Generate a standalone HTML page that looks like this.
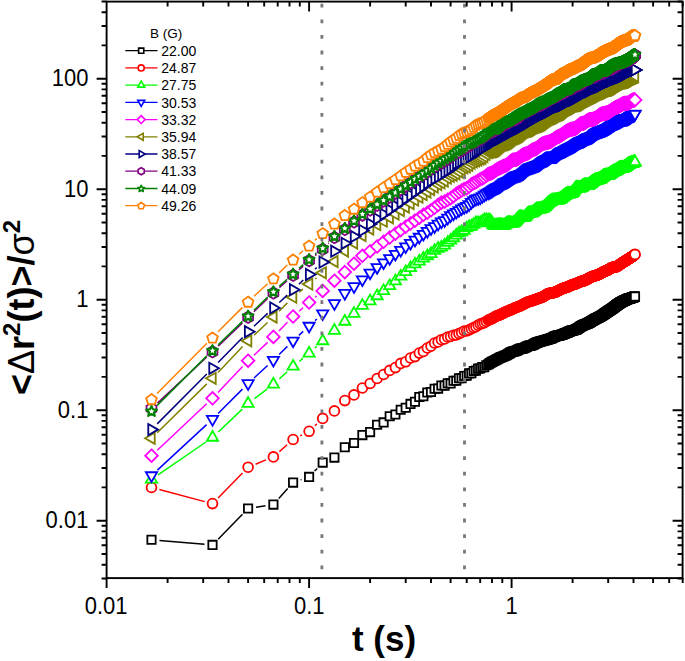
<!DOCTYPE html>
<html><head><meta charset="utf-8"><style>html,body{margin:0;padding:0;background:#fff;width:685px;height:661px;overflow:hidden}svg{display:block;font-family:"Liberation Sans",sans-serif}</style></head>
<body><svg width="685" height="661" viewBox="0 0 685 661">
<defs><path id="sq" d="M-4.15 -4.15h8.3v8.3h-8.3z"/><path id="ci" d="M-4.9 0a4.9 4.9 0 1 0 9.8 0a4.9 4.9 0 1 0 -9.8 0z"/><path id="tu" d="M0 -6.47L5.6 3.23L-5.6 3.23z"/><path id="td" d="M0 6.47L-5.6 -3.23L5.6 -3.23z"/><path id="di" d="M0 -6.3l6.3 6.3l-6.3 6.3l-6.3 -6.3z"/><path id="tl" d="M-6.47 0L3.23 -5.6L3.23 5.6z"/><path id="tr" d="M6.47 0L-3.23 5.6L-3.23 -5.6z"/><path id="hx" d="M4.94 2.85L0 5.7L-4.94 2.85L-4.94 -2.85L-0 -5.7L4.94 -2.85z"/><path id="st" d="M0 -5.2L1.53 -1.7L5.33 -1.33L2.47 1.2L3.29 4.93L0 3L-3.29 4.93L-2.47 1.2L-5.33 -1.33L-1.53 -1.7z"/><path id="pe" d="M0 -5.1L5.33 -1.23L3.29 5.03L-3.29 5.03L-5.33 -1.23z"/></defs>
<rect width="685" height="661" fill="#fff"/>
<g font-family="'Liberation Sans', sans-serif" fill="#000">
<path d="M159.5 540.5L204.5 544.2M218.1 539.2L242.5 514.2M256.0 507.3L265.5 505.8M278.8 498.6L287.7 488.6M300.6 479.9L301.6 479.6M314.6 471.1L317.2 468.4" stroke="#000000" stroke-width="1.5" fill="none"/>
<g stroke="#000000" stroke-width="1.8" fill="#fff"><use href="#sq" x="151.5" y="539.8"/><use href="#sq" x="212.5" y="544.9"/><use href="#sq" x="248.1" y="508.5"/><use href="#sq" x="273.4" y="504.6"/><use href="#sq" x="293.1" y="482.6"/><use href="#sq" x="309.1" y="476.9"/><use href="#sq" x="322.7" y="462.6"/><use href="#sq" x="334.4" y="457.6"/><use href="#sq" x="344.8" y="447.2"/><use href="#sq" x="354.0" y="443.0"/><use href="#sq" x="362.4" y="435.1"/><use href="#sq" x="370.1" y="432.1"/><use href="#sq" x="377.1" y="424.8"/><use href="#sq" x="383.6" y="422.4"/><use href="#sq" x="389.7" y="416.3"/><use href="#sq" x="395.4" y="414.5"/><use href="#sq" x="400.7" y="409.7"/><use href="#sq" x="405.7" y="407.8"/><use href="#sq" x="410.5" y="403.9"/><use href="#sq" x="415.0" y="401.8"/><use href="#sq" x="419.3" y="397.0"/><use href="#sq" x="423.4" y="396.3"/><use href="#sq" x="427.3" y="392.5"/><use href="#sq" x="431.0" y="392.0"/><use href="#sq" x="434.6" y="388.7"/><use href="#sq" x="438.1" y="388.6"/><use href="#sq" x="441.4" y="385.5"/><use href="#sq" x="444.6" y="385.6"/><use href="#sq" x="447.7" y="383.2"/><use href="#sq" x="450.6" y="383.4"/><use href="#sq" x="453.5" y="380.8"/><use href="#sq" x="456.3" y="380.7"/><use href="#sq" x="459.0" y="378.2"/><use href="#sq" x="461.6" y="378.3"/><use href="#sq" x="464.2" y="376.0"/><use href="#sq" x="466.7" y="375.7"/><use href="#sq" x="469.1" y="373.4"/><use href="#sq" x="471.4" y="373.2"/><use href="#sq" x="473.7" y="371.0"/><use href="#sq" x="475.9" y="370.6"/><use href="#sq" x="478.1" y="368.6"/><use href="#sq" x="480.2" y="368.5"/><use href="#sq" x="482.3" y="367.1"/><use href="#sq" x="484.3" y="367.1"/><use href="#sq" x="486.3" y="365.2"/><use href="#sq" x="488.2" y="364.5"/><use href="#sq" x="489.2" y="363.6"/><use href="#sq" x="490.1" y="363.0"/><use href="#sq" x="491.1" y="362.4"/><use href="#sq" x="492.0" y="361.9"/><use href="#sq" x="492.9" y="361.5"/><use href="#sq" x="493.8" y="361.0"/><use href="#sq" x="494.7" y="360.5"/><use href="#sq" x="495.6" y="360.1"/><use href="#sq" x="496.4" y="359.6"/><use href="#sq" x="497.3" y="359.1"/><use href="#sq" x="498.2" y="358.7"/><use href="#sq" x="499.0" y="358.2"/><use href="#sq" x="499.9" y="357.8"/><use href="#sq" x="500.7" y="357.4"/><use href="#sq" x="501.5" y="357.1"/><use href="#sq" x="502.3" y="356.8"/><use href="#sq" x="503.1" y="356.5"/><use href="#sq" x="503.9" y="356.2"/><use href="#sq" x="504.7" y="355.9"/><use href="#sq" x="505.5" y="355.5"/><use href="#sq" x="506.3" y="355.2"/><use href="#sq" x="507.1" y="354.8"/><use href="#sq" x="507.9" y="354.3"/><use href="#sq" x="508.6" y="353.9"/><use href="#sq" x="509.4" y="353.4"/><use href="#sq" x="510.1" y="352.9"/><use href="#sq" x="510.9" y="352.4"/><use href="#sq" x="511.6" y="352.0"/><use href="#sq" x="512.3" y="351.7"/><use href="#sq" x="513.1" y="351.5"/><use href="#sq" x="513.8" y="351.4"/><use href="#sq" x="514.5" y="351.2"/><use href="#sq" x="515.2" y="351.1"/><use href="#sq" x="515.9" y="350.9"/><use href="#sq" x="516.6" y="350.6"/><use href="#sq" x="517.3" y="350.2"/><use href="#sq" x="518.0" y="349.9"/><use href="#sq" x="518.6" y="349.5"/><use href="#sq" x="519.3" y="349.2"/><use href="#sq" x="520.0" y="348.9"/><use href="#sq" x="520.6" y="348.7"/><use href="#sq" x="521.3" y="348.6"/><use href="#sq" x="522.0" y="348.5"/><use href="#sq" x="522.6" y="348.4"/><use href="#sq" x="523.3" y="348.2"/><use href="#sq" x="523.9" y="348.1"/><use href="#sq" x="524.5" y="347.8"/><use href="#sq" x="525.2" y="347.5"/><use href="#sq" x="525.8" y="347.2"/><use href="#sq" x="526.4" y="346.9"/><use href="#sq" x="527.0" y="346.5"/><use href="#sq" x="527.6" y="346.3"/><use href="#sq" x="528.2" y="346.0"/><use href="#sq" x="528.8" y="345.9"/><use href="#sq" x="529.4" y="345.7"/><use href="#sq" x="530.0" y="345.6"/><use href="#sq" x="530.6" y="345.5"/><use href="#sq" x="531.2" y="345.4"/><use href="#sq" x="531.8" y="345.2"/><use href="#sq" x="532.4" y="345.0"/><use href="#sq" x="533.0" y="344.7"/><use href="#sq" x="533.5" y="344.4"/><use href="#sq" x="534.1" y="344.1"/><use href="#sq" x="534.7" y="343.8"/><use href="#sq" x="535.2" y="343.4"/><use href="#sq" x="535.8" y="343.1"/><use href="#sq" x="536.3" y="342.9"/><use href="#sq" x="536.9" y="342.6"/><use href="#sq" x="537.4" y="342.4"/><use href="#sq" x="538.0" y="342.2"/><use href="#sq" x="538.5" y="342.1"/><use href="#sq" x="539.1" y="341.9"/><use href="#sq" x="539.6" y="341.8"/><use href="#sq" x="540.1" y="341.6"/><use href="#sq" x="540.7" y="341.4"/><use href="#sq" x="541.2" y="341.3"/><use href="#sq" x="541.7" y="341.1"/><use href="#sq" x="542.2" y="341.0"/><use href="#sq" x="542.7" y="340.8"/><use href="#sq" x="543.3" y="340.7"/><use href="#sq" x="543.8" y="340.5"/><use href="#sq" x="544.3" y="340.4"/><use href="#sq" x="544.8" y="340.2"/><use href="#sq" x="545.3" y="340.1"/><use href="#sq" x="545.8" y="340.0"/><use href="#sq" x="546.3" y="339.9"/><use href="#sq" x="546.8" y="339.7"/><use href="#sq" x="547.3" y="339.6"/><use href="#sq" x="547.7" y="339.5"/><use href="#sq" x="548.2" y="339.3"/><use href="#sq" x="548.7" y="339.2"/><use href="#sq" x="549.2" y="339.0"/><use href="#sq" x="549.7" y="338.9"/><use href="#sq" x="550.1" y="338.7"/><use href="#sq" x="550.6" y="338.6"/><use href="#sq" x="551.1" y="338.4"/><use href="#sq" x="551.5" y="338.2"/><use href="#sq" x="552.0" y="338.0"/><use href="#sq" x="552.5" y="337.7"/><use href="#sq" x="552.9" y="337.5"/><use href="#sq" x="553.4" y="337.3"/><use href="#sq" x="553.8" y="337.0"/><use href="#sq" x="554.3" y="336.8"/><use href="#sq" x="554.7" y="336.6"/><use href="#sq" x="555.2" y="336.4"/><use href="#sq" x="555.6" y="336.2"/><use href="#sq" x="556.1" y="336.1"/><use href="#sq" x="556.5" y="335.9"/><use href="#sq" x="557.0" y="335.8"/><use href="#sq" x="557.4" y="335.7"/><use href="#sq" x="557.8" y="335.7"/><use href="#sq" x="558.3" y="335.6"/><use href="#sq" x="558.7" y="335.5"/><use href="#sq" x="559.1" y="335.5"/><use href="#sq" x="559.5" y="335.4"/><use href="#sq" x="560.0" y="335.3"/><use href="#sq" x="560.4" y="335.2"/><use href="#sq" x="560.8" y="335.0"/><use href="#sq" x="561.2" y="334.9"/><use href="#sq" x="561.6" y="334.8"/><use href="#sq" x="562.1" y="334.6"/><use href="#sq" x="562.5" y="334.5"/><use href="#sq" x="562.9" y="334.3"/><use href="#sq" x="563.3" y="334.1"/><use href="#sq" x="563.7" y="334.0"/><use href="#sq" x="564.1" y="333.8"/><use href="#sq" x="564.5" y="333.6"/><use href="#sq" x="564.9" y="333.5"/><use href="#sq" x="565.3" y="333.3"/><use href="#sq" x="565.7" y="333.2"/><use href="#sq" x="566.1" y="333.0"/><use href="#sq" x="566.5" y="332.9"/><use href="#sq" x="566.9" y="332.7"/><use href="#sq" x="567.3" y="332.5"/><use href="#sq" x="567.7" y="332.4"/><use href="#sq" x="568.0" y="332.2"/><use href="#sq" x="568.4" y="332.0"/><use href="#sq" x="568.8" y="331.8"/><use href="#sq" x="569.2" y="331.6"/><use href="#sq" x="569.6" y="331.5"/><use href="#sq" x="570.0" y="331.3"/><use href="#sq" x="570.3" y="331.1"/><use href="#sq" x="570.7" y="331.0"/><use href="#sq" x="571.1" y="330.8"/><use href="#sq" x="571.5" y="330.7"/><use href="#sq" x="571.8" y="330.6"/><use href="#sq" x="572.2" y="330.5"/><use href="#sq" x="572.6" y="330.4"/><use href="#sq" x="572.9" y="330.3"/><use href="#sq" x="573.3" y="330.2"/><use href="#sq" x="573.7" y="330.2"/><use href="#sq" x="574.0" y="330.1"/><use href="#sq" x="574.4" y="330.0"/><use href="#sq" x="574.7" y="330.0"/><use href="#sq" x="575.1" y="329.9"/><use href="#sq" x="575.4" y="329.8"/><use href="#sq" x="575.8" y="329.6"/><use href="#sq" x="576.1" y="329.5"/><use href="#sq" x="576.5" y="329.3"/><use href="#sq" x="576.8" y="329.1"/><use href="#sq" x="577.2" y="328.9"/><use href="#sq" x="577.5" y="328.7"/><use href="#sq" x="577.9" y="328.4"/><use href="#sq" x="578.2" y="328.2"/><use href="#sq" x="578.6" y="328.0"/><use href="#sq" x="578.9" y="327.7"/><use href="#sq" x="579.3" y="327.5"/><use href="#sq" x="579.6" y="327.2"/><use href="#sq" x="579.9" y="327.0"/><use href="#sq" x="580.3" y="326.8"/><use href="#sq" x="580.6" y="326.5"/><use href="#sq" x="580.9" y="326.3"/><use href="#sq" x="581.3" y="326.1"/><use href="#sq" x="581.6" y="326.0"/><use href="#sq" x="581.9" y="325.8"/><use href="#sq" x="582.3" y="325.6"/><use href="#sq" x="582.6" y="325.4"/><use href="#sq" x="582.9" y="325.3"/><use href="#sq" x="583.2" y="325.1"/><use href="#sq" x="583.6" y="325.0"/><use href="#sq" x="583.9" y="324.8"/><use href="#sq" x="584.2" y="324.7"/><use href="#sq" x="584.5" y="324.6"/><use href="#sq" x="584.8" y="324.5"/><use href="#sq" x="585.2" y="324.3"/><use href="#sq" x="585.5" y="324.2"/><use href="#sq" x="585.8" y="324.1"/><use href="#sq" x="586.1" y="324.0"/><use href="#sq" x="586.4" y="323.9"/><use href="#sq" x="586.7" y="323.8"/><use href="#sq" x="587.1" y="323.6"/><use href="#sq" x="587.4" y="323.5"/><use href="#sq" x="587.7" y="323.4"/><use href="#sq" x="588.0" y="323.2"/><use href="#sq" x="588.3" y="323.1"/><use href="#sq" x="588.6" y="322.9"/><use href="#sq" x="588.9" y="322.8"/><use href="#sq" x="589.2" y="322.6"/><use href="#sq" x="589.5" y="322.4"/><use href="#sq" x="589.8" y="322.2"/><use href="#sq" x="590.1" y="322.1"/><use href="#sq" x="590.4" y="321.9"/><use href="#sq" x="590.7" y="321.7"/><use href="#sq" x="591.0" y="321.5"/><use href="#sq" x="591.3" y="321.3"/><use href="#sq" x="591.6" y="321.1"/><use href="#sq" x="591.9" y="321.0"/><use href="#sq" x="592.2" y="320.8"/><use href="#sq" x="592.5" y="320.6"/><use href="#sq" x="592.8" y="320.4"/><use href="#sq" x="593.1" y="320.2"/><use href="#sq" x="593.3" y="320.1"/><use href="#sq" x="593.6" y="319.9"/><use href="#sq" x="593.9" y="319.7"/><use href="#sq" x="594.2" y="319.6"/><use href="#sq" x="594.5" y="319.4"/><use href="#sq" x="594.8" y="319.3"/><use href="#sq" x="595.1" y="319.1"/><use href="#sq" x="595.3" y="318.9"/><use href="#sq" x="595.6" y="318.8"/><use href="#sq" x="595.9" y="318.7"/><use href="#sq" x="596.2" y="318.5"/><use href="#sq" x="596.5" y="318.4"/><use href="#sq" x="596.8" y="318.2"/><use href="#sq" x="597.0" y="318.1"/><use href="#sq" x="597.3" y="318.0"/><use href="#sq" x="597.6" y="317.8"/><use href="#sq" x="597.9" y="317.7"/><use href="#sq" x="598.1" y="317.6"/><use href="#sq" x="598.4" y="317.4"/><use href="#sq" x="598.7" y="317.3"/><use href="#sq" x="599.0" y="317.2"/><use href="#sq" x="599.2" y="317.0"/><use href="#sq" x="599.5" y="316.9"/><use href="#sq" x="599.8" y="316.8"/><use href="#sq" x="600.0" y="316.6"/><use href="#sq" x="600.3" y="316.5"/><use href="#sq" x="600.6" y="316.3"/><use href="#sq" x="600.8" y="316.2"/><use href="#sq" x="601.1" y="316.0"/><use href="#sq" x="601.4" y="315.9"/><use href="#sq" x="601.6" y="315.7"/><use href="#sq" x="601.9" y="315.5"/><use href="#sq" x="602.1" y="315.4"/><use href="#sq" x="602.4" y="315.2"/><use href="#sq" x="602.7" y="315.0"/><use href="#sq" x="602.9" y="314.8"/><use href="#sq" x="603.2" y="314.7"/><use href="#sq" x="603.4" y="314.5"/><use href="#sq" x="603.7" y="314.3"/><use href="#sq" x="604.0" y="314.1"/><use href="#sq" x="604.2" y="313.9"/><use href="#sq" x="604.5" y="313.8"/><use href="#sq" x="604.7" y="313.6"/><use href="#sq" x="605.0" y="313.4"/><use href="#sq" x="605.2" y="313.2"/><use href="#sq" x="605.5" y="313.1"/><use href="#sq" x="605.7" y="312.9"/><use href="#sq" x="606.0" y="312.7"/><use href="#sq" x="606.2" y="312.5"/><use href="#sq" x="606.5" y="312.4"/><use href="#sq" x="606.7" y="312.2"/><use href="#sq" x="607.0" y="312.0"/><use href="#sq" x="607.2" y="311.9"/><use href="#sq" x="607.5" y="311.7"/><use href="#sq" x="607.7" y="311.5"/><use href="#sq" x="608.0" y="311.4"/><use href="#sq" x="608.2" y="311.2"/><use href="#sq" x="608.5" y="311.0"/><use href="#sq" x="608.7" y="310.9"/><use href="#sq" x="608.9" y="310.7"/><use href="#sq" x="609.2" y="310.6"/><use href="#sq" x="609.4" y="310.4"/><use href="#sq" x="609.7" y="310.3"/><use href="#sq" x="609.9" y="310.1"/><use href="#sq" x="610.1" y="310.0"/><use href="#sq" x="610.4" y="309.8"/><use href="#sq" x="610.6" y="309.6"/><use href="#sq" x="610.9" y="309.5"/><use href="#sq" x="611.1" y="309.3"/><use href="#sq" x="611.3" y="309.2"/><use href="#sq" x="611.6" y="309.0"/><use href="#sq" x="611.8" y="308.9"/><use href="#sq" x="612.0" y="308.7"/><use href="#sq" x="612.3" y="308.5"/><use href="#sq" x="612.5" y="308.4"/><use href="#sq" x="612.7" y="308.2"/><use href="#sq" x="613.0" y="308.0"/><use href="#sq" x="613.2" y="307.9"/><use href="#sq" x="613.4" y="307.7"/><use href="#sq" x="613.7" y="307.5"/><use href="#sq" x="613.9" y="307.3"/><use href="#sq" x="614.1" y="307.2"/><use href="#sq" x="614.3" y="307.0"/><use href="#sq" x="614.6" y="306.8"/><use href="#sq" x="614.8" y="306.6"/><use href="#sq" x="615.0" y="306.5"/><use href="#sq" x="615.3" y="306.3"/><use href="#sq" x="615.5" y="306.1"/><use href="#sq" x="615.7" y="306.0"/><use href="#sq" x="615.9" y="305.8"/><use href="#sq" x="616.2" y="305.6"/><use href="#sq" x="616.4" y="305.4"/><use href="#sq" x="616.6" y="305.3"/><use href="#sq" x="616.8" y="305.1"/><use href="#sq" x="617.0" y="304.9"/><use href="#sq" x="617.3" y="304.8"/><use href="#sq" x="617.5" y="304.6"/><use href="#sq" x="617.7" y="304.4"/><use href="#sq" x="617.9" y="304.3"/><use href="#sq" x="618.1" y="304.1"/><use href="#sq" x="618.4" y="304.0"/><use href="#sq" x="618.6" y="303.8"/><use href="#sq" x="618.8" y="303.7"/><use href="#sq" x="619.0" y="303.5"/><use href="#sq" x="619.2" y="303.4"/><use href="#sq" x="619.4" y="303.2"/><use href="#sq" x="619.7" y="303.1"/><use href="#sq" x="619.9" y="303.0"/><use href="#sq" x="620.1" y="302.8"/><use href="#sq" x="620.3" y="302.7"/><use href="#sq" x="620.5" y="302.6"/><use href="#sq" x="620.7" y="302.4"/><use href="#sq" x="620.9" y="302.3"/><use href="#sq" x="621.1" y="302.2"/><use href="#sq" x="621.4" y="302.1"/><use href="#sq" x="621.6" y="302.0"/><use href="#sq" x="621.8" y="301.9"/><use href="#sq" x="622.0" y="301.8"/><use href="#sq" x="622.2" y="301.7"/><use href="#sq" x="622.4" y="301.6"/><use href="#sq" x="622.6" y="301.5"/><use href="#sq" x="622.8" y="301.3"/><use href="#sq" x="623.0" y="301.2"/><use href="#sq" x="623.2" y="301.1"/><use href="#sq" x="623.4" y="301.0"/><use href="#sq" x="623.6" y="300.9"/><use href="#sq" x="623.8" y="300.8"/><use href="#sq" x="624.0" y="300.7"/><use href="#sq" x="624.3" y="300.6"/><use href="#sq" x="624.5" y="300.5"/><use href="#sq" x="624.7" y="300.4"/><use href="#sq" x="624.9" y="300.4"/><use href="#sq" x="625.1" y="300.3"/><use href="#sq" x="625.3" y="300.2"/><use href="#sq" x="625.5" y="300.1"/><use href="#sq" x="625.7" y="300.0"/><use href="#sq" x="625.9" y="299.9"/><use href="#sq" x="626.1" y="299.8"/><use href="#sq" x="626.3" y="299.7"/><use href="#sq" x="626.5" y="299.6"/><use href="#sq" x="626.7" y="299.5"/><use href="#sq" x="626.9" y="299.4"/><use href="#sq" x="627.1" y="299.3"/><use href="#sq" x="627.3" y="299.3"/><use href="#sq" x="627.4" y="299.2"/><use href="#sq" x="627.6" y="299.1"/><use href="#sq" x="627.8" y="299.0"/><use href="#sq" x="628.0" y="298.9"/><use href="#sq" x="628.2" y="298.9"/><use href="#sq" x="628.4" y="298.8"/><use href="#sq" x="628.6" y="298.7"/><use href="#sq" x="628.8" y="298.7"/><use href="#sq" x="629.0" y="298.6"/><use href="#sq" x="629.2" y="298.6"/><use href="#sq" x="629.4" y="298.5"/><use href="#sq" x="629.6" y="298.5"/><use href="#sq" x="629.8" y="298.4"/><use href="#sq" x="630.0" y="298.3"/><use href="#sq" x="630.2" y="298.3"/><use href="#sq" x="630.3" y="298.2"/><use href="#sq" x="630.5" y="298.2"/><use href="#sq" x="630.7" y="298.1"/><use href="#sq" x="630.9" y="298.1"/><use href="#sq" x="631.1" y="298.0"/><use href="#sq" x="631.3" y="297.9"/><use href="#sq" x="631.5" y="297.9"/><use href="#sq" x="631.7" y="297.8"/><use href="#sq" x="631.9" y="297.8"/><use href="#sq" x="632.0" y="297.7"/><use href="#sq" x="632.2" y="297.6"/><use href="#sq" x="632.4" y="297.6"/><use href="#sq" x="632.6" y="297.5"/><use href="#sq" x="632.8" y="297.4"/><use href="#sq" x="633.0" y="297.4"/><use href="#sq" x="633.1" y="297.3"/><use href="#sq" x="633.3" y="297.2"/><use href="#sq" x="633.5" y="297.1"/><use href="#sq" x="633.7" y="297.1"/><use href="#sq" x="633.9" y="297.0"/><use href="#sq" x="634.1" y="296.9"/><use href="#sq" x="634.2" y="296.8"/><use href="#sq" x="634.4" y="296.7"/><use href="#sq" x="634.6" y="296.7"/><use href="#sq" x="634.8" y="296.6"/><use href="#sq" x="635.0" y="296.5"/></g>
<path d="M159.3 489.5L204.7 501.6M218.1 497.9L242.5 472.9M255.6 464.2L266.0 459.9M279.4 451.6L287.1 444.8M300.2 435.9L302.0 434.9M314.9 425.8L316.9 423.9" stroke="#ff0000" stroke-width="1.5" fill="none"/>
<g stroke="#ff0000" stroke-width="1.8" fill="#fff"><use href="#ci" x="151.5" y="487.5"/><use href="#ci" x="212.5" y="503.6"/><use href="#ci" x="248.1" y="467.2"/><use href="#ci" x="273.4" y="456.9"/><use href="#ci" x="293.1" y="439.5"/><use href="#ci" x="309.1" y="431.3"/><use href="#ci" x="322.7" y="418.4"/><use href="#ci" x="334.4" y="410.9"/><use href="#ci" x="344.8" y="400.6"/><use href="#ci" x="354.0" y="394.9"/><use href="#ci" x="362.4" y="388.0"/><use href="#ci" x="370.1" y="383.5"/><use href="#ci" x="377.1" y="378.5"/><use href="#ci" x="383.6" y="374.5"/><use href="#ci" x="389.7" y="370.4"/><use href="#ci" x="395.4" y="367.6"/><use href="#ci" x="400.7" y="363.4"/><use href="#ci" x="405.7" y="361.8"/><use href="#ci" x="410.5" y="358.0"/><use href="#ci" x="415.0" y="356.6"/><use href="#ci" x="419.3" y="353.1"/><use href="#ci" x="423.4" y="351.4"/><use href="#ci" x="427.3" y="348.0"/><use href="#ci" x="431.0" y="346.2"/><use href="#ci" x="434.6" y="343.0"/><use href="#ci" x="438.1" y="341.9"/><use href="#ci" x="441.4" y="339.7"/><use href="#ci" x="444.6" y="339.0"/><use href="#ci" x="447.7" y="337.0"/><use href="#ci" x="450.6" y="336.5"/><use href="#ci" x="453.5" y="335.2"/><use href="#ci" x="456.3" y="334.9"/><use href="#ci" x="459.0" y="333.6"/><use href="#ci" x="461.6" y="332.5"/><use href="#ci" x="464.2" y="331.0"/><use href="#ci" x="466.7" y="331.0"/><use href="#ci" x="469.1" y="330.0"/><use href="#ci" x="471.4" y="328.7"/><use href="#ci" x="473.7" y="327.6"/><use href="#ci" x="475.9" y="326.7"/><use href="#ci" x="478.1" y="325.2"/><use href="#ci" x="480.2" y="324.0"/><use href="#ci" x="482.3" y="323.4"/><use href="#ci" x="484.3" y="322.7"/><use href="#ci" x="486.3" y="321.5"/><use href="#ci" x="488.2" y="320.2"/><use href="#ci" x="489.2" y="319.7"/><use href="#ci" x="490.1" y="319.4"/><use href="#ci" x="491.1" y="319.0"/><use href="#ci" x="492.0" y="318.6"/><use href="#ci" x="492.9" y="318.1"/><use href="#ci" x="493.8" y="317.5"/><use href="#ci" x="494.7" y="317.0"/><use href="#ci" x="495.6" y="316.4"/><use href="#ci" x="496.4" y="316.0"/><use href="#ci" x="497.3" y="315.7"/><use href="#ci" x="498.2" y="315.4"/><use href="#ci" x="499.0" y="315.1"/><use href="#ci" x="499.9" y="314.8"/><use href="#ci" x="500.7" y="314.4"/><use href="#ci" x="501.5" y="314.0"/><use href="#ci" x="502.3" y="313.6"/><use href="#ci" x="503.1" y="313.2"/><use href="#ci" x="503.9" y="312.8"/><use href="#ci" x="504.7" y="312.4"/><use href="#ci" x="505.5" y="312.0"/><use href="#ci" x="506.3" y="311.6"/><use href="#ci" x="507.1" y="311.3"/><use href="#ci" x="507.9" y="311.0"/><use href="#ci" x="508.6" y="310.7"/><use href="#ci" x="509.4" y="310.4"/><use href="#ci" x="510.1" y="310.1"/><use href="#ci" x="510.9" y="309.8"/><use href="#ci" x="511.6" y="309.5"/><use href="#ci" x="512.3" y="309.2"/><use href="#ci" x="513.1" y="308.8"/><use href="#ci" x="513.8" y="308.5"/><use href="#ci" x="514.5" y="308.1"/><use href="#ci" x="515.2" y="307.8"/><use href="#ci" x="515.9" y="307.5"/><use href="#ci" x="516.6" y="307.2"/><use href="#ci" x="517.3" y="307.0"/><use href="#ci" x="518.0" y="306.8"/><use href="#ci" x="518.6" y="306.5"/><use href="#ci" x="519.3" y="306.3"/><use href="#ci" x="520.0" y="306.0"/><use href="#ci" x="520.6" y="305.7"/><use href="#ci" x="521.3" y="305.4"/><use href="#ci" x="522.0" y="305.0"/><use href="#ci" x="522.6" y="304.6"/><use href="#ci" x="523.3" y="304.3"/><use href="#ci" x="523.9" y="303.9"/><use href="#ci" x="524.5" y="303.6"/><use href="#ci" x="525.2" y="303.3"/><use href="#ci" x="525.8" y="303.0"/><use href="#ci" x="526.4" y="302.7"/><use href="#ci" x="527.0" y="302.4"/><use href="#ci" x="527.6" y="302.2"/><use href="#ci" x="528.2" y="301.9"/><use href="#ci" x="528.8" y="301.7"/><use href="#ci" x="529.4" y="301.5"/><use href="#ci" x="530.0" y="301.3"/><use href="#ci" x="530.6" y="301.2"/><use href="#ci" x="531.2" y="301.0"/><use href="#ci" x="531.8" y="300.8"/><use href="#ci" x="532.4" y="300.6"/><use href="#ci" x="533.0" y="300.4"/><use href="#ci" x="533.5" y="300.2"/><use href="#ci" x="534.1" y="300.0"/><use href="#ci" x="534.7" y="299.8"/><use href="#ci" x="535.2" y="299.6"/><use href="#ci" x="535.8" y="299.4"/><use href="#ci" x="536.3" y="299.2"/><use href="#ci" x="536.9" y="299.0"/><use href="#ci" x="537.4" y="298.8"/><use href="#ci" x="538.0" y="298.6"/><use href="#ci" x="538.5" y="298.4"/><use href="#ci" x="539.1" y="298.2"/><use href="#ci" x="539.6" y="298.1"/><use href="#ci" x="540.1" y="297.9"/><use href="#ci" x="540.7" y="297.7"/><use href="#ci" x="541.2" y="297.5"/><use href="#ci" x="541.7" y="297.3"/><use href="#ci" x="542.2" y="297.1"/><use href="#ci" x="542.7" y="296.8"/><use href="#ci" x="543.3" y="296.6"/><use href="#ci" x="543.8" y="296.3"/><use href="#ci" x="544.3" y="296.0"/><use href="#ci" x="544.8" y="295.7"/><use href="#ci" x="545.3" y="295.4"/><use href="#ci" x="545.8" y="295.0"/><use href="#ci" x="546.3" y="294.7"/><use href="#ci" x="546.8" y="294.4"/><use href="#ci" x="547.3" y="294.1"/><use href="#ci" x="547.7" y="293.9"/><use href="#ci" x="548.2" y="293.7"/><use href="#ci" x="548.7" y="293.5"/><use href="#ci" x="549.2" y="293.4"/><use href="#ci" x="549.7" y="293.3"/><use href="#ci" x="550.1" y="293.2"/><use href="#ci" x="550.6" y="293.1"/><use href="#ci" x="551.1" y="293.1"/><use href="#ci" x="551.5" y="293.0"/><use href="#ci" x="552.0" y="293.0"/><use href="#ci" x="552.5" y="292.9"/><use href="#ci" x="552.9" y="292.8"/><use href="#ci" x="553.4" y="292.7"/><use href="#ci" x="553.8" y="292.5"/><use href="#ci" x="554.3" y="292.4"/><use href="#ci" x="554.7" y="292.3"/><use href="#ci" x="555.2" y="292.1"/><use href="#ci" x="555.6" y="291.9"/><use href="#ci" x="556.1" y="291.8"/><use href="#ci" x="556.5" y="291.6"/><use href="#ci" x="557.0" y="291.4"/><use href="#ci" x="557.4" y="291.1"/><use href="#ci" x="557.8" y="290.9"/><use href="#ci" x="558.3" y="290.7"/><use href="#ci" x="558.7" y="290.5"/><use href="#ci" x="559.1" y="290.3"/><use href="#ci" x="559.5" y="290.0"/><use href="#ci" x="560.0" y="289.8"/><use href="#ci" x="560.4" y="289.6"/><use href="#ci" x="560.8" y="289.4"/><use href="#ci" x="561.2" y="289.2"/><use href="#ci" x="561.6" y="289.0"/><use href="#ci" x="562.1" y="288.8"/><use href="#ci" x="562.5" y="288.6"/><use href="#ci" x="562.9" y="288.5"/><use href="#ci" x="563.3" y="288.3"/><use href="#ci" x="563.7" y="288.2"/><use href="#ci" x="564.1" y="288.0"/><use href="#ci" x="564.5" y="287.9"/><use href="#ci" x="564.9" y="287.8"/><use href="#ci" x="565.3" y="287.7"/><use href="#ci" x="565.7" y="287.5"/><use href="#ci" x="566.1" y="287.4"/><use href="#ci" x="566.5" y="287.3"/><use href="#ci" x="566.9" y="287.2"/><use href="#ci" x="567.3" y="287.1"/><use href="#ci" x="567.7" y="286.9"/><use href="#ci" x="568.0" y="286.8"/><use href="#ci" x="568.4" y="286.6"/><use href="#ci" x="568.8" y="286.4"/><use href="#ci" x="569.2" y="286.2"/><use href="#ci" x="569.6" y="286.0"/><use href="#ci" x="570.0" y="285.9"/><use href="#ci" x="570.3" y="285.7"/><use href="#ci" x="570.7" y="285.5"/><use href="#ci" x="571.1" y="285.3"/><use href="#ci" x="571.5" y="285.1"/><use href="#ci" x="571.8" y="285.0"/><use href="#ci" x="572.2" y="284.8"/><use href="#ci" x="572.6" y="284.7"/><use href="#ci" x="572.9" y="284.6"/><use href="#ci" x="573.3" y="284.5"/><use href="#ci" x="573.7" y="284.4"/><use href="#ci" x="574.0" y="284.3"/><use href="#ci" x="574.4" y="284.2"/><use href="#ci" x="574.7" y="284.1"/><use href="#ci" x="575.1" y="284.0"/><use href="#ci" x="575.4" y="283.9"/><use href="#ci" x="575.8" y="283.8"/><use href="#ci" x="576.1" y="283.6"/><use href="#ci" x="576.5" y="283.5"/><use href="#ci" x="576.8" y="283.3"/><use href="#ci" x="577.2" y="283.2"/><use href="#ci" x="577.5" y="283.0"/><use href="#ci" x="577.9" y="282.8"/><use href="#ci" x="578.2" y="282.7"/><use href="#ci" x="578.6" y="282.5"/><use href="#ci" x="578.9" y="282.3"/><use href="#ci" x="579.3" y="282.2"/><use href="#ci" x="579.6" y="282.0"/><use href="#ci" x="579.9" y="281.9"/><use href="#ci" x="580.3" y="281.8"/><use href="#ci" x="580.6" y="281.6"/><use href="#ci" x="580.9" y="281.5"/><use href="#ci" x="581.3" y="281.4"/><use href="#ci" x="581.6" y="281.4"/><use href="#ci" x="581.9" y="281.3"/><use href="#ci" x="582.3" y="281.2"/><use href="#ci" x="582.6" y="281.1"/><use href="#ci" x="582.9" y="281.0"/><use href="#ci" x="583.2" y="280.9"/><use href="#ci" x="583.6" y="280.8"/><use href="#ci" x="583.9" y="280.7"/><use href="#ci" x="584.2" y="280.6"/><use href="#ci" x="584.5" y="280.5"/><use href="#ci" x="584.8" y="280.4"/><use href="#ci" x="585.2" y="280.2"/><use href="#ci" x="585.5" y="280.1"/><use href="#ci" x="585.8" y="279.9"/><use href="#ci" x="586.1" y="279.8"/><use href="#ci" x="586.4" y="279.6"/><use href="#ci" x="586.7" y="279.4"/><use href="#ci" x="587.1" y="279.3"/><use href="#ci" x="587.4" y="279.1"/><use href="#ci" x="587.7" y="278.9"/><use href="#ci" x="588.0" y="278.8"/><use href="#ci" x="588.3" y="278.6"/><use href="#ci" x="588.6" y="278.4"/><use href="#ci" x="588.9" y="278.2"/><use href="#ci" x="589.2" y="278.1"/><use href="#ci" x="589.5" y="277.9"/><use href="#ci" x="589.8" y="277.7"/><use href="#ci" x="590.1" y="277.6"/><use href="#ci" x="590.4" y="277.4"/><use href="#ci" x="590.7" y="277.3"/><use href="#ci" x="591.0" y="277.1"/><use href="#ci" x="591.3" y="277.0"/><use href="#ci" x="591.6" y="276.8"/><use href="#ci" x="591.9" y="276.7"/><use href="#ci" x="592.2" y="276.6"/><use href="#ci" x="592.5" y="276.5"/><use href="#ci" x="592.8" y="276.4"/><use href="#ci" x="593.1" y="276.3"/><use href="#ci" x="593.3" y="276.2"/><use href="#ci" x="593.6" y="276.1"/><use href="#ci" x="593.9" y="276.0"/><use href="#ci" x="594.2" y="275.9"/><use href="#ci" x="594.5" y="275.8"/><use href="#ci" x="594.8" y="275.8"/><use href="#ci" x="595.1" y="275.7"/><use href="#ci" x="595.3" y="275.6"/><use href="#ci" x="595.6" y="275.5"/><use href="#ci" x="595.9" y="275.4"/><use href="#ci" x="596.2" y="275.3"/><use href="#ci" x="596.5" y="275.3"/><use href="#ci" x="596.8" y="275.2"/><use href="#ci" x="597.0" y="275.1"/><use href="#ci" x="597.3" y="275.0"/><use href="#ci" x="597.6" y="274.9"/><use href="#ci" x="597.9" y="274.8"/><use href="#ci" x="598.1" y="274.6"/><use href="#ci" x="598.4" y="274.5"/><use href="#ci" x="598.7" y="274.4"/><use href="#ci" x="599.0" y="274.3"/><use href="#ci" x="599.2" y="274.2"/><use href="#ci" x="599.5" y="274.0"/><use href="#ci" x="599.8" y="273.9"/><use href="#ci" x="600.0" y="273.8"/><use href="#ci" x="600.3" y="273.6"/><use href="#ci" x="600.6" y="273.5"/><use href="#ci" x="600.8" y="273.3"/><use href="#ci" x="601.1" y="273.2"/><use href="#ci" x="601.4" y="273.0"/><use href="#ci" x="601.6" y="272.8"/><use href="#ci" x="601.9" y="272.7"/><use href="#ci" x="602.1" y="272.5"/><use href="#ci" x="602.4" y="272.4"/><use href="#ci" x="602.7" y="272.2"/><use href="#ci" x="602.9" y="272.1"/><use href="#ci" x="603.2" y="272.0"/><use href="#ci" x="603.4" y="271.8"/><use href="#ci" x="603.7" y="271.7"/><use href="#ci" x="604.0" y="271.6"/><use href="#ci" x="604.2" y="271.5"/><use href="#ci" x="604.5" y="271.4"/><use href="#ci" x="604.7" y="271.3"/><use href="#ci" x="605.0" y="271.2"/><use href="#ci" x="605.2" y="271.1"/><use href="#ci" x="605.5" y="271.0"/><use href="#ci" x="605.7" y="270.9"/><use href="#ci" x="606.0" y="270.8"/><use href="#ci" x="606.2" y="270.7"/><use href="#ci" x="606.5" y="270.6"/><use href="#ci" x="606.7" y="270.5"/><use href="#ci" x="607.0" y="270.4"/><use href="#ci" x="607.2" y="270.3"/><use href="#ci" x="607.5" y="270.2"/><use href="#ci" x="607.7" y="270.1"/><use href="#ci" x="608.0" y="269.9"/><use href="#ci" x="608.2" y="269.8"/><use href="#ci" x="608.5" y="269.7"/><use href="#ci" x="608.7" y="269.5"/><use href="#ci" x="608.9" y="269.4"/><use href="#ci" x="609.2" y="269.2"/><use href="#ci" x="609.4" y="269.0"/><use href="#ci" x="609.7" y="268.9"/><use href="#ci" x="609.9" y="268.7"/><use href="#ci" x="610.1" y="268.6"/><use href="#ci" x="610.4" y="268.4"/><use href="#ci" x="610.6" y="268.3"/><use href="#ci" x="610.9" y="268.1"/><use href="#ci" x="611.1" y="268.0"/><use href="#ci" x="611.3" y="267.9"/><use href="#ci" x="611.6" y="267.8"/><use href="#ci" x="611.8" y="267.7"/><use href="#ci" x="612.0" y="267.6"/><use href="#ci" x="612.3" y="267.5"/><use href="#ci" x="612.5" y="267.4"/><use href="#ci" x="612.7" y="267.4"/><use href="#ci" x="613.0" y="267.3"/><use href="#ci" x="613.2" y="267.3"/><use href="#ci" x="613.4" y="267.3"/><use href="#ci" x="613.7" y="267.2"/><use href="#ci" x="613.9" y="267.2"/><use href="#ci" x="614.1" y="267.2"/><use href="#ci" x="614.3" y="267.2"/><use href="#ci" x="614.6" y="267.1"/><use href="#ci" x="614.8" y="267.1"/><use href="#ci" x="615.0" y="267.1"/><use href="#ci" x="615.3" y="267.0"/><use href="#ci" x="615.5" y="267.0"/><use href="#ci" x="615.7" y="266.9"/><use href="#ci" x="615.9" y="266.9"/><use href="#ci" x="616.2" y="266.8"/><use href="#ci" x="616.4" y="266.7"/><use href="#ci" x="616.6" y="266.6"/><use href="#ci" x="616.8" y="266.5"/><use href="#ci" x="617.0" y="266.4"/><use href="#ci" x="617.3" y="266.3"/><use href="#ci" x="617.5" y="266.2"/><use href="#ci" x="617.7" y="266.0"/><use href="#ci" x="617.9" y="265.9"/><use href="#ci" x="618.1" y="265.7"/><use href="#ci" x="618.4" y="265.6"/><use href="#ci" x="618.6" y="265.4"/><use href="#ci" x="618.8" y="265.3"/><use href="#ci" x="619.0" y="265.1"/><use href="#ci" x="619.2" y="265.0"/><use href="#ci" x="619.4" y="264.8"/><use href="#ci" x="619.7" y="264.7"/><use href="#ci" x="619.9" y="264.5"/><use href="#ci" x="620.1" y="264.3"/><use href="#ci" x="620.3" y="264.2"/><use href="#ci" x="620.5" y="264.0"/><use href="#ci" x="620.7" y="263.9"/><use href="#ci" x="620.9" y="263.7"/><use href="#ci" x="621.1" y="263.6"/><use href="#ci" x="621.4" y="263.4"/><use href="#ci" x="621.6" y="263.3"/><use href="#ci" x="621.8" y="263.2"/><use href="#ci" x="622.0" y="263.0"/><use href="#ci" x="622.2" y="262.9"/><use href="#ci" x="622.4" y="262.7"/><use href="#ci" x="622.6" y="262.6"/><use href="#ci" x="622.8" y="262.5"/><use href="#ci" x="623.0" y="262.3"/><use href="#ci" x="623.2" y="262.2"/><use href="#ci" x="623.4" y="262.1"/><use href="#ci" x="623.6" y="261.9"/><use href="#ci" x="623.8" y="261.8"/><use href="#ci" x="624.0" y="261.7"/><use href="#ci" x="624.3" y="261.5"/><use href="#ci" x="624.5" y="261.4"/><use href="#ci" x="624.7" y="261.3"/><use href="#ci" x="624.9" y="261.2"/><use href="#ci" x="625.1" y="261.1"/><use href="#ci" x="625.3" y="260.9"/><use href="#ci" x="625.5" y="260.8"/><use href="#ci" x="625.7" y="260.7"/><use href="#ci" x="625.9" y="260.6"/><use href="#ci" x="626.1" y="260.4"/><use href="#ci" x="626.3" y="260.3"/><use href="#ci" x="626.5" y="260.2"/><use href="#ci" x="626.7" y="260.1"/><use href="#ci" x="626.9" y="259.9"/><use href="#ci" x="627.1" y="259.8"/><use href="#ci" x="627.3" y="259.7"/><use href="#ci" x="627.4" y="259.6"/><use href="#ci" x="627.6" y="259.5"/><use href="#ci" x="627.8" y="259.3"/><use href="#ci" x="628.0" y="259.2"/><use href="#ci" x="628.2" y="259.1"/><use href="#ci" x="628.4" y="259.0"/><use href="#ci" x="628.6" y="258.8"/><use href="#ci" x="628.8" y="258.7"/><use href="#ci" x="629.0" y="258.6"/><use href="#ci" x="629.2" y="258.5"/><use href="#ci" x="629.4" y="258.3"/><use href="#ci" x="629.6" y="258.2"/><use href="#ci" x="629.8" y="258.1"/><use href="#ci" x="630.0" y="258.0"/><use href="#ci" x="630.2" y="257.9"/><use href="#ci" x="630.3" y="257.7"/><use href="#ci" x="630.5" y="257.6"/><use href="#ci" x="630.7" y="257.5"/><use href="#ci" x="630.9" y="257.4"/><use href="#ci" x="631.1" y="257.2"/><use href="#ci" x="631.3" y="257.1"/><use href="#ci" x="631.5" y="257.0"/><use href="#ci" x="631.7" y="256.9"/><use href="#ci" x="631.9" y="256.7"/><use href="#ci" x="632.0" y="256.6"/><use href="#ci" x="632.2" y="256.5"/><use href="#ci" x="632.4" y="256.3"/><use href="#ci" x="632.6" y="256.2"/><use href="#ci" x="632.8" y="256.1"/><use href="#ci" x="633.0" y="256.0"/><use href="#ci" x="633.1" y="255.8"/><use href="#ci" x="633.3" y="255.7"/><use href="#ci" x="633.5" y="255.6"/><use href="#ci" x="633.7" y="255.4"/><use href="#ci" x="633.9" y="255.3"/><use href="#ci" x="634.1" y="255.1"/><use href="#ci" x="634.2" y="255.0"/><use href="#ci" x="634.4" y="254.9"/><use href="#ci" x="634.6" y="254.7"/><use href="#ci" x="634.8" y="254.6"/><use href="#ci" x="635.0" y="254.4"/></g>
<path d="M158.1 474.8L205.9 442.0M218.3 432.0L242.3 409.1M254.5 398.7L267.1 389.2M279.4 378.9L287.2 371.8M299.3 361.3L302.9 358.4M315.0 347.9L316.7 346.4" stroke="#00ff00" stroke-width="1.5" fill="none"/>
<g stroke="#00ff00" stroke-width="1.8" fill="#fff"><use href="#tu" x="151.5" y="479.3"/><use href="#tu" x="212.5" y="437.5"/><use href="#tu" x="248.1" y="403.6"/><use href="#tu" x="273.4" y="384.3"/><use href="#tu" x="293.1" y="366.4"/><use href="#tu" x="309.1" y="353.3"/><use href="#tu" x="322.7" y="341.0"/><use href="#tu" x="334.4" y="330.6"/><use href="#tu" x="344.8" y="321.5"/><use href="#tu" x="354.0" y="313.6"/><use href="#tu" x="362.4" y="305.6"/><use href="#tu" x="370.1" y="301.1"/><use href="#tu" x="377.1" y="296.0"/><use href="#tu" x="383.6" y="290.8"/><use href="#tu" x="389.7" y="285.9"/><use href="#tu" x="395.4" y="281.1"/><use href="#tu" x="400.7" y="276.4"/><use href="#tu" x="405.7" y="271.9"/><use href="#tu" x="410.5" y="267.9"/><use href="#tu" x="415.0" y="264.2"/><use href="#tu" x="419.3" y="261.3"/><use href="#tu" x="423.4" y="258.4"/><use href="#tu" x="427.3" y="256.0"/><use href="#tu" x="431.0" y="253.8"/><use href="#tu" x="434.6" y="250.7"/><use href="#tu" x="438.1" y="248.5"/><use href="#tu" x="441.4" y="247.3"/><use href="#tu" x="444.6" y="245.3"/><use href="#tu" x="447.7" y="242.7"/><use href="#tu" x="450.6" y="240.4"/><use href="#tu" x="453.5" y="238.0"/><use href="#tu" x="456.3" y="235.3"/><use href="#tu" x="459.0" y="233.2"/><use href="#tu" x="461.6" y="232.0"/><use href="#tu" x="464.2" y="230.6"/><use href="#tu" x="466.7" y="228.2"/><use href="#tu" x="469.1" y="226.8"/><use href="#tu" x="471.4" y="226.3"/><use href="#tu" x="473.7" y="224.7"/><use href="#tu" x="475.9" y="223.0"/><use href="#tu" x="478.1" y="223.0"/><use href="#tu" x="480.2" y="222.9"/><use href="#tu" x="482.3" y="221.5"/><use href="#tu" x="484.3" y="220.1"/><use href="#tu" x="486.3" y="219.9"/><use href="#tu" x="488.2" y="220.2"/><use href="#tu" x="489.2" y="220.4"/><use href="#tu" x="490.1" y="220.7"/><use href="#tu" x="491.1" y="221.6"/><use href="#tu" x="492.0" y="223.0"/><use href="#tu" x="492.9" y="224.5"/><use href="#tu" x="493.8" y="225.4"/><use href="#tu" x="494.7" y="225.5"/><use href="#tu" x="495.6" y="225.6"/><use href="#tu" x="496.4" y="225.5"/><use href="#tu" x="497.3" y="225.3"/><use href="#tu" x="498.2" y="225.1"/><use href="#tu" x="499.0" y="225.0"/><use href="#tu" x="499.9" y="224.9"/><use href="#tu" x="500.7" y="225.1"/><use href="#tu" x="501.5" y="225.3"/><use href="#tu" x="502.3" y="225.5"/><use href="#tu" x="503.1" y="225.6"/><use href="#tu" x="503.9" y="225.5"/><use href="#tu" x="504.7" y="225.2"/><use href="#tu" x="505.5" y="224.6"/><use href="#tu" x="506.3" y="224.0"/><use href="#tu" x="507.1" y="223.4"/><use href="#tu" x="507.9" y="223.0"/><use href="#tu" x="508.6" y="222.9"/><use href="#tu" x="509.4" y="222.9"/><use href="#tu" x="510.1" y="223.1"/><use href="#tu" x="510.9" y="223.3"/><use href="#tu" x="511.6" y="223.4"/><use href="#tu" x="512.3" y="223.4"/><use href="#tu" x="513.1" y="223.2"/><use href="#tu" x="513.8" y="222.8"/><use href="#tu" x="514.5" y="222.4"/><use href="#tu" x="515.2" y="221.7"/><use href="#tu" x="515.9" y="221.0"/><use href="#tu" x="516.6" y="220.2"/><use href="#tu" x="517.3" y="219.3"/><use href="#tu" x="518.0" y="218.5"/><use href="#tu" x="518.6" y="217.8"/><use href="#tu" x="519.3" y="217.3"/><use href="#tu" x="520.0" y="217.0"/><use href="#tu" x="520.6" y="217.0"/><use href="#tu" x="521.3" y="217.2"/><use href="#tu" x="522.0" y="217.4"/><use href="#tu" x="522.6" y="217.7"/><use href="#tu" x="523.3" y="217.8"/><use href="#tu" x="523.9" y="217.8"/><use href="#tu" x="524.5" y="217.4"/><use href="#tu" x="525.2" y="216.9"/><use href="#tu" x="525.8" y="216.2"/><use href="#tu" x="526.4" y="215.4"/><use href="#tu" x="527.0" y="214.7"/><use href="#tu" x="527.6" y="214.0"/><use href="#tu" x="528.2" y="213.6"/><use href="#tu" x="528.8" y="213.4"/><use href="#tu" x="529.4" y="213.2"/><use href="#tu" x="530.0" y="213.2"/><use href="#tu" x="530.6" y="213.2"/><use href="#tu" x="531.2" y="213.2"/><use href="#tu" x="531.8" y="213.0"/><use href="#tu" x="532.4" y="212.8"/><use href="#tu" x="533.0" y="212.4"/><use href="#tu" x="533.5" y="211.9"/><use href="#tu" x="534.1" y="211.4"/><use href="#tu" x="534.7" y="210.9"/><use href="#tu" x="535.2" y="210.4"/><use href="#tu" x="535.8" y="210.0"/><use href="#tu" x="536.3" y="209.7"/><use href="#tu" x="536.9" y="209.5"/><use href="#tu" x="537.4" y="209.3"/><use href="#tu" x="538.0" y="209.2"/><use href="#tu" x="538.5" y="209.2"/><use href="#tu" x="539.1" y="209.2"/><use href="#tu" x="539.6" y="209.2"/><use href="#tu" x="540.1" y="209.1"/><use href="#tu" x="540.7" y="209.0"/><use href="#tu" x="541.2" y="208.9"/><use href="#tu" x="541.7" y="208.7"/><use href="#tu" x="542.2" y="208.5"/><use href="#tu" x="542.7" y="208.3"/><use href="#tu" x="543.3" y="208.0"/><use href="#tu" x="543.8" y="207.6"/><use href="#tu" x="544.3" y="207.2"/><use href="#tu" x="544.8" y="206.8"/><use href="#tu" x="545.3" y="206.3"/><use href="#tu" x="545.8" y="205.8"/><use href="#tu" x="546.3" y="205.2"/><use href="#tu" x="546.8" y="204.7"/><use href="#tu" x="547.3" y="204.2"/><use href="#tu" x="547.7" y="203.7"/><use href="#tu" x="548.2" y="203.3"/><use href="#tu" x="548.7" y="202.9"/><use href="#tu" x="549.2" y="202.5"/><use href="#tu" x="549.7" y="202.1"/><use href="#tu" x="550.1" y="201.8"/><use href="#tu" x="550.6" y="201.5"/><use href="#tu" x="551.1" y="201.3"/><use href="#tu" x="551.5" y="201.1"/><use href="#tu" x="552.0" y="200.9"/><use href="#tu" x="552.5" y="200.8"/><use href="#tu" x="552.9" y="200.6"/><use href="#tu" x="553.4" y="200.6"/><use href="#tu" x="553.8" y="200.5"/><use href="#tu" x="554.3" y="200.4"/><use href="#tu" x="554.7" y="200.4"/><use href="#tu" x="555.2" y="200.4"/><use href="#tu" x="555.6" y="200.3"/><use href="#tu" x="556.1" y="200.3"/><use href="#tu" x="556.5" y="200.2"/><use href="#tu" x="557.0" y="200.2"/><use href="#tu" x="557.4" y="200.1"/><use href="#tu" x="557.8" y="200.0"/><use href="#tu" x="558.3" y="200.0"/><use href="#tu" x="558.7" y="199.8"/><use href="#tu" x="559.1" y="199.7"/><use href="#tu" x="559.5" y="199.5"/><use href="#tu" x="560.0" y="199.3"/><use href="#tu" x="560.4" y="199.0"/><use href="#tu" x="560.8" y="198.8"/><use href="#tu" x="561.2" y="198.5"/><use href="#tu" x="561.6" y="198.2"/><use href="#tu" x="562.1" y="197.8"/><use href="#tu" x="562.5" y="197.5"/><use href="#tu" x="562.9" y="197.1"/><use href="#tu" x="563.3" y="196.8"/><use href="#tu" x="563.7" y="196.4"/><use href="#tu" x="564.1" y="196.1"/><use href="#tu" x="564.5" y="195.8"/><use href="#tu" x="564.9" y="195.5"/><use href="#tu" x="565.3" y="195.2"/><use href="#tu" x="565.7" y="195.0"/><use href="#tu" x="566.1" y="194.7"/><use href="#tu" x="566.5" y="194.5"/><use href="#tu" x="566.9" y="194.3"/><use href="#tu" x="567.3" y="194.2"/><use href="#tu" x="567.7" y="194.1"/><use href="#tu" x="568.0" y="194.0"/><use href="#tu" x="568.4" y="194.0"/><use href="#tu" x="568.8" y="194.0"/><use href="#tu" x="569.2" y="194.0"/><use href="#tu" x="569.6" y="193.9"/><use href="#tu" x="570.0" y="193.9"/><use href="#tu" x="570.3" y="193.9"/><use href="#tu" x="570.7" y="193.8"/><use href="#tu" x="571.1" y="193.7"/><use href="#tu" x="571.5" y="193.5"/><use href="#tu" x="571.8" y="193.2"/><use href="#tu" x="572.2" y="192.9"/><use href="#tu" x="572.6" y="192.5"/><use href="#tu" x="572.9" y="192.0"/><use href="#tu" x="573.3" y="191.5"/><use href="#tu" x="573.7" y="191.0"/><use href="#tu" x="574.0" y="190.4"/><use href="#tu" x="574.4" y="189.9"/><use href="#tu" x="574.7" y="189.4"/><use href="#tu" x="575.1" y="189.0"/><use href="#tu" x="575.4" y="188.6"/><use href="#tu" x="575.8" y="188.3"/><use href="#tu" x="576.1" y="188.0"/><use href="#tu" x="576.5" y="187.9"/><use href="#tu" x="576.8" y="187.8"/><use href="#tu" x="577.2" y="187.8"/><use href="#tu" x="577.5" y="187.8"/><use href="#tu" x="577.9" y="187.9"/><use href="#tu" x="578.2" y="188.0"/><use href="#tu" x="578.6" y="188.0"/><use href="#tu" x="578.9" y="188.1"/><use href="#tu" x="579.3" y="188.2"/><use href="#tu" x="579.6" y="188.2"/><use href="#tu" x="579.9" y="188.1"/><use href="#tu" x="580.3" y="188.1"/><use href="#tu" x="580.6" y="187.9"/><use href="#tu" x="580.9" y="187.7"/><use href="#tu" x="581.3" y="187.5"/><use href="#tu" x="581.6" y="187.3"/><use href="#tu" x="581.9" y="187.0"/><use href="#tu" x="582.3" y="186.7"/><use href="#tu" x="582.6" y="186.5"/><use href="#tu" x="582.9" y="186.2"/><use href="#tu" x="583.2" y="186.0"/><use href="#tu" x="583.6" y="185.8"/><use href="#tu" x="583.9" y="185.6"/><use href="#tu" x="584.2" y="185.5"/><use href="#tu" x="584.5" y="185.4"/><use href="#tu" x="584.8" y="185.4"/><use href="#tu" x="585.2" y="185.3"/><use href="#tu" x="585.5" y="185.3"/><use href="#tu" x="585.8" y="185.3"/><use href="#tu" x="586.1" y="185.4"/><use href="#tu" x="586.4" y="185.4"/><use href="#tu" x="586.7" y="185.4"/><use href="#tu" x="587.1" y="185.4"/><use href="#tu" x="587.4" y="185.4"/><use href="#tu" x="587.7" y="185.4"/><use href="#tu" x="588.0" y="185.3"/><use href="#tu" x="588.3" y="185.2"/><use href="#tu" x="588.6" y="185.1"/><use href="#tu" x="588.9" y="184.9"/><use href="#tu" x="589.2" y="184.7"/><use href="#tu" x="589.5" y="184.5"/><use href="#tu" x="589.8" y="184.3"/><use href="#tu" x="590.1" y="184.1"/><use href="#tu" x="590.4" y="183.8"/><use href="#tu" x="590.7" y="183.6"/><use href="#tu" x="591.0" y="183.3"/><use href="#tu" x="591.3" y="183.1"/><use href="#tu" x="591.6" y="182.8"/><use href="#tu" x="591.9" y="182.6"/><use href="#tu" x="592.2" y="182.4"/><use href="#tu" x="592.5" y="182.1"/><use href="#tu" x="592.8" y="181.9"/><use href="#tu" x="593.1" y="181.7"/><use href="#tu" x="593.3" y="181.5"/><use href="#tu" x="593.6" y="181.4"/><use href="#tu" x="593.9" y="181.2"/><use href="#tu" x="594.2" y="181.0"/><use href="#tu" x="594.5" y="180.9"/><use href="#tu" x="594.8" y="180.8"/><use href="#tu" x="595.1" y="180.6"/><use href="#tu" x="595.3" y="180.5"/><use href="#tu" x="595.6" y="180.4"/><use href="#tu" x="595.9" y="180.3"/><use href="#tu" x="596.2" y="180.3"/><use href="#tu" x="596.5" y="180.2"/><use href="#tu" x="596.8" y="180.1"/><use href="#tu" x="597.0" y="180.1"/><use href="#tu" x="597.3" y="180.0"/><use href="#tu" x="597.6" y="180.0"/><use href="#tu" x="597.9" y="179.9"/><use href="#tu" x="598.1" y="179.9"/><use href="#tu" x="598.4" y="179.8"/><use href="#tu" x="598.7" y="179.7"/><use href="#tu" x="599.0" y="179.6"/><use href="#tu" x="599.2" y="179.5"/><use href="#tu" x="599.5" y="179.4"/><use href="#tu" x="599.8" y="179.3"/><use href="#tu" x="600.0" y="179.1"/><use href="#tu" x="600.3" y="179.0"/><use href="#tu" x="600.6" y="178.8"/><use href="#tu" x="600.8" y="178.6"/><use href="#tu" x="601.1" y="178.3"/><use href="#tu" x="601.4" y="178.1"/><use href="#tu" x="601.6" y="177.9"/><use href="#tu" x="601.9" y="177.7"/><use href="#tu" x="602.1" y="177.4"/><use href="#tu" x="602.4" y="177.2"/><use href="#tu" x="602.7" y="177.0"/><use href="#tu" x="602.9" y="176.8"/><use href="#tu" x="603.2" y="176.6"/><use href="#tu" x="603.4" y="176.4"/><use href="#tu" x="603.7" y="176.3"/><use href="#tu" x="604.0" y="176.1"/><use href="#tu" x="604.2" y="176.0"/><use href="#tu" x="604.5" y="175.9"/><use href="#tu" x="604.7" y="175.9"/><use href="#tu" x="605.0" y="175.8"/><use href="#tu" x="605.2" y="175.8"/><use href="#tu" x="605.5" y="175.8"/><use href="#tu" x="605.7" y="175.7"/><use href="#tu" x="606.0" y="175.7"/><use href="#tu" x="606.2" y="175.7"/><use href="#tu" x="606.5" y="175.7"/><use href="#tu" x="606.7" y="175.7"/><use href="#tu" x="607.0" y="175.7"/><use href="#tu" x="607.2" y="175.6"/><use href="#tu" x="607.5" y="175.6"/><use href="#tu" x="607.7" y="175.5"/><use href="#tu" x="608.0" y="175.4"/><use href="#tu" x="608.2" y="175.3"/><use href="#tu" x="608.5" y="175.2"/><use href="#tu" x="608.7" y="175.1"/><use href="#tu" x="608.9" y="174.9"/><use href="#tu" x="609.2" y="174.8"/><use href="#tu" x="609.4" y="174.6"/><use href="#tu" x="609.7" y="174.4"/><use href="#tu" x="609.9" y="174.2"/><use href="#tu" x="610.1" y="174.0"/><use href="#tu" x="610.4" y="173.8"/><use href="#tu" x="610.6" y="173.7"/><use href="#tu" x="610.9" y="173.5"/><use href="#tu" x="611.1" y="173.3"/><use href="#tu" x="611.3" y="173.1"/><use href="#tu" x="611.6" y="172.9"/><use href="#tu" x="611.8" y="172.8"/><use href="#tu" x="612.0" y="172.6"/><use href="#tu" x="612.3" y="172.5"/><use href="#tu" x="612.5" y="172.3"/><use href="#tu" x="612.7" y="172.2"/><use href="#tu" x="613.0" y="172.1"/><use href="#tu" x="613.2" y="172.0"/><use href="#tu" x="613.4" y="171.9"/><use href="#tu" x="613.7" y="171.8"/><use href="#tu" x="613.9" y="171.7"/><use href="#tu" x="614.1" y="171.6"/><use href="#tu" x="614.3" y="171.5"/><use href="#tu" x="614.6" y="171.4"/><use href="#tu" x="614.8" y="171.4"/><use href="#tu" x="615.0" y="171.3"/><use href="#tu" x="615.3" y="171.2"/><use href="#tu" x="615.5" y="171.0"/><use href="#tu" x="615.7" y="170.9"/><use href="#tu" x="615.9" y="170.8"/><use href="#tu" x="616.2" y="170.7"/><use href="#tu" x="616.4" y="170.5"/><use href="#tu" x="616.6" y="170.4"/><use href="#tu" x="616.8" y="170.2"/><use href="#tu" x="617.0" y="170.1"/><use href="#tu" x="617.3" y="169.9"/><use href="#tu" x="617.5" y="169.8"/><use href="#tu" x="617.7" y="169.6"/><use href="#tu" x="617.9" y="169.5"/><use href="#tu" x="618.1" y="169.3"/><use href="#tu" x="618.4" y="169.2"/><use href="#tu" x="618.6" y="169.0"/><use href="#tu" x="618.8" y="168.9"/><use href="#tu" x="619.0" y="168.8"/><use href="#tu" x="619.2" y="168.6"/><use href="#tu" x="619.4" y="168.5"/><use href="#tu" x="619.7" y="168.4"/><use href="#tu" x="619.9" y="168.4"/><use href="#tu" x="620.1" y="168.3"/><use href="#tu" x="620.3" y="168.2"/><use href="#tu" x="620.5" y="168.2"/><use href="#tu" x="620.7" y="168.1"/><use href="#tu" x="620.9" y="168.1"/><use href="#tu" x="621.1" y="168.1"/><use href="#tu" x="621.4" y="168.1"/><use href="#tu" x="621.6" y="168.1"/><use href="#tu" x="621.8" y="168.1"/><use href="#tu" x="622.0" y="168.1"/><use href="#tu" x="622.2" y="168.1"/><use href="#tu" x="622.4" y="168.1"/><use href="#tu" x="622.6" y="168.0"/><use href="#tu" x="622.8" y="168.0"/><use href="#tu" x="623.0" y="168.0"/><use href="#tu" x="623.2" y="168.0"/><use href="#tu" x="623.4" y="167.9"/><use href="#tu" x="623.6" y="167.9"/><use href="#tu" x="623.8" y="167.8"/><use href="#tu" x="624.0" y="167.7"/><use href="#tu" x="624.3" y="167.6"/><use href="#tu" x="624.5" y="167.5"/><use href="#tu" x="624.7" y="167.4"/><use href="#tu" x="624.9" y="167.2"/><use href="#tu" x="625.1" y="167.1"/><use href="#tu" x="625.3" y="166.9"/><use href="#tu" x="625.5" y="166.8"/><use href="#tu" x="625.7" y="166.6"/><use href="#tu" x="625.9" y="166.5"/><use href="#tu" x="626.1" y="166.3"/><use href="#tu" x="626.3" y="166.1"/><use href="#tu" x="626.5" y="165.9"/><use href="#tu" x="626.7" y="165.8"/><use href="#tu" x="626.9" y="165.6"/><use href="#tu" x="627.1" y="165.4"/><use href="#tu" x="627.3" y="165.3"/><use href="#tu" x="627.4" y="165.1"/><use href="#tu" x="627.6" y="165.0"/><use href="#tu" x="627.8" y="164.8"/><use href="#tu" x="628.0" y="164.7"/><use href="#tu" x="628.2" y="164.6"/><use href="#tu" x="628.4" y="164.5"/><use href="#tu" x="628.6" y="164.4"/><use href="#tu" x="628.8" y="164.3"/><use href="#tu" x="629.0" y="164.2"/><use href="#tu" x="629.2" y="164.1"/><use href="#tu" x="629.4" y="164.0"/><use href="#tu" x="629.6" y="164.0"/><use href="#tu" x="629.8" y="163.9"/><use href="#tu" x="630.0" y="163.8"/><use href="#tu" x="630.2" y="163.8"/><use href="#tu" x="630.3" y="163.7"/><use href="#tu" x="630.5" y="163.7"/><use href="#tu" x="630.7" y="163.6"/><use href="#tu" x="630.9" y="163.6"/><use href="#tu" x="631.1" y="163.5"/><use href="#tu" x="631.3" y="163.5"/><use href="#tu" x="631.5" y="163.4"/><use href="#tu" x="631.7" y="163.4"/><use href="#tu" x="631.9" y="163.3"/><use href="#tu" x="632.0" y="163.3"/><use href="#tu" x="632.2" y="163.2"/><use href="#tu" x="632.4" y="163.2"/><use href="#tu" x="632.6" y="163.1"/><use href="#tu" x="632.8" y="163.0"/><use href="#tu" x="633.0" y="163.0"/><use href="#tu" x="633.1" y="162.9"/><use href="#tu" x="633.3" y="162.8"/><use href="#tu" x="633.5" y="162.7"/><use href="#tu" x="633.7" y="162.7"/><use href="#tu" x="633.9" y="162.6"/><use href="#tu" x="634.1" y="162.5"/><use href="#tu" x="634.2" y="162.4"/><use href="#tu" x="634.4" y="162.3"/><use href="#tu" x="634.6" y="162.2"/><use href="#tu" x="634.8" y="162.1"/><use href="#tu" x="635.0" y="162.0"/></g>
<path d="M157.4 470.1L206.6 424.6M218.1 413.5L242.5 389.1M254.0 378.0L267.6 365.5M279.1 354.5L287.4 346.4M298.9 335.4L303.2 331.4M315.0 320.6L316.8 319.0" stroke="#0000ff" stroke-width="1.5" fill="none"/>
<g stroke="#0000ff" stroke-width="1.8" fill="#fff"><use href="#td" x="151.5" y="475.5"/><use href="#td" x="212.5" y="419.2"/><use href="#td" x="248.1" y="383.4"/><use href="#td" x="273.4" y="360.1"/><use href="#td" x="293.1" y="340.8"/><use href="#td" x="309.1" y="326.0"/><use href="#td" x="322.7" y="313.6"/><use href="#td" x="334.4" y="303.4"/><use href="#td" x="344.8" y="293.2"/><use href="#td" x="354.0" y="286.4"/><use href="#td" x="362.4" y="279.6"/><use href="#td" x="370.1" y="272.8"/><use href="#td" x="377.1" y="267.3"/><use href="#td" x="383.6" y="262.6"/><use href="#td" x="389.7" y="258.3"/><use href="#td" x="395.4" y="254.1"/><use href="#td" x="400.7" y="250.2"/><use href="#td" x="405.7" y="246.6"/><use href="#td" x="410.5" y="243.1"/><use href="#td" x="415.0" y="239.9"/><use href="#td" x="419.3" y="237.0"/><use href="#td" x="423.4" y="234.1"/><use href="#td" x="427.3" y="231.2"/><use href="#td" x="431.0" y="228.4"/><use href="#td" x="434.6" y="226.4"/><use href="#td" x="438.1" y="223.9"/><use href="#td" x="441.4" y="221.7"/><use href="#td" x="444.6" y="220.4"/><use href="#td" x="447.7" y="217.9"/><use href="#td" x="450.6" y="215.5"/><use href="#td" x="453.5" y="213.7"/><use href="#td" x="456.3" y="212.1"/><use href="#td" x="459.0" y="210.3"/><use href="#td" x="461.6" y="208.6"/><use href="#td" x="464.2" y="207.3"/><use href="#td" x="466.7" y="206.2"/><use href="#td" x="469.1" y="204.5"/><use href="#td" x="471.4" y="202.2"/><use href="#td" x="473.7" y="200.3"/><use href="#td" x="475.9" y="199.0"/><use href="#td" x="478.1" y="198.4"/><use href="#td" x="480.2" y="197.7"/><use href="#td" x="482.3" y="196.3"/><use href="#td" x="484.3" y="194.9"/><use href="#td" x="486.3" y="193.7"/><use href="#td" x="488.2" y="192.8"/><use href="#td" x="489.2" y="192.3"/><use href="#td" x="490.1" y="191.8"/><use href="#td" x="491.1" y="191.3"/><use href="#td" x="492.0" y="190.7"/><use href="#td" x="492.9" y="190.0"/><use href="#td" x="493.8" y="189.4"/><use href="#td" x="494.7" y="188.8"/><use href="#td" x="495.6" y="188.2"/><use href="#td" x="496.4" y="187.8"/><use href="#td" x="497.3" y="187.4"/><use href="#td" x="498.2" y="187.1"/><use href="#td" x="499.0" y="186.7"/><use href="#td" x="499.9" y="186.3"/><use href="#td" x="500.7" y="185.7"/><use href="#td" x="501.5" y="185.0"/><use href="#td" x="502.3" y="184.3"/><use href="#td" x="503.1" y="183.6"/><use href="#td" x="503.9" y="183.0"/><use href="#td" x="504.7" y="182.5"/><use href="#td" x="505.5" y="182.2"/><use href="#td" x="506.3" y="181.9"/><use href="#td" x="507.1" y="181.6"/><use href="#td" x="507.9" y="181.2"/><use href="#td" x="508.6" y="180.8"/><use href="#td" x="509.4" y="180.3"/><use href="#td" x="510.1" y="179.8"/><use href="#td" x="510.9" y="179.3"/><use href="#td" x="511.6" y="178.7"/><use href="#td" x="512.3" y="178.2"/><use href="#td" x="513.1" y="177.7"/><use href="#td" x="513.8" y="177.2"/><use href="#td" x="514.5" y="176.7"/><use href="#td" x="515.2" y="176.4"/><use href="#td" x="515.9" y="176.0"/><use href="#td" x="516.6" y="175.7"/><use href="#td" x="517.3" y="175.5"/><use href="#td" x="518.0" y="175.3"/><use href="#td" x="518.6" y="175.1"/><use href="#td" x="519.3" y="174.9"/><use href="#td" x="520.0" y="174.7"/><use href="#td" x="520.6" y="174.4"/><use href="#td" x="521.3" y="174.1"/><use href="#td" x="522.0" y="173.8"/><use href="#td" x="522.6" y="173.4"/><use href="#td" x="523.3" y="173.0"/><use href="#td" x="523.9" y="172.5"/><use href="#td" x="524.5" y="171.9"/><use href="#td" x="525.2" y="171.4"/><use href="#td" x="525.8" y="170.8"/><use href="#td" x="526.4" y="170.2"/><use href="#td" x="527.0" y="169.6"/><use href="#td" x="527.6" y="169.1"/><use href="#td" x="528.2" y="168.7"/><use href="#td" x="528.8" y="168.3"/><use href="#td" x="529.4" y="168.0"/><use href="#td" x="530.0" y="167.7"/><use href="#td" x="530.6" y="167.5"/><use href="#td" x="531.2" y="167.3"/><use href="#td" x="531.8" y="167.1"/><use href="#td" x="532.4" y="166.9"/><use href="#td" x="533.0" y="166.7"/><use href="#td" x="533.5" y="166.5"/><use href="#td" x="534.1" y="166.3"/><use href="#td" x="534.7" y="166.1"/><use href="#td" x="535.2" y="165.9"/><use href="#td" x="535.8" y="165.7"/><use href="#td" x="536.3" y="165.5"/><use href="#td" x="536.9" y="165.3"/><use href="#td" x="537.4" y="165.1"/><use href="#td" x="538.0" y="164.9"/><use href="#td" x="538.5" y="164.7"/><use href="#td" x="539.1" y="164.4"/><use href="#td" x="539.6" y="164.1"/><use href="#td" x="540.1" y="163.7"/><use href="#td" x="540.7" y="163.4"/><use href="#td" x="541.2" y="162.9"/><use href="#td" x="541.7" y="162.5"/><use href="#td" x="542.2" y="162.1"/><use href="#td" x="542.7" y="161.6"/><use href="#td" x="543.3" y="161.2"/><use href="#td" x="543.8" y="160.9"/><use href="#td" x="544.3" y="160.6"/><use href="#td" x="544.8" y="160.3"/><use href="#td" x="545.3" y="160.1"/><use href="#td" x="545.8" y="159.9"/><use href="#td" x="546.3" y="159.7"/><use href="#td" x="546.8" y="159.5"/><use href="#td" x="547.3" y="159.3"/><use href="#td" x="547.7" y="159.0"/><use href="#td" x="548.2" y="158.7"/><use href="#td" x="548.7" y="158.3"/><use href="#td" x="549.2" y="157.9"/><use href="#td" x="549.7" y="157.5"/><use href="#td" x="550.1" y="157.1"/><use href="#td" x="550.6" y="156.8"/><use href="#td" x="551.1" y="156.4"/><use href="#td" x="551.5" y="156.2"/><use href="#td" x="552.0" y="156.0"/><use href="#td" x="552.5" y="155.9"/><use href="#td" x="552.9" y="155.9"/><use href="#td" x="553.4" y="155.9"/><use href="#td" x="553.8" y="156.0"/><use href="#td" x="554.3" y="156.1"/><use href="#td" x="554.7" y="156.1"/><use href="#td" x="555.2" y="156.1"/><use href="#td" x="555.6" y="156.1"/><use href="#td" x="556.1" y="155.9"/><use href="#td" x="556.5" y="155.7"/><use href="#td" x="557.0" y="155.4"/><use href="#td" x="557.4" y="155.1"/><use href="#td" x="557.8" y="154.7"/><use href="#td" x="558.3" y="154.3"/><use href="#td" x="558.7" y="153.9"/><use href="#td" x="559.1" y="153.5"/><use href="#td" x="559.5" y="153.1"/><use href="#td" x="560.0" y="152.8"/><use href="#td" x="560.4" y="152.5"/><use href="#td" x="560.8" y="152.2"/><use href="#td" x="561.2" y="152.0"/><use href="#td" x="561.6" y="151.8"/><use href="#td" x="562.1" y="151.6"/><use href="#td" x="562.5" y="151.5"/><use href="#td" x="562.9" y="151.3"/><use href="#td" x="563.3" y="151.1"/><use href="#td" x="563.7" y="151.0"/><use href="#td" x="564.1" y="150.8"/><use href="#td" x="564.5" y="150.6"/><use href="#td" x="564.9" y="150.4"/><use href="#td" x="565.3" y="150.2"/><use href="#td" x="565.7" y="150.0"/><use href="#td" x="566.1" y="149.7"/><use href="#td" x="566.5" y="149.5"/><use href="#td" x="566.9" y="149.2"/><use href="#td" x="567.3" y="149.0"/><use href="#td" x="567.7" y="148.8"/><use href="#td" x="568.0" y="148.6"/><use href="#td" x="568.4" y="148.4"/><use href="#td" x="568.8" y="148.2"/><use href="#td" x="569.2" y="148.0"/><use href="#td" x="569.6" y="147.8"/><use href="#td" x="570.0" y="147.6"/><use href="#td" x="570.3" y="147.4"/><use href="#td" x="570.7" y="147.2"/><use href="#td" x="571.1" y="147.1"/><use href="#td" x="571.5" y="146.9"/><use href="#td" x="571.8" y="146.7"/><use href="#td" x="572.2" y="146.5"/><use href="#td" x="572.6" y="146.4"/><use href="#td" x="572.9" y="146.2"/><use href="#td" x="573.3" y="146.0"/><use href="#td" x="573.7" y="145.8"/><use href="#td" x="574.0" y="145.6"/><use href="#td" x="574.4" y="145.4"/><use href="#td" x="574.7" y="145.2"/><use href="#td" x="575.1" y="144.9"/><use href="#td" x="575.4" y="144.7"/><use href="#td" x="575.8" y="144.5"/><use href="#td" x="576.1" y="144.3"/><use href="#td" x="576.5" y="144.0"/><use href="#td" x="576.8" y="143.8"/><use href="#td" x="577.2" y="143.5"/><use href="#td" x="577.5" y="143.3"/><use href="#td" x="577.9" y="143.0"/><use href="#td" x="578.2" y="142.8"/><use href="#td" x="578.6" y="142.6"/><use href="#td" x="578.9" y="142.3"/><use href="#td" x="579.3" y="142.1"/><use href="#td" x="579.6" y="142.0"/><use href="#td" x="579.9" y="141.8"/><use href="#td" x="580.3" y="141.6"/><use href="#td" x="580.6" y="141.5"/><use href="#td" x="580.9" y="141.4"/><use href="#td" x="581.3" y="141.2"/><use href="#td" x="581.6" y="141.1"/><use href="#td" x="581.9" y="141.0"/><use href="#td" x="582.3" y="140.9"/><use href="#td" x="582.6" y="140.8"/><use href="#td" x="582.9" y="140.7"/><use href="#td" x="583.2" y="140.6"/><use href="#td" x="583.6" y="140.4"/><use href="#td" x="583.9" y="140.3"/><use href="#td" x="584.2" y="140.1"/><use href="#td" x="584.5" y="139.9"/><use href="#td" x="584.8" y="139.7"/><use href="#td" x="585.2" y="139.5"/><use href="#td" x="585.5" y="139.3"/><use href="#td" x="585.8" y="139.1"/><use href="#td" x="586.1" y="138.9"/><use href="#td" x="586.4" y="138.7"/><use href="#td" x="586.7" y="138.5"/><use href="#td" x="587.1" y="138.3"/><use href="#td" x="587.4" y="138.1"/><use href="#td" x="587.7" y="138.0"/><use href="#td" x="588.0" y="137.8"/><use href="#td" x="588.3" y="137.7"/><use href="#td" x="588.6" y="137.6"/><use href="#td" x="588.9" y="137.5"/><use href="#td" x="589.2" y="137.4"/><use href="#td" x="589.5" y="137.3"/><use href="#td" x="589.8" y="137.2"/><use href="#td" x="590.1" y="137.1"/><use href="#td" x="590.4" y="137.0"/><use href="#td" x="590.7" y="136.9"/><use href="#td" x="591.0" y="136.8"/><use href="#td" x="591.3" y="136.7"/><use href="#td" x="591.6" y="136.6"/><use href="#td" x="591.9" y="136.4"/><use href="#td" x="592.2" y="136.3"/><use href="#td" x="592.5" y="136.1"/><use href="#td" x="592.8" y="135.9"/><use href="#td" x="593.1" y="135.6"/><use href="#td" x="593.3" y="135.4"/><use href="#td" x="593.6" y="135.2"/><use href="#td" x="593.9" y="134.9"/><use href="#td" x="594.2" y="134.7"/><use href="#td" x="594.5" y="134.4"/><use href="#td" x="594.8" y="134.2"/><use href="#td" x="595.1" y="133.9"/><use href="#td" x="595.3" y="133.7"/><use href="#td" x="595.6" y="133.5"/><use href="#td" x="595.9" y="133.3"/><use href="#td" x="596.2" y="133.1"/><use href="#td" x="596.5" y="132.9"/><use href="#td" x="596.8" y="132.7"/><use href="#td" x="597.0" y="132.5"/><use href="#td" x="597.3" y="132.4"/><use href="#td" x="597.6" y="132.2"/><use href="#td" x="597.9" y="132.1"/><use href="#td" x="598.1" y="132.0"/><use href="#td" x="598.4" y="131.8"/><use href="#td" x="598.7" y="131.7"/><use href="#td" x="599.0" y="131.6"/><use href="#td" x="599.2" y="131.5"/><use href="#td" x="599.5" y="131.4"/><use href="#td" x="599.8" y="131.3"/><use href="#td" x="600.0" y="131.2"/><use href="#td" x="600.3" y="131.1"/><use href="#td" x="600.6" y="131.0"/><use href="#td" x="600.8" y="130.9"/><use href="#td" x="601.1" y="130.8"/><use href="#td" x="601.4" y="130.7"/><use href="#td" x="601.6" y="130.6"/><use href="#td" x="601.9" y="130.5"/><use href="#td" x="602.1" y="130.5"/><use href="#td" x="602.4" y="130.4"/><use href="#td" x="602.7" y="130.3"/><use href="#td" x="602.9" y="130.2"/><use href="#td" x="603.2" y="130.1"/><use href="#td" x="603.4" y="130.0"/><use href="#td" x="603.7" y="129.9"/><use href="#td" x="604.0" y="129.8"/><use href="#td" x="604.2" y="129.7"/><use href="#td" x="604.5" y="129.6"/><use href="#td" x="604.7" y="129.5"/><use href="#td" x="605.0" y="129.4"/><use href="#td" x="605.2" y="129.3"/><use href="#td" x="605.5" y="129.2"/><use href="#td" x="605.7" y="129.1"/><use href="#td" x="606.0" y="129.0"/><use href="#td" x="606.2" y="128.9"/><use href="#td" x="606.5" y="128.8"/><use href="#td" x="606.7" y="128.7"/><use href="#td" x="607.0" y="128.6"/><use href="#td" x="607.2" y="128.5"/><use href="#td" x="607.5" y="128.3"/><use href="#td" x="607.7" y="128.2"/><use href="#td" x="608.0" y="128.1"/><use href="#td" x="608.2" y="127.9"/><use href="#td" x="608.5" y="127.8"/><use href="#td" x="608.7" y="127.6"/><use href="#td" x="608.9" y="127.5"/><use href="#td" x="609.2" y="127.3"/><use href="#td" x="609.4" y="127.2"/><use href="#td" x="609.7" y="127.0"/><use href="#td" x="609.9" y="126.9"/><use href="#td" x="610.1" y="126.7"/><use href="#td" x="610.4" y="126.5"/><use href="#td" x="610.6" y="126.4"/><use href="#td" x="610.9" y="126.2"/><use href="#td" x="611.1" y="126.0"/><use href="#td" x="611.3" y="125.9"/><use href="#td" x="611.6" y="125.7"/><use href="#td" x="611.8" y="125.5"/><use href="#td" x="612.0" y="125.3"/><use href="#td" x="612.3" y="125.2"/><use href="#td" x="612.5" y="125.0"/><use href="#td" x="612.7" y="124.9"/><use href="#td" x="613.0" y="124.7"/><use href="#td" x="613.2" y="124.5"/><use href="#td" x="613.4" y="124.4"/><use href="#td" x="613.7" y="124.2"/><use href="#td" x="613.9" y="124.1"/><use href="#td" x="614.1" y="123.9"/><use href="#td" x="614.3" y="123.8"/><use href="#td" x="614.6" y="123.6"/><use href="#td" x="614.8" y="123.5"/><use href="#td" x="615.0" y="123.4"/><use href="#td" x="615.3" y="123.2"/><use href="#td" x="615.5" y="123.1"/><use href="#td" x="615.7" y="123.0"/><use href="#td" x="615.9" y="122.9"/><use href="#td" x="616.2" y="122.8"/><use href="#td" x="616.4" y="122.7"/><use href="#td" x="616.6" y="122.6"/><use href="#td" x="616.8" y="122.5"/><use href="#td" x="617.0" y="122.4"/><use href="#td" x="617.3" y="122.3"/><use href="#td" x="617.5" y="122.2"/><use href="#td" x="617.7" y="122.1"/><use href="#td" x="617.9" y="122.0"/><use href="#td" x="618.1" y="122.0"/><use href="#td" x="618.4" y="121.9"/><use href="#td" x="618.6" y="121.8"/><use href="#td" x="618.8" y="121.7"/><use href="#td" x="619.0" y="121.6"/><use href="#td" x="619.2" y="121.5"/><use href="#td" x="619.4" y="121.4"/><use href="#td" x="619.7" y="121.3"/><use href="#td" x="619.9" y="121.2"/><use href="#td" x="620.1" y="121.1"/><use href="#td" x="620.3" y="120.9"/><use href="#td" x="620.5" y="120.8"/><use href="#td" x="620.7" y="120.7"/><use href="#td" x="620.9" y="120.6"/><use href="#td" x="621.1" y="120.4"/><use href="#td" x="621.4" y="120.3"/><use href="#td" x="621.6" y="120.1"/><use href="#td" x="621.8" y="120.0"/><use href="#td" x="622.0" y="119.9"/><use href="#td" x="622.2" y="119.7"/><use href="#td" x="622.4" y="119.6"/><use href="#td" x="622.6" y="119.5"/><use href="#td" x="622.8" y="119.4"/><use href="#td" x="623.0" y="119.3"/><use href="#td" x="623.2" y="119.2"/><use href="#td" x="623.4" y="119.1"/><use href="#td" x="623.6" y="119.0"/><use href="#td" x="623.8" y="118.9"/><use href="#td" x="624.0" y="118.8"/><use href="#td" x="624.3" y="118.8"/><use href="#td" x="624.5" y="118.7"/><use href="#td" x="624.7" y="118.7"/><use href="#td" x="624.9" y="118.6"/><use href="#td" x="625.1" y="118.6"/><use href="#td" x="625.3" y="118.6"/><use href="#td" x="625.5" y="118.5"/><use href="#td" x="625.7" y="118.5"/><use href="#td" x="625.9" y="118.5"/><use href="#td" x="626.1" y="118.5"/><use href="#td" x="626.3" y="118.4"/><use href="#td" x="626.5" y="118.4"/><use href="#td" x="626.7" y="118.4"/><use href="#td" x="626.9" y="118.4"/><use href="#td" x="627.1" y="118.3"/><use href="#td" x="627.3" y="118.3"/><use href="#td" x="627.4" y="118.2"/><use href="#td" x="627.6" y="118.2"/><use href="#td" x="627.8" y="118.1"/><use href="#td" x="628.0" y="118.0"/><use href="#td" x="628.2" y="117.9"/><use href="#td" x="628.4" y="117.9"/><use href="#td" x="628.6" y="117.8"/><use href="#td" x="628.8" y="117.6"/><use href="#td" x="629.0" y="117.5"/><use href="#td" x="629.2" y="117.4"/><use href="#td" x="629.4" y="117.3"/><use href="#td" x="629.6" y="117.2"/><use href="#td" x="629.8" y="117.0"/><use href="#td" x="630.0" y="116.9"/><use href="#td" x="630.2" y="116.7"/><use href="#td" x="630.3" y="116.6"/><use href="#td" x="630.5" y="116.5"/><use href="#td" x="630.7" y="116.3"/><use href="#td" x="630.9" y="116.2"/><use href="#td" x="631.1" y="116.1"/><use href="#td" x="631.3" y="115.9"/><use href="#td" x="631.5" y="115.8"/><use href="#td" x="631.7" y="115.7"/><use href="#td" x="631.9" y="115.5"/><use href="#td" x="632.0" y="115.4"/><use href="#td" x="632.2" y="115.3"/><use href="#td" x="632.4" y="115.2"/><use href="#td" x="632.6" y="115.1"/><use href="#td" x="632.8" y="115.0"/><use href="#td" x="633.0" y="114.9"/><use href="#td" x="633.1" y="114.8"/><use href="#td" x="633.3" y="114.7"/><use href="#td" x="633.5" y="114.7"/><use href="#td" x="633.7" y="114.6"/><use href="#td" x="633.9" y="114.5"/><use href="#td" x="634.1" y="114.4"/><use href="#td" x="634.2" y="114.4"/><use href="#td" x="634.4" y="114.3"/><use href="#td" x="634.6" y="114.2"/><use href="#td" x="634.8" y="114.1"/><use href="#td" x="635.0" y="114.0"/></g>
<path d="M157.3 450.2L206.7 403.8M218.0 392.5L242.6 366.5M254.0 355.2L267.6 342.4M279.0 331.1L287.5 322.3M299.1 311.2L303.1 307.8M315.2 297.3L316.6 296.1" stroke="#ff00ff" stroke-width="1.5" fill="none"/>
<g stroke="#ff00ff" stroke-width="1.8" fill="#fff"><use href="#di" x="151.5" y="455.7"/><use href="#di" x="212.5" y="398.3"/><use href="#di" x="248.1" y="360.7"/><use href="#di" x="273.4" y="336.9"/><use href="#di" x="293.1" y="316.5"/><use href="#di" x="309.1" y="302.5"/><use href="#di" x="322.7" y="290.9"/><use href="#di" x="334.4" y="280.7"/><use href="#di" x="344.8" y="272.1"/><use href="#di" x="354.0" y="263.7"/><use href="#di" x="362.4" y="255.8"/><use href="#di" x="370.1" y="251.2"/><use href="#di" x="377.1" y="246.5"/><use href="#di" x="383.6" y="241.8"/><use href="#di" x="389.7" y="237.5"/><use href="#di" x="395.4" y="233.7"/><use href="#di" x="400.7" y="230.1"/><use href="#di" x="405.7" y="226.7"/><use href="#di" x="410.5" y="223.5"/><use href="#di" x="415.0" y="220.6"/><use href="#di" x="419.3" y="217.7"/><use href="#di" x="423.4" y="214.8"/><use href="#di" x="427.3" y="212.7"/><use href="#di" x="431.0" y="210.3"/><use href="#di" x="434.6" y="207.8"/><use href="#di" x="438.1" y="204.9"/><use href="#di" x="441.4" y="202.6"/><use href="#di" x="444.6" y="201.6"/><use href="#di" x="447.7" y="199.8"/><use href="#di" x="450.6" y="198.2"/><use href="#di" x="453.5" y="196.1"/><use href="#di" x="456.3" y="193.8"/><use href="#di" x="459.0" y="192.1"/><use href="#di" x="461.6" y="190.5"/><use href="#di" x="464.2" y="189.1"/><use href="#di" x="466.7" y="188.2"/><use href="#di" x="469.1" y="186.5"/><use href="#di" x="471.4" y="184.4"/><use href="#di" x="473.7" y="183.1"/><use href="#di" x="475.9" y="182.1"/><use href="#di" x="478.1" y="180.6"/><use href="#di" x="480.2" y="179.2"/><use href="#di" x="482.3" y="178.4"/><use href="#di" x="484.3" y="177.3"/><use href="#di" x="486.3" y="175.6"/><use href="#di" x="488.2" y="174.1"/><use href="#di" x="489.2" y="173.7"/><use href="#di" x="490.1" y="173.5"/><use href="#di" x="491.1" y="173.2"/><use href="#di" x="492.0" y="172.9"/><use href="#di" x="492.9" y="172.4"/><use href="#di" x="493.8" y="171.8"/><use href="#di" x="494.7" y="171.1"/><use href="#di" x="495.6" y="170.4"/><use href="#di" x="496.4" y="169.8"/><use href="#di" x="497.3" y="169.3"/><use href="#di" x="498.2" y="168.8"/><use href="#di" x="499.0" y="168.4"/><use href="#di" x="499.9" y="168.0"/><use href="#di" x="500.7" y="167.6"/><use href="#di" x="501.5" y="167.2"/><use href="#di" x="502.3" y="166.8"/><use href="#di" x="503.1" y="166.4"/><use href="#di" x="503.9" y="166.1"/><use href="#di" x="504.7" y="165.8"/><use href="#di" x="505.5" y="165.5"/><use href="#di" x="506.3" y="165.2"/><use href="#di" x="507.1" y="164.7"/><use href="#di" x="507.9" y="164.2"/><use href="#di" x="508.6" y="163.5"/><use href="#di" x="509.4" y="162.8"/><use href="#di" x="510.1" y="162.0"/><use href="#di" x="510.9" y="161.2"/><use href="#di" x="511.6" y="160.6"/><use href="#di" x="512.3" y="160.2"/><use href="#di" x="513.1" y="159.9"/><use href="#di" x="513.8" y="159.8"/><use href="#di" x="514.5" y="159.7"/><use href="#di" x="515.2" y="159.7"/><use href="#di" x="515.9" y="159.6"/><use href="#di" x="516.6" y="159.3"/><use href="#di" x="517.3" y="159.0"/><use href="#di" x="518.0" y="158.6"/><use href="#di" x="518.6" y="158.1"/><use href="#di" x="519.3" y="157.6"/><use href="#di" x="520.0" y="157.1"/><use href="#di" x="520.6" y="156.5"/><use href="#di" x="521.3" y="156.0"/><use href="#di" x="522.0" y="155.6"/><use href="#di" x="522.6" y="155.1"/><use href="#di" x="523.3" y="154.7"/><use href="#di" x="523.9" y="154.4"/><use href="#di" x="524.5" y="154.2"/><use href="#di" x="525.2" y="154.0"/><use href="#di" x="525.8" y="153.9"/><use href="#di" x="526.4" y="153.7"/><use href="#di" x="527.0" y="153.5"/><use href="#di" x="527.6" y="153.3"/><use href="#di" x="528.2" y="153.0"/><use href="#di" x="528.8" y="152.6"/><use href="#di" x="529.4" y="152.1"/><use href="#di" x="530.0" y="151.7"/><use href="#di" x="530.6" y="151.2"/><use href="#di" x="531.2" y="150.8"/><use href="#di" x="531.8" y="150.4"/><use href="#di" x="532.4" y="150.1"/><use href="#di" x="533.0" y="149.8"/><use href="#di" x="533.5" y="149.6"/><use href="#di" x="534.1" y="149.4"/><use href="#di" x="534.7" y="149.3"/><use href="#di" x="535.2" y="149.0"/><use href="#di" x="535.8" y="148.8"/><use href="#di" x="536.3" y="148.5"/><use href="#di" x="536.9" y="148.1"/><use href="#di" x="537.4" y="147.7"/><use href="#di" x="538.0" y="147.2"/><use href="#di" x="538.5" y="146.8"/><use href="#di" x="539.1" y="146.3"/><use href="#di" x="539.6" y="145.9"/><use href="#di" x="540.1" y="145.4"/><use href="#di" x="540.7" y="145.0"/><use href="#di" x="541.2" y="144.7"/><use href="#di" x="541.7" y="144.3"/><use href="#di" x="542.2" y="144.0"/><use href="#di" x="542.7" y="143.8"/><use href="#di" x="543.3" y="143.5"/><use href="#di" x="543.8" y="143.3"/><use href="#di" x="544.3" y="143.2"/><use href="#di" x="544.8" y="143.0"/><use href="#di" x="545.3" y="142.9"/><use href="#di" x="545.8" y="142.7"/><use href="#di" x="546.3" y="142.6"/><use href="#di" x="546.8" y="142.5"/><use href="#di" x="547.3" y="142.4"/><use href="#di" x="547.7" y="142.3"/><use href="#di" x="548.2" y="142.2"/><use href="#di" x="548.7" y="142.1"/><use href="#di" x="549.2" y="141.9"/><use href="#di" x="549.7" y="141.8"/><use href="#di" x="550.1" y="141.6"/><use href="#di" x="550.6" y="141.4"/><use href="#di" x="551.1" y="141.2"/><use href="#di" x="551.5" y="140.9"/><use href="#di" x="552.0" y="140.6"/><use href="#di" x="552.5" y="140.3"/><use href="#di" x="552.9" y="140.0"/><use href="#di" x="553.4" y="139.7"/><use href="#di" x="553.8" y="139.3"/><use href="#di" x="554.3" y="139.0"/><use href="#di" x="554.7" y="138.6"/><use href="#di" x="555.2" y="138.3"/><use href="#di" x="555.6" y="138.0"/><use href="#di" x="556.1" y="137.7"/><use href="#di" x="556.5" y="137.5"/><use href="#di" x="557.0" y="137.2"/><use href="#di" x="557.4" y="137.0"/><use href="#di" x="557.8" y="136.8"/><use href="#di" x="558.3" y="136.6"/><use href="#di" x="558.7" y="136.5"/><use href="#di" x="559.1" y="136.3"/><use href="#di" x="559.5" y="136.1"/><use href="#di" x="560.0" y="135.8"/><use href="#di" x="560.4" y="135.6"/><use href="#di" x="560.8" y="135.3"/><use href="#di" x="561.2" y="135.1"/><use href="#di" x="561.6" y="134.8"/><use href="#di" x="562.1" y="134.5"/><use href="#di" x="562.5" y="134.2"/><use href="#di" x="562.9" y="133.9"/><use href="#di" x="563.3" y="133.6"/><use href="#di" x="563.7" y="133.3"/><use href="#di" x="564.1" y="133.0"/><use href="#di" x="564.5" y="132.7"/><use href="#di" x="564.9" y="132.4"/><use href="#di" x="565.3" y="132.1"/><use href="#di" x="565.7" y="131.9"/><use href="#di" x="566.1" y="131.6"/><use href="#di" x="566.5" y="131.4"/><use href="#di" x="566.9" y="131.2"/><use href="#di" x="567.3" y="130.9"/><use href="#di" x="567.7" y="130.7"/><use href="#di" x="568.0" y="130.5"/><use href="#di" x="568.4" y="130.3"/><use href="#di" x="568.8" y="130.2"/><use href="#di" x="569.2" y="130.0"/><use href="#di" x="569.6" y="129.8"/><use href="#di" x="570.0" y="129.7"/><use href="#di" x="570.3" y="129.5"/><use href="#di" x="570.7" y="129.4"/><use href="#di" x="571.1" y="129.3"/><use href="#di" x="571.5" y="129.2"/><use href="#di" x="571.8" y="129.1"/><use href="#di" x="572.2" y="129.1"/><use href="#di" x="572.6" y="129.0"/><use href="#di" x="572.9" y="129.0"/><use href="#di" x="573.3" y="129.0"/><use href="#di" x="573.7" y="128.9"/><use href="#di" x="574.0" y="128.8"/><use href="#di" x="574.4" y="128.8"/><use href="#di" x="574.7" y="128.7"/><use href="#di" x="575.1" y="128.5"/><use href="#di" x="575.4" y="128.4"/><use href="#di" x="575.8" y="128.2"/><use href="#di" x="576.1" y="127.9"/><use href="#di" x="576.5" y="127.6"/><use href="#di" x="576.8" y="127.3"/><use href="#di" x="577.2" y="127.0"/><use href="#di" x="577.5" y="126.6"/><use href="#di" x="577.9" y="126.2"/><use href="#di" x="578.2" y="125.9"/><use href="#di" x="578.6" y="125.5"/><use href="#di" x="578.9" y="125.2"/><use href="#di" x="579.3" y="124.8"/><use href="#di" x="579.6" y="124.5"/><use href="#di" x="579.9" y="124.3"/><use href="#di" x="580.3" y="124.1"/><use href="#di" x="580.6" y="123.9"/><use href="#di" x="580.9" y="123.8"/><use href="#di" x="581.3" y="123.7"/><use href="#di" x="581.6" y="123.6"/><use href="#di" x="581.9" y="123.5"/><use href="#di" x="582.3" y="123.5"/><use href="#di" x="582.6" y="123.4"/><use href="#di" x="582.9" y="123.4"/><use href="#di" x="583.2" y="123.3"/><use href="#di" x="583.6" y="123.2"/><use href="#di" x="583.9" y="123.1"/><use href="#di" x="584.2" y="122.9"/><use href="#di" x="584.5" y="122.7"/><use href="#di" x="584.8" y="122.5"/><use href="#di" x="585.2" y="122.3"/><use href="#di" x="585.5" y="122.1"/><use href="#di" x="585.8" y="121.8"/><use href="#di" x="586.1" y="121.6"/><use href="#di" x="586.4" y="121.4"/><use href="#di" x="586.7" y="121.1"/><use href="#di" x="587.1" y="120.9"/><use href="#di" x="587.4" y="120.7"/><use href="#di" x="587.7" y="120.5"/><use href="#di" x="588.0" y="120.3"/><use href="#di" x="588.3" y="120.2"/><use href="#di" x="588.6" y="120.0"/><use href="#di" x="588.9" y="119.9"/><use href="#di" x="589.2" y="119.8"/><use href="#di" x="589.5" y="119.8"/><use href="#di" x="589.8" y="119.7"/><use href="#di" x="590.1" y="119.7"/><use href="#di" x="590.4" y="119.6"/><use href="#di" x="590.7" y="119.6"/><use href="#di" x="591.0" y="119.6"/><use href="#di" x="591.3" y="119.5"/><use href="#di" x="591.6" y="119.5"/><use href="#di" x="591.9" y="119.5"/><use href="#di" x="592.2" y="119.4"/><use href="#di" x="592.5" y="119.4"/><use href="#di" x="592.8" y="119.3"/><use href="#di" x="593.1" y="119.2"/><use href="#di" x="593.3" y="119.1"/><use href="#di" x="593.6" y="119.1"/><use href="#di" x="593.9" y="119.0"/><use href="#di" x="594.2" y="118.9"/><use href="#di" x="594.5" y="118.7"/><use href="#di" x="594.8" y="118.6"/><use href="#di" x="595.1" y="118.5"/><use href="#di" x="595.3" y="118.3"/><use href="#di" x="595.6" y="118.2"/><use href="#di" x="595.9" y="118.0"/><use href="#di" x="596.2" y="117.8"/><use href="#di" x="596.5" y="117.6"/><use href="#di" x="596.8" y="117.4"/><use href="#di" x="597.0" y="117.2"/><use href="#di" x="597.3" y="117.0"/><use href="#di" x="597.6" y="116.7"/><use href="#di" x="597.9" y="116.5"/><use href="#di" x="598.1" y="116.3"/><use href="#di" x="598.4" y="116.1"/><use href="#di" x="598.7" y="115.8"/><use href="#di" x="599.0" y="115.6"/><use href="#di" x="599.2" y="115.4"/><use href="#di" x="599.5" y="115.2"/><use href="#di" x="599.8" y="115.0"/><use href="#di" x="600.0" y="114.9"/><use href="#di" x="600.3" y="114.7"/><use href="#di" x="600.6" y="114.6"/><use href="#di" x="600.8" y="114.4"/><use href="#di" x="601.1" y="114.3"/><use href="#di" x="601.4" y="114.2"/><use href="#di" x="601.6" y="114.1"/><use href="#di" x="601.9" y="114.0"/><use href="#di" x="602.1" y="113.9"/><use href="#di" x="602.4" y="113.8"/><use href="#di" x="602.7" y="113.7"/><use href="#di" x="602.9" y="113.7"/><use href="#di" x="603.2" y="113.6"/><use href="#di" x="603.4" y="113.6"/><use href="#di" x="603.7" y="113.5"/><use href="#di" x="604.0" y="113.5"/><use href="#di" x="604.2" y="113.4"/><use href="#di" x="604.5" y="113.4"/><use href="#di" x="604.7" y="113.3"/><use href="#di" x="605.0" y="113.3"/><use href="#di" x="605.2" y="113.2"/><use href="#di" x="605.5" y="113.2"/><use href="#di" x="605.7" y="113.2"/><use href="#di" x="606.0" y="113.1"/><use href="#di" x="606.2" y="113.1"/><use href="#di" x="606.5" y="113.0"/><use href="#di" x="606.7" y="112.9"/><use href="#di" x="607.0" y="112.9"/><use href="#di" x="607.2" y="112.8"/><use href="#di" x="607.5" y="112.7"/><use href="#di" x="607.7" y="112.6"/><use href="#di" x="608.0" y="112.5"/><use href="#di" x="608.2" y="112.4"/><use href="#di" x="608.5" y="112.3"/><use href="#di" x="608.7" y="112.1"/><use href="#di" x="608.9" y="112.0"/><use href="#di" x="609.2" y="111.9"/><use href="#di" x="609.4" y="111.7"/><use href="#di" x="609.7" y="111.6"/><use href="#di" x="609.9" y="111.4"/><use href="#di" x="610.1" y="111.2"/><use href="#di" x="610.4" y="111.1"/><use href="#di" x="610.6" y="110.9"/><use href="#di" x="610.9" y="110.7"/><use href="#di" x="611.1" y="110.5"/><use href="#di" x="611.3" y="110.4"/><use href="#di" x="611.6" y="110.2"/><use href="#di" x="611.8" y="110.0"/><use href="#di" x="612.0" y="109.9"/><use href="#di" x="612.3" y="109.7"/><use href="#di" x="612.5" y="109.5"/><use href="#di" x="612.7" y="109.4"/><use href="#di" x="613.0" y="109.2"/><use href="#di" x="613.2" y="109.1"/><use href="#di" x="613.4" y="108.9"/><use href="#di" x="613.7" y="108.8"/><use href="#di" x="613.9" y="108.6"/><use href="#di" x="614.1" y="108.5"/><use href="#di" x="614.3" y="108.3"/><use href="#di" x="614.6" y="108.2"/><use href="#di" x="614.8" y="108.1"/><use href="#di" x="615.0" y="107.9"/><use href="#di" x="615.3" y="107.8"/><use href="#di" x="615.5" y="107.7"/><use href="#di" x="615.7" y="107.6"/><use href="#di" x="615.9" y="107.5"/><use href="#di" x="616.2" y="107.4"/><use href="#di" x="616.4" y="107.3"/><use href="#di" x="616.6" y="107.2"/><use href="#di" x="616.8" y="107.1"/><use href="#di" x="617.0" y="107.0"/><use href="#di" x="617.3" y="106.9"/><use href="#di" x="617.5" y="106.8"/><use href="#di" x="617.7" y="106.7"/><use href="#di" x="617.9" y="106.6"/><use href="#di" x="618.1" y="106.5"/><use href="#di" x="618.4" y="106.4"/><use href="#di" x="618.6" y="106.3"/><use href="#di" x="618.8" y="106.2"/><use href="#di" x="619.0" y="106.1"/><use href="#di" x="619.2" y="106.0"/><use href="#di" x="619.4" y="105.9"/><use href="#di" x="619.7" y="105.8"/><use href="#di" x="619.9" y="105.6"/><use href="#di" x="620.1" y="105.5"/><use href="#di" x="620.3" y="105.4"/><use href="#di" x="620.5" y="105.3"/><use href="#di" x="620.7" y="105.1"/><use href="#di" x="620.9" y="105.0"/><use href="#di" x="621.1" y="104.9"/><use href="#di" x="621.4" y="104.7"/><use href="#di" x="621.6" y="104.6"/><use href="#di" x="621.8" y="104.4"/><use href="#di" x="622.0" y="104.3"/><use href="#di" x="622.2" y="104.2"/><use href="#di" x="622.4" y="104.1"/><use href="#di" x="622.6" y="104.0"/><use href="#di" x="622.8" y="103.8"/><use href="#di" x="623.0" y="103.7"/><use href="#di" x="623.2" y="103.6"/><use href="#di" x="623.4" y="103.6"/><use href="#di" x="623.6" y="103.5"/><use href="#di" x="623.8" y="103.4"/><use href="#di" x="624.0" y="103.4"/><use href="#di" x="624.3" y="103.3"/><use href="#di" x="624.5" y="103.3"/><use href="#di" x="624.7" y="103.3"/><use href="#di" x="624.9" y="103.3"/><use href="#di" x="625.1" y="103.3"/><use href="#di" x="625.3" y="103.3"/><use href="#di" x="625.5" y="103.3"/><use href="#di" x="625.7" y="103.3"/><use href="#di" x="625.9" y="103.3"/><use href="#di" x="626.1" y="103.3"/><use href="#di" x="626.3" y="103.3"/><use href="#di" x="626.5" y="103.3"/><use href="#di" x="626.7" y="103.3"/><use href="#di" x="626.9" y="103.3"/><use href="#di" x="627.1" y="103.3"/><use href="#di" x="627.3" y="103.3"/><use href="#di" x="627.4" y="103.2"/><use href="#di" x="627.6" y="103.2"/><use href="#di" x="627.8" y="103.1"/><use href="#di" x="628.0" y="103.1"/><use href="#di" x="628.2" y="103.0"/><use href="#di" x="628.4" y="102.9"/><use href="#di" x="628.6" y="102.8"/><use href="#di" x="628.8" y="102.7"/><use href="#di" x="629.0" y="102.6"/><use href="#di" x="629.2" y="102.4"/><use href="#di" x="629.4" y="102.3"/><use href="#di" x="629.6" y="102.2"/><use href="#di" x="629.8" y="102.0"/><use href="#di" x="630.0" y="101.9"/><use href="#di" x="630.2" y="101.7"/><use href="#di" x="630.3" y="101.6"/><use href="#di" x="630.5" y="101.4"/><use href="#di" x="630.7" y="101.3"/><use href="#di" x="630.9" y="101.2"/><use href="#di" x="631.1" y="101.0"/><use href="#di" x="631.3" y="100.9"/><use href="#di" x="631.5" y="100.8"/><use href="#di" x="631.7" y="100.7"/><use href="#di" x="631.9" y="100.6"/><use href="#di" x="632.0" y="100.5"/><use href="#di" x="632.2" y="100.4"/><use href="#di" x="632.4" y="100.3"/><use href="#di" x="632.6" y="100.2"/><use href="#di" x="632.8" y="100.2"/><use href="#di" x="633.0" y="100.1"/><use href="#di" x="633.1" y="100.1"/><use href="#di" x="633.3" y="100.1"/><use href="#di" x="633.5" y="100.0"/><use href="#di" x="633.7" y="100.0"/><use href="#di" x="633.9" y="100.0"/><use href="#di" x="634.1" y="99.9"/><use href="#di" x="634.2" y="99.9"/><use href="#di" x="634.4" y="99.9"/><use href="#di" x="634.6" y="99.9"/><use href="#di" x="634.8" y="99.9"/><use href="#di" x="635.0" y="99.9"/></g>
<path d="M157.2 432.7L206.8 383.9M218.0 372.5L242.6 346.6M254.0 335.3L267.6 322.5M279.1 311.3L287.4 302.9M299.3 292.1L302.9 289.2M315.2 279.0L316.5 277.9" stroke="#808000" stroke-width="1.5" fill="none"/>
<g stroke="#808000" stroke-width="1.8" fill="#fff"><use href="#tl" x="151.5" y="438.3"/><use href="#tl" x="212.5" y="378.3"/><use href="#tl" x="248.1" y="340.8"/><use href="#tl" x="273.4" y="317.0"/><use href="#tl" x="293.1" y="297.2"/><use href="#tl" x="309.1" y="284.1"/><use href="#tl" x="322.7" y="272.8"/><use href="#tl" x="334.4" y="261.5"/><use href="#tl" x="344.8" y="251.0"/><use href="#tl" x="354.0" y="243.0"/><use href="#tl" x="362.4" y="235.5"/><use href="#tl" x="370.1" y="229.0"/><use href="#tl" x="377.1" y="224.7"/><use href="#tl" x="383.6" y="221.2"/><use href="#tl" x="389.7" y="217.8"/><use href="#tl" x="395.4" y="214.1"/><use href="#tl" x="400.7" y="210.5"/><use href="#tl" x="405.7" y="207.0"/><use href="#tl" x="410.5" y="203.5"/><use href="#tl" x="415.0" y="200.1"/><use href="#tl" x="419.3" y="197.2"/><use href="#tl" x="423.4" y="194.6"/><use href="#tl" x="427.3" y="192.0"/><use href="#tl" x="431.0" y="189.5"/><use href="#tl" x="434.6" y="187.0"/><use href="#tl" x="438.1" y="184.6"/><use href="#tl" x="441.4" y="182.9"/><use href="#tl" x="444.6" y="181.0"/><use href="#tl" x="447.7" y="178.2"/><use href="#tl" x="450.6" y="176.4"/><use href="#tl" x="453.5" y="175.3"/><use href="#tl" x="456.3" y="173.9"/><use href="#tl" x="459.0" y="171.9"/><use href="#tl" x="461.6" y="169.7"/><use href="#tl" x="464.2" y="167.9"/><use href="#tl" x="466.7" y="166.9"/><use href="#tl" x="469.1" y="165.4"/><use href="#tl" x="471.4" y="163.4"/><use href="#tl" x="473.7" y="161.9"/><use href="#tl" x="475.9" y="160.9"/><use href="#tl" x="478.1" y="160.0"/><use href="#tl" x="480.2" y="159.2"/><use href="#tl" x="482.3" y="158.3"/><use href="#tl" x="484.3" y="156.7"/><use href="#tl" x="486.3" y="154.4"/><use href="#tl" x="488.2" y="152.5"/><use href="#tl" x="489.2" y="152.1"/><use href="#tl" x="490.1" y="151.8"/><use href="#tl" x="491.1" y="151.7"/><use href="#tl" x="492.0" y="151.6"/><use href="#tl" x="492.9" y="151.4"/><use href="#tl" x="493.8" y="151.1"/><use href="#tl" x="494.7" y="150.7"/><use href="#tl" x="495.6" y="150.2"/><use href="#tl" x="496.4" y="149.5"/><use href="#tl" x="497.3" y="148.7"/><use href="#tl" x="498.2" y="147.9"/><use href="#tl" x="499.0" y="147.0"/><use href="#tl" x="499.9" y="146.3"/><use href="#tl" x="500.7" y="145.7"/><use href="#tl" x="501.5" y="145.2"/><use href="#tl" x="502.3" y="144.8"/><use href="#tl" x="503.1" y="144.5"/><use href="#tl" x="503.9" y="144.3"/><use href="#tl" x="504.7" y="144.0"/><use href="#tl" x="505.5" y="143.8"/><use href="#tl" x="506.3" y="143.5"/><use href="#tl" x="507.1" y="143.2"/><use href="#tl" x="507.9" y="142.7"/><use href="#tl" x="508.6" y="142.1"/><use href="#tl" x="509.4" y="141.5"/><use href="#tl" x="510.1" y="140.8"/><use href="#tl" x="510.9" y="140.1"/><use href="#tl" x="511.6" y="139.5"/><use href="#tl" x="512.3" y="139.0"/><use href="#tl" x="513.1" y="138.6"/><use href="#tl" x="513.8" y="138.3"/><use href="#tl" x="514.5" y="138.0"/><use href="#tl" x="515.2" y="137.8"/><use href="#tl" x="515.9" y="137.5"/><use href="#tl" x="516.6" y="137.2"/><use href="#tl" x="517.3" y="136.8"/><use href="#tl" x="518.0" y="136.4"/><use href="#tl" x="518.6" y="136.0"/><use href="#tl" x="519.3" y="135.5"/><use href="#tl" x="520.0" y="134.9"/><use href="#tl" x="520.6" y="134.3"/><use href="#tl" x="521.3" y="133.7"/><use href="#tl" x="522.0" y="133.1"/><use href="#tl" x="522.6" y="132.6"/><use href="#tl" x="523.3" y="132.1"/><use href="#tl" x="523.9" y="131.7"/><use href="#tl" x="524.5" y="131.4"/><use href="#tl" x="525.2" y="131.2"/><use href="#tl" x="525.8" y="131.1"/><use href="#tl" x="526.4" y="131.0"/><use href="#tl" x="527.0" y="130.9"/><use href="#tl" x="527.6" y="130.7"/><use href="#tl" x="528.2" y="130.5"/><use href="#tl" x="528.8" y="130.2"/><use href="#tl" x="529.4" y="129.8"/><use href="#tl" x="530.0" y="129.4"/><use href="#tl" x="530.6" y="129.0"/><use href="#tl" x="531.2" y="128.6"/><use href="#tl" x="531.8" y="128.2"/><use href="#tl" x="532.4" y="127.9"/><use href="#tl" x="533.0" y="127.6"/><use href="#tl" x="533.5" y="127.3"/><use href="#tl" x="534.1" y="127.1"/><use href="#tl" x="534.7" y="126.9"/><use href="#tl" x="535.2" y="126.7"/><use href="#tl" x="535.8" y="126.5"/><use href="#tl" x="536.3" y="126.4"/><use href="#tl" x="536.9" y="126.2"/><use href="#tl" x="537.4" y="126.0"/><use href="#tl" x="538.0" y="125.8"/><use href="#tl" x="538.5" y="125.6"/><use href="#tl" x="539.1" y="125.4"/><use href="#tl" x="539.6" y="125.1"/><use href="#tl" x="540.1" y="124.8"/><use href="#tl" x="540.7" y="124.5"/><use href="#tl" x="541.2" y="124.1"/><use href="#tl" x="541.7" y="123.8"/><use href="#tl" x="542.2" y="123.4"/><use href="#tl" x="542.7" y="123.0"/><use href="#tl" x="543.3" y="122.6"/><use href="#tl" x="543.8" y="122.2"/><use href="#tl" x="544.3" y="121.8"/><use href="#tl" x="544.8" y="121.4"/><use href="#tl" x="545.3" y="121.0"/><use href="#tl" x="545.8" y="120.6"/><use href="#tl" x="546.3" y="120.3"/><use href="#tl" x="546.8" y="120.0"/><use href="#tl" x="547.3" y="119.6"/><use href="#tl" x="547.7" y="119.4"/><use href="#tl" x="548.2" y="119.1"/><use href="#tl" x="548.7" y="118.9"/><use href="#tl" x="549.2" y="118.7"/><use href="#tl" x="549.7" y="118.5"/><use href="#tl" x="550.1" y="118.3"/><use href="#tl" x="550.6" y="118.1"/><use href="#tl" x="551.1" y="117.9"/><use href="#tl" x="551.5" y="117.7"/><use href="#tl" x="552.0" y="117.5"/><use href="#tl" x="552.5" y="117.3"/><use href="#tl" x="552.9" y="117.0"/><use href="#tl" x="553.4" y="116.7"/><use href="#tl" x="553.8" y="116.5"/><use href="#tl" x="554.3" y="116.2"/><use href="#tl" x="554.7" y="115.9"/><use href="#tl" x="555.2" y="115.7"/><use href="#tl" x="555.6" y="115.4"/><use href="#tl" x="556.1" y="115.2"/><use href="#tl" x="556.5" y="115.0"/><use href="#tl" x="557.0" y="114.9"/><use href="#tl" x="557.4" y="114.7"/><use href="#tl" x="557.8" y="114.6"/><use href="#tl" x="558.3" y="114.4"/><use href="#tl" x="558.7" y="114.3"/><use href="#tl" x="559.1" y="114.1"/><use href="#tl" x="559.5" y="113.8"/><use href="#tl" x="560.0" y="113.6"/><use href="#tl" x="560.4" y="113.3"/><use href="#tl" x="560.8" y="112.9"/><use href="#tl" x="561.2" y="112.6"/><use href="#tl" x="561.6" y="112.2"/><use href="#tl" x="562.1" y="111.8"/><use href="#tl" x="562.5" y="111.4"/><use href="#tl" x="562.9" y="111.0"/><use href="#tl" x="563.3" y="110.7"/><use href="#tl" x="563.7" y="110.4"/><use href="#tl" x="564.1" y="110.1"/><use href="#tl" x="564.5" y="109.8"/><use href="#tl" x="564.9" y="109.6"/><use href="#tl" x="565.3" y="109.4"/><use href="#tl" x="565.7" y="109.2"/><use href="#tl" x="566.1" y="109.1"/><use href="#tl" x="566.5" y="108.9"/><use href="#tl" x="566.9" y="108.7"/><use href="#tl" x="567.3" y="108.6"/><use href="#tl" x="567.7" y="108.4"/><use href="#tl" x="568.0" y="108.2"/><use href="#tl" x="568.4" y="107.9"/><use href="#tl" x="568.8" y="107.7"/><use href="#tl" x="569.2" y="107.4"/><use href="#tl" x="569.6" y="107.1"/><use href="#tl" x="570.0" y="106.9"/><use href="#tl" x="570.3" y="106.6"/><use href="#tl" x="570.7" y="106.3"/><use href="#tl" x="571.1" y="106.1"/><use href="#tl" x="571.5" y="105.9"/><use href="#tl" x="571.8" y="105.7"/><use href="#tl" x="572.2" y="105.6"/><use href="#tl" x="572.6" y="105.5"/><use href="#tl" x="572.9" y="105.4"/><use href="#tl" x="573.3" y="105.3"/><use href="#tl" x="573.7" y="105.3"/><use href="#tl" x="574.0" y="105.3"/><use href="#tl" x="574.4" y="105.3"/><use href="#tl" x="574.7" y="105.2"/><use href="#tl" x="575.1" y="105.2"/><use href="#tl" x="575.4" y="105.1"/><use href="#tl" x="575.8" y="105.1"/><use href="#tl" x="576.1" y="104.9"/><use href="#tl" x="576.5" y="104.8"/><use href="#tl" x="576.8" y="104.7"/><use href="#tl" x="577.2" y="104.5"/><use href="#tl" x="577.5" y="104.3"/><use href="#tl" x="577.9" y="104.1"/><use href="#tl" x="578.2" y="103.8"/><use href="#tl" x="578.6" y="103.6"/><use href="#tl" x="578.9" y="103.4"/><use href="#tl" x="579.3" y="103.1"/><use href="#tl" x="579.6" y="102.9"/><use href="#tl" x="579.9" y="102.7"/><use href="#tl" x="580.3" y="102.4"/><use href="#tl" x="580.6" y="102.2"/><use href="#tl" x="580.9" y="102.0"/><use href="#tl" x="581.3" y="101.8"/><use href="#tl" x="581.6" y="101.6"/><use href="#tl" x="581.9" y="101.4"/><use href="#tl" x="582.3" y="101.2"/><use href="#tl" x="582.6" y="101.0"/><use href="#tl" x="582.9" y="100.8"/><use href="#tl" x="583.2" y="100.7"/><use href="#tl" x="583.6" y="100.5"/><use href="#tl" x="583.9" y="100.3"/><use href="#tl" x="584.2" y="100.1"/><use href="#tl" x="584.5" y="100.0"/><use href="#tl" x="584.8" y="99.8"/><use href="#tl" x="585.2" y="99.6"/><use href="#tl" x="585.5" y="99.4"/><use href="#tl" x="585.8" y="99.3"/><use href="#tl" x="586.1" y="99.1"/><use href="#tl" x="586.4" y="99.0"/><use href="#tl" x="586.7" y="98.8"/><use href="#tl" x="587.1" y="98.6"/><use href="#tl" x="587.4" y="98.5"/><use href="#tl" x="587.7" y="98.3"/><use href="#tl" x="588.0" y="98.2"/><use href="#tl" x="588.3" y="98.0"/><use href="#tl" x="588.6" y="97.9"/><use href="#tl" x="588.9" y="97.8"/><use href="#tl" x="589.2" y="97.6"/><use href="#tl" x="589.5" y="97.5"/><use href="#tl" x="589.8" y="97.3"/><use href="#tl" x="590.1" y="97.2"/><use href="#tl" x="590.4" y="97.0"/><use href="#tl" x="590.7" y="96.9"/><use href="#tl" x="591.0" y="96.8"/><use href="#tl" x="591.3" y="96.6"/><use href="#tl" x="591.6" y="96.5"/><use href="#tl" x="591.9" y="96.3"/><use href="#tl" x="592.2" y="96.1"/><use href="#tl" x="592.5" y="96.0"/><use href="#tl" x="592.8" y="95.8"/><use href="#tl" x="593.1" y="95.7"/><use href="#tl" x="593.3" y="95.5"/><use href="#tl" x="593.6" y="95.3"/><use href="#tl" x="593.9" y="95.2"/><use href="#tl" x="594.2" y="95.0"/><use href="#tl" x="594.5" y="94.8"/><use href="#tl" x="594.8" y="94.7"/><use href="#tl" x="595.1" y="94.5"/><use href="#tl" x="595.3" y="94.4"/><use href="#tl" x="595.6" y="94.2"/><use href="#tl" x="595.9" y="94.1"/><use href="#tl" x="596.2" y="94.0"/><use href="#tl" x="596.5" y="93.9"/><use href="#tl" x="596.8" y="93.7"/><use href="#tl" x="597.0" y="93.6"/><use href="#tl" x="597.3" y="93.5"/><use href="#tl" x="597.6" y="93.4"/><use href="#tl" x="597.9" y="93.3"/><use href="#tl" x="598.1" y="93.2"/><use href="#tl" x="598.4" y="93.1"/><use href="#tl" x="598.7" y="93.0"/><use href="#tl" x="599.0" y="92.9"/><use href="#tl" x="599.2" y="92.8"/><use href="#tl" x="599.5" y="92.6"/><use href="#tl" x="599.8" y="92.5"/><use href="#tl" x="600.0" y="92.4"/><use href="#tl" x="600.3" y="92.2"/><use href="#tl" x="600.6" y="92.1"/><use href="#tl" x="600.8" y="92.0"/><use href="#tl" x="601.1" y="91.8"/><use href="#tl" x="601.4" y="91.7"/><use href="#tl" x="601.6" y="91.5"/><use href="#tl" x="601.9" y="91.4"/><use href="#tl" x="602.1" y="91.2"/><use href="#tl" x="602.4" y="91.1"/><use href="#tl" x="602.7" y="90.9"/><use href="#tl" x="602.9" y="90.8"/><use href="#tl" x="603.2" y="90.7"/><use href="#tl" x="603.4" y="90.6"/><use href="#tl" x="603.7" y="90.4"/><use href="#tl" x="604.0" y="90.4"/><use href="#tl" x="604.2" y="90.3"/><use href="#tl" x="604.5" y="90.2"/><use href="#tl" x="604.7" y="90.1"/><use href="#tl" x="605.0" y="90.1"/><use href="#tl" x="605.2" y="90.0"/><use href="#tl" x="605.5" y="90.0"/><use href="#tl" x="605.7" y="89.9"/><use href="#tl" x="606.0" y="89.9"/><use href="#tl" x="606.2" y="89.8"/><use href="#tl" x="606.5" y="89.8"/><use href="#tl" x="606.7" y="89.8"/><use href="#tl" x="607.0" y="89.7"/><use href="#tl" x="607.2" y="89.6"/><use href="#tl" x="607.5" y="89.6"/><use href="#tl" x="607.7" y="89.5"/><use href="#tl" x="608.0" y="89.4"/><use href="#tl" x="608.2" y="89.3"/><use href="#tl" x="608.5" y="89.2"/><use href="#tl" x="608.7" y="89.1"/><use href="#tl" x="608.9" y="88.9"/><use href="#tl" x="609.2" y="88.8"/><use href="#tl" x="609.4" y="88.7"/><use href="#tl" x="609.7" y="88.5"/><use href="#tl" x="609.9" y="88.4"/><use href="#tl" x="610.1" y="88.2"/><use href="#tl" x="610.4" y="88.0"/><use href="#tl" x="610.6" y="87.9"/><use href="#tl" x="610.9" y="87.7"/><use href="#tl" x="611.1" y="87.5"/><use href="#tl" x="611.3" y="87.4"/><use href="#tl" x="611.6" y="87.2"/><use href="#tl" x="611.8" y="87.0"/><use href="#tl" x="612.0" y="86.9"/><use href="#tl" x="612.3" y="86.7"/><use href="#tl" x="612.5" y="86.5"/><use href="#tl" x="612.7" y="86.4"/><use href="#tl" x="613.0" y="86.2"/><use href="#tl" x="613.2" y="86.1"/><use href="#tl" x="613.4" y="85.9"/><use href="#tl" x="613.7" y="85.8"/><use href="#tl" x="613.9" y="85.6"/><use href="#tl" x="614.1" y="85.5"/><use href="#tl" x="614.3" y="85.3"/><use href="#tl" x="614.6" y="85.2"/><use href="#tl" x="614.8" y="85.0"/><use href="#tl" x="615.0" y="84.9"/><use href="#tl" x="615.3" y="84.8"/><use href="#tl" x="615.5" y="84.6"/><use href="#tl" x="615.7" y="84.5"/><use href="#tl" x="615.9" y="84.4"/><use href="#tl" x="616.2" y="84.3"/><use href="#tl" x="616.4" y="84.1"/><use href="#tl" x="616.6" y="84.0"/><use href="#tl" x="616.8" y="83.9"/><use href="#tl" x="617.0" y="83.8"/><use href="#tl" x="617.3" y="83.7"/><use href="#tl" x="617.5" y="83.6"/><use href="#tl" x="617.7" y="83.5"/><use href="#tl" x="617.9" y="83.3"/><use href="#tl" x="618.1" y="83.2"/><use href="#tl" x="618.4" y="83.2"/><use href="#tl" x="618.6" y="83.1"/><use href="#tl" x="618.8" y="83.0"/><use href="#tl" x="619.0" y="82.9"/><use href="#tl" x="619.2" y="82.8"/><use href="#tl" x="619.4" y="82.7"/><use href="#tl" x="619.7" y="82.7"/><use href="#tl" x="619.9" y="82.6"/><use href="#tl" x="620.1" y="82.5"/><use href="#tl" x="620.3" y="82.5"/><use href="#tl" x="620.5" y="82.4"/><use href="#tl" x="620.7" y="82.4"/><use href="#tl" x="620.9" y="82.3"/><use href="#tl" x="621.1" y="82.3"/><use href="#tl" x="621.4" y="82.3"/><use href="#tl" x="621.6" y="82.2"/><use href="#tl" x="621.8" y="82.2"/><use href="#tl" x="622.0" y="82.1"/><use href="#tl" x="622.2" y="82.1"/><use href="#tl" x="622.4" y="82.1"/><use href="#tl" x="622.6" y="82.0"/><use href="#tl" x="622.8" y="82.0"/><use href="#tl" x="623.0" y="81.9"/><use href="#tl" x="623.2" y="81.9"/><use href="#tl" x="623.4" y="81.8"/><use href="#tl" x="623.6" y="81.7"/><use href="#tl" x="623.8" y="81.7"/><use href="#tl" x="624.0" y="81.6"/><use href="#tl" x="624.3" y="81.5"/><use href="#tl" x="624.5" y="81.4"/><use href="#tl" x="624.7" y="81.3"/><use href="#tl" x="624.9" y="81.2"/><use href="#tl" x="625.1" y="81.1"/><use href="#tl" x="625.3" y="81.0"/><use href="#tl" x="625.5" y="80.9"/><use href="#tl" x="625.7" y="80.8"/><use href="#tl" x="625.9" y="80.6"/><use href="#tl" x="626.1" y="80.5"/><use href="#tl" x="626.3" y="80.4"/><use href="#tl" x="626.5" y="80.3"/><use href="#tl" x="626.7" y="80.1"/><use href="#tl" x="626.9" y="80.0"/><use href="#tl" x="627.1" y="79.9"/><use href="#tl" x="627.3" y="79.8"/><use href="#tl" x="627.4" y="79.6"/><use href="#tl" x="627.6" y="79.5"/><use href="#tl" x="627.8" y="79.4"/><use href="#tl" x="628.0" y="79.3"/><use href="#tl" x="628.2" y="79.2"/><use href="#tl" x="628.4" y="79.1"/><use href="#tl" x="628.6" y="79.0"/><use href="#tl" x="628.8" y="78.9"/><use href="#tl" x="629.0" y="78.8"/><use href="#tl" x="629.2" y="78.7"/><use href="#tl" x="629.4" y="78.6"/><use href="#tl" x="629.6" y="78.5"/><use href="#tl" x="629.8" y="78.4"/><use href="#tl" x="630.0" y="78.3"/><use href="#tl" x="630.2" y="78.2"/><use href="#tl" x="630.3" y="78.1"/><use href="#tl" x="630.5" y="78.0"/><use href="#tl" x="630.7" y="77.9"/><use href="#tl" x="630.9" y="77.8"/><use href="#tl" x="631.1" y="77.8"/><use href="#tl" x="631.3" y="77.7"/><use href="#tl" x="631.5" y="77.6"/><use href="#tl" x="631.7" y="77.5"/><use href="#tl" x="631.9" y="77.4"/><use href="#tl" x="632.0" y="77.3"/><use href="#tl" x="632.2" y="77.3"/><use href="#tl" x="632.4" y="77.2"/><use href="#tl" x="632.6" y="77.1"/><use href="#tl" x="632.8" y="77.0"/><use href="#tl" x="633.0" y="76.9"/><use href="#tl" x="633.1" y="76.8"/><use href="#tl" x="633.3" y="76.7"/><use href="#tl" x="633.5" y="76.7"/><use href="#tl" x="633.7" y="76.6"/><use href="#tl" x="633.9" y="76.5"/><use href="#tl" x="634.1" y="76.4"/><use href="#tl" x="634.2" y="76.4"/><use href="#tl" x="634.4" y="76.3"/><use href="#tl" x="634.6" y="76.2"/><use href="#tl" x="634.8" y="76.1"/><use href="#tl" x="635.0" y="76.1"/></g>
<path d="M157.2 423.9L206.8 374.0M218.1 362.6L242.6 337.4M254.0 326.2L267.6 313.4M279.3 302.5L287.2 295.1M298.9 284.2L303.3 280.0M315.0 269.1L316.8 267.5" stroke="#000080" stroke-width="1.5" fill="none"/>
<g stroke="#000080" stroke-width="1.8" fill="#fff"><use href="#tr" x="151.5" y="429.6"/><use href="#tr" x="212.5" y="368.3"/><use href="#tr" x="248.1" y="331.7"/><use href="#tr" x="273.4" y="307.9"/><use href="#tr" x="293.1" y="289.7"/><use href="#tr" x="309.1" y="274.5"/><use href="#tr" x="322.7" y="262.1"/><use href="#tr" x="334.4" y="251.2"/><use href="#tr" x="344.8" y="243.3"/><use href="#tr" x="354.0" y="236.5"/><use href="#tr" x="362.4" y="230.4"/><use href="#tr" x="370.1" y="224.0"/><use href="#tr" x="377.1" y="218.8"/><use href="#tr" x="383.6" y="214.3"/><use href="#tr" x="389.7" y="210.0"/><use href="#tr" x="395.4" y="206.0"/><use href="#tr" x="400.7" y="202.1"/><use href="#tr" x="405.7" y="198.5"/><use href="#tr" x="410.5" y="195.2"/><use href="#tr" x="415.0" y="192.0"/><use href="#tr" x="419.3" y="189.1"/><use href="#tr" x="423.4" y="186.1"/><use href="#tr" x="427.3" y="183.3"/><use href="#tr" x="431.0" y="180.8"/><use href="#tr" x="434.6" y="178.5"/><use href="#tr" x="438.1" y="176.8"/><use href="#tr" x="441.4" y="174.8"/><use href="#tr" x="444.6" y="172.4"/><use href="#tr" x="447.7" y="170.6"/><use href="#tr" x="450.6" y="168.8"/><use href="#tr" x="453.5" y="166.2"/><use href="#tr" x="456.3" y="163.5"/><use href="#tr" x="459.0" y="162.4"/><use href="#tr" x="461.6" y="160.9"/><use href="#tr" x="464.2" y="159.2"/><use href="#tr" x="466.7" y="158.2"/><use href="#tr" x="469.1" y="157.3"/><use href="#tr" x="471.4" y="155.9"/><use href="#tr" x="473.7" y="153.9"/><use href="#tr" x="475.9" y="151.8"/><use href="#tr" x="478.1" y="150.6"/><use href="#tr" x="480.2" y="149.7"/><use href="#tr" x="482.3" y="148.7"/><use href="#tr" x="484.3" y="147.4"/><use href="#tr" x="486.3" y="145.9"/><use href="#tr" x="488.2" y="144.5"/><use href="#tr" x="489.2" y="143.9"/><use href="#tr" x="490.1" y="143.4"/><use href="#tr" x="491.1" y="142.8"/><use href="#tr" x="492.0" y="142.3"/><use href="#tr" x="492.9" y="141.7"/><use href="#tr" x="493.8" y="141.1"/><use href="#tr" x="494.7" y="140.6"/><use href="#tr" x="495.6" y="140.1"/><use href="#tr" x="496.4" y="139.7"/><use href="#tr" x="497.3" y="139.5"/><use href="#tr" x="498.2" y="139.2"/><use href="#tr" x="499.0" y="138.9"/><use href="#tr" x="499.9" y="138.5"/><use href="#tr" x="500.7" y="137.9"/><use href="#tr" x="501.5" y="137.2"/><use href="#tr" x="502.3" y="136.4"/><use href="#tr" x="503.1" y="135.7"/><use href="#tr" x="503.9" y="135.2"/><use href="#tr" x="504.7" y="134.8"/><use href="#tr" x="505.5" y="134.6"/><use href="#tr" x="506.3" y="134.4"/><use href="#tr" x="507.1" y="134.3"/><use href="#tr" x="507.9" y="134.0"/><use href="#tr" x="508.6" y="133.6"/><use href="#tr" x="509.4" y="133.2"/><use href="#tr" x="510.1" y="132.6"/><use href="#tr" x="510.9" y="132.0"/><use href="#tr" x="511.6" y="131.4"/><use href="#tr" x="512.3" y="130.9"/><use href="#tr" x="513.1" y="130.5"/><use href="#tr" x="513.8" y="130.1"/><use href="#tr" x="514.5" y="129.8"/><use href="#tr" x="515.2" y="129.6"/><use href="#tr" x="515.9" y="129.3"/><use href="#tr" x="516.6" y="129.1"/><use href="#tr" x="517.3" y="128.8"/><use href="#tr" x="518.0" y="128.5"/><use href="#tr" x="518.6" y="128.2"/><use href="#tr" x="519.3" y="127.9"/><use href="#tr" x="520.0" y="127.5"/><use href="#tr" x="520.6" y="127.0"/><use href="#tr" x="521.3" y="126.4"/><use href="#tr" x="522.0" y="125.9"/><use href="#tr" x="522.6" y="125.3"/><use href="#tr" x="523.3" y="124.7"/><use href="#tr" x="523.9" y="124.2"/><use href="#tr" x="524.5" y="123.7"/><use href="#tr" x="525.2" y="123.2"/><use href="#tr" x="525.8" y="122.8"/><use href="#tr" x="526.4" y="122.5"/><use href="#tr" x="527.0" y="122.2"/><use href="#tr" x="527.6" y="121.9"/><use href="#tr" x="528.2" y="121.7"/><use href="#tr" x="528.8" y="121.5"/><use href="#tr" x="529.4" y="121.3"/><use href="#tr" x="530.0" y="121.1"/><use href="#tr" x="530.6" y="120.9"/><use href="#tr" x="531.2" y="120.7"/><use href="#tr" x="531.8" y="120.4"/><use href="#tr" x="532.4" y="120.1"/><use href="#tr" x="533.0" y="119.7"/><use href="#tr" x="533.5" y="119.2"/><use href="#tr" x="534.1" y="118.8"/><use href="#tr" x="534.7" y="118.3"/><use href="#tr" x="535.2" y="117.9"/><use href="#tr" x="535.8" y="117.5"/><use href="#tr" x="536.3" y="117.1"/><use href="#tr" x="536.9" y="116.8"/><use href="#tr" x="537.4" y="116.5"/><use href="#tr" x="538.0" y="116.2"/><use href="#tr" x="538.5" y="116.0"/><use href="#tr" x="539.1" y="115.8"/><use href="#tr" x="539.6" y="115.5"/><use href="#tr" x="540.1" y="115.3"/><use href="#tr" x="540.7" y="115.1"/><use href="#tr" x="541.2" y="114.8"/><use href="#tr" x="541.7" y="114.6"/><use href="#tr" x="542.2" y="114.4"/><use href="#tr" x="542.7" y="114.1"/><use href="#tr" x="543.3" y="113.9"/><use href="#tr" x="543.8" y="113.7"/><use href="#tr" x="544.3" y="113.5"/><use href="#tr" x="544.8" y="113.2"/><use href="#tr" x="545.3" y="113.0"/><use href="#tr" x="545.8" y="112.8"/><use href="#tr" x="546.3" y="112.6"/><use href="#tr" x="546.8" y="112.3"/><use href="#tr" x="547.3" y="112.1"/><use href="#tr" x="547.7" y="111.8"/><use href="#tr" x="548.2" y="111.5"/><use href="#tr" x="548.7" y="111.1"/><use href="#tr" x="549.2" y="110.8"/><use href="#tr" x="549.7" y="110.4"/><use href="#tr" x="550.1" y="110.0"/><use href="#tr" x="550.6" y="109.7"/><use href="#tr" x="551.1" y="109.4"/><use href="#tr" x="551.5" y="109.0"/><use href="#tr" x="552.0" y="108.8"/><use href="#tr" x="552.5" y="108.5"/><use href="#tr" x="552.9" y="108.3"/><use href="#tr" x="553.4" y="108.1"/><use href="#tr" x="553.8" y="107.9"/><use href="#tr" x="554.3" y="107.7"/><use href="#tr" x="554.7" y="107.6"/><use href="#tr" x="555.2" y="107.4"/><use href="#tr" x="555.6" y="107.3"/><use href="#tr" x="556.1" y="107.1"/><use href="#tr" x="556.5" y="106.9"/><use href="#tr" x="557.0" y="106.8"/><use href="#tr" x="557.4" y="106.6"/><use href="#tr" x="557.8" y="106.4"/><use href="#tr" x="558.3" y="106.2"/><use href="#tr" x="558.7" y="106.1"/><use href="#tr" x="559.1" y="105.9"/><use href="#tr" x="559.5" y="105.7"/><use href="#tr" x="560.0" y="105.6"/><use href="#tr" x="560.4" y="105.5"/><use href="#tr" x="560.8" y="105.4"/><use href="#tr" x="561.2" y="105.3"/><use href="#tr" x="561.6" y="105.1"/><use href="#tr" x="562.1" y="105.0"/><use href="#tr" x="562.5" y="104.8"/><use href="#tr" x="562.9" y="104.7"/><use href="#tr" x="563.3" y="104.4"/><use href="#tr" x="563.7" y="104.2"/><use href="#tr" x="564.1" y="103.9"/><use href="#tr" x="564.5" y="103.5"/><use href="#tr" x="564.9" y="103.1"/><use href="#tr" x="565.3" y="102.7"/><use href="#tr" x="565.7" y="102.2"/><use href="#tr" x="566.1" y="101.8"/><use href="#tr" x="566.5" y="101.4"/><use href="#tr" x="566.9" y="101.0"/><use href="#tr" x="567.3" y="100.6"/><use href="#tr" x="567.7" y="100.4"/><use href="#tr" x="568.0" y="100.1"/><use href="#tr" x="568.4" y="100.0"/><use href="#tr" x="568.8" y="99.9"/><use href="#tr" x="569.2" y="99.8"/><use href="#tr" x="569.6" y="99.8"/><use href="#tr" x="570.0" y="99.8"/><use href="#tr" x="570.3" y="99.8"/><use href="#tr" x="570.7" y="99.9"/><use href="#tr" x="571.1" y="99.9"/><use href="#tr" x="571.5" y="99.9"/><use href="#tr" x="571.8" y="99.9"/><use href="#tr" x="572.2" y="99.8"/><use href="#tr" x="572.6" y="99.7"/><use href="#tr" x="572.9" y="99.6"/><use href="#tr" x="573.3" y="99.4"/><use href="#tr" x="573.7" y="99.3"/><use href="#tr" x="574.0" y="99.1"/><use href="#tr" x="574.4" y="98.8"/><use href="#tr" x="574.7" y="98.6"/><use href="#tr" x="575.1" y="98.3"/><use href="#tr" x="575.4" y="98.1"/><use href="#tr" x="575.8" y="97.8"/><use href="#tr" x="576.1" y="97.5"/><use href="#tr" x="576.5" y="97.2"/><use href="#tr" x="576.8" y="97.0"/><use href="#tr" x="577.2" y="96.7"/><use href="#tr" x="577.5" y="96.4"/><use href="#tr" x="577.9" y="96.2"/><use href="#tr" x="578.2" y="95.9"/><use href="#tr" x="578.6" y="95.6"/><use href="#tr" x="578.9" y="95.4"/><use href="#tr" x="579.3" y="95.1"/><use href="#tr" x="579.6" y="94.9"/><use href="#tr" x="579.9" y="94.6"/><use href="#tr" x="580.3" y="94.4"/><use href="#tr" x="580.6" y="94.2"/><use href="#tr" x="580.9" y="93.9"/><use href="#tr" x="581.3" y="93.7"/><use href="#tr" x="581.6" y="93.5"/><use href="#tr" x="581.9" y="93.3"/><use href="#tr" x="582.3" y="93.1"/><use href="#tr" x="582.6" y="93.0"/><use href="#tr" x="582.9" y="92.8"/><use href="#tr" x="583.2" y="92.7"/><use href="#tr" x="583.6" y="92.5"/><use href="#tr" x="583.9" y="92.4"/><use href="#tr" x="584.2" y="92.3"/><use href="#tr" x="584.5" y="92.2"/><use href="#tr" x="584.8" y="92.2"/><use href="#tr" x="585.2" y="92.1"/><use href="#tr" x="585.5" y="92.1"/><use href="#tr" x="585.8" y="92.0"/><use href="#tr" x="586.1" y="91.9"/><use href="#tr" x="586.4" y="91.9"/><use href="#tr" x="586.7" y="91.8"/><use href="#tr" x="587.1" y="91.7"/><use href="#tr" x="587.4" y="91.6"/><use href="#tr" x="587.7" y="91.5"/><use href="#tr" x="588.0" y="91.4"/><use href="#tr" x="588.3" y="91.3"/><use href="#tr" x="588.6" y="91.1"/><use href="#tr" x="588.9" y="91.0"/><use href="#tr" x="589.2" y="90.8"/><use href="#tr" x="589.5" y="90.6"/><use href="#tr" x="589.8" y="90.4"/><use href="#tr" x="590.1" y="90.2"/><use href="#tr" x="590.4" y="90.0"/><use href="#tr" x="590.7" y="89.8"/><use href="#tr" x="591.0" y="89.6"/><use href="#tr" x="591.3" y="89.4"/><use href="#tr" x="591.6" y="89.3"/><use href="#tr" x="591.9" y="89.1"/><use href="#tr" x="592.2" y="88.9"/><use href="#tr" x="592.5" y="88.8"/><use href="#tr" x="592.8" y="88.6"/><use href="#tr" x="593.1" y="88.5"/><use href="#tr" x="593.3" y="88.3"/><use href="#tr" x="593.6" y="88.2"/><use href="#tr" x="593.9" y="88.1"/><use href="#tr" x="594.2" y="88.0"/><use href="#tr" x="594.5" y="87.9"/><use href="#tr" x="594.8" y="87.8"/><use href="#tr" x="595.1" y="87.7"/><use href="#tr" x="595.3" y="87.6"/><use href="#tr" x="595.6" y="87.5"/><use href="#tr" x="595.9" y="87.4"/><use href="#tr" x="596.2" y="87.3"/><use href="#tr" x="596.5" y="87.2"/><use href="#tr" x="596.8" y="87.1"/><use href="#tr" x="597.0" y="87.0"/><use href="#tr" x="597.3" y="86.9"/><use href="#tr" x="597.6" y="86.9"/><use href="#tr" x="597.9" y="86.8"/><use href="#tr" x="598.1" y="86.7"/><use href="#tr" x="598.4" y="86.6"/><use href="#tr" x="598.7" y="86.4"/><use href="#tr" x="599.0" y="86.3"/><use href="#tr" x="599.2" y="86.2"/><use href="#tr" x="599.5" y="86.1"/><use href="#tr" x="599.8" y="85.9"/><use href="#tr" x="600.0" y="85.8"/><use href="#tr" x="600.3" y="85.6"/><use href="#tr" x="600.6" y="85.5"/><use href="#tr" x="600.8" y="85.3"/><use href="#tr" x="601.1" y="85.1"/><use href="#tr" x="601.4" y="85.0"/><use href="#tr" x="601.6" y="84.8"/><use href="#tr" x="601.9" y="84.6"/><use href="#tr" x="602.1" y="84.4"/><use href="#tr" x="602.4" y="84.2"/><use href="#tr" x="602.7" y="84.1"/><use href="#tr" x="602.9" y="83.9"/><use href="#tr" x="603.2" y="83.7"/><use href="#tr" x="603.4" y="83.5"/><use href="#tr" x="603.7" y="83.4"/><use href="#tr" x="604.0" y="83.2"/><use href="#tr" x="604.2" y="83.1"/><use href="#tr" x="604.5" y="83.0"/><use href="#tr" x="604.7" y="82.9"/><use href="#tr" x="605.0" y="82.7"/><use href="#tr" x="605.2" y="82.6"/><use href="#tr" x="605.5" y="82.5"/><use href="#tr" x="605.7" y="82.4"/><use href="#tr" x="606.0" y="82.3"/><use href="#tr" x="606.2" y="82.2"/><use href="#tr" x="606.5" y="82.1"/><use href="#tr" x="606.7" y="82.0"/><use href="#tr" x="607.0" y="82.0"/><use href="#tr" x="607.2" y="81.9"/><use href="#tr" x="607.5" y="81.8"/><use href="#tr" x="607.7" y="81.7"/><use href="#tr" x="608.0" y="81.6"/><use href="#tr" x="608.2" y="81.5"/><use href="#tr" x="608.5" y="81.4"/><use href="#tr" x="608.7" y="81.3"/><use href="#tr" x="608.9" y="81.2"/><use href="#tr" x="609.2" y="81.1"/><use href="#tr" x="609.4" y="81.0"/><use href="#tr" x="609.7" y="80.9"/><use href="#tr" x="609.9" y="80.8"/><use href="#tr" x="610.1" y="80.7"/><use href="#tr" x="610.4" y="80.6"/><use href="#tr" x="610.6" y="80.5"/><use href="#tr" x="610.9" y="80.4"/><use href="#tr" x="611.1" y="80.3"/><use href="#tr" x="611.3" y="80.2"/><use href="#tr" x="611.6" y="80.0"/><use href="#tr" x="611.8" y="79.9"/><use href="#tr" x="612.0" y="79.8"/><use href="#tr" x="612.3" y="79.7"/><use href="#tr" x="612.5" y="79.6"/><use href="#tr" x="612.7" y="79.5"/><use href="#tr" x="613.0" y="79.4"/><use href="#tr" x="613.2" y="79.3"/><use href="#tr" x="613.4" y="79.2"/><use href="#tr" x="613.7" y="79.1"/><use href="#tr" x="613.9" y="79.0"/><use href="#tr" x="614.1" y="78.9"/><use href="#tr" x="614.3" y="78.8"/><use href="#tr" x="614.6" y="78.7"/><use href="#tr" x="614.8" y="78.6"/><use href="#tr" x="615.0" y="78.6"/><use href="#tr" x="615.3" y="78.5"/><use href="#tr" x="615.5" y="78.4"/><use href="#tr" x="615.7" y="78.3"/><use href="#tr" x="615.9" y="78.2"/><use href="#tr" x="616.2" y="78.1"/><use href="#tr" x="616.4" y="78.0"/><use href="#tr" x="616.6" y="78.0"/><use href="#tr" x="616.8" y="77.9"/><use href="#tr" x="617.0" y="77.8"/><use href="#tr" x="617.3" y="77.7"/><use href="#tr" x="617.5" y="77.7"/><use href="#tr" x="617.7" y="77.6"/><use href="#tr" x="617.9" y="77.5"/><use href="#tr" x="618.1" y="77.4"/><use href="#tr" x="618.4" y="77.4"/><use href="#tr" x="618.6" y="77.3"/><use href="#tr" x="618.8" y="77.2"/><use href="#tr" x="619.0" y="77.1"/><use href="#tr" x="619.2" y="77.0"/><use href="#tr" x="619.4" y="77.0"/><use href="#tr" x="619.7" y="76.9"/><use href="#tr" x="619.9" y="76.8"/><use href="#tr" x="620.1" y="76.7"/><use href="#tr" x="620.3" y="76.6"/><use href="#tr" x="620.5" y="76.6"/><use href="#tr" x="620.7" y="76.5"/><use href="#tr" x="620.9" y="76.4"/><use href="#tr" x="621.1" y="76.3"/><use href="#tr" x="621.4" y="76.2"/><use href="#tr" x="621.6" y="76.1"/><use href="#tr" x="621.8" y="76.0"/><use href="#tr" x="622.0" y="75.9"/><use href="#tr" x="622.2" y="75.8"/><use href="#tr" x="622.4" y="75.7"/><use href="#tr" x="622.6" y="75.6"/><use href="#tr" x="622.8" y="75.5"/><use href="#tr" x="623.0" y="75.4"/><use href="#tr" x="623.2" y="75.3"/><use href="#tr" x="623.4" y="75.2"/><use href="#tr" x="623.6" y="75.1"/><use href="#tr" x="623.8" y="74.9"/><use href="#tr" x="624.0" y="74.8"/><use href="#tr" x="624.3" y="74.7"/><use href="#tr" x="624.5" y="74.6"/><use href="#tr" x="624.7" y="74.4"/><use href="#tr" x="624.9" y="74.3"/><use href="#tr" x="625.1" y="74.2"/><use href="#tr" x="625.3" y="74.1"/><use href="#tr" x="625.5" y="73.9"/><use href="#tr" x="625.7" y="73.8"/><use href="#tr" x="625.9" y="73.7"/><use href="#tr" x="626.1" y="73.5"/><use href="#tr" x="626.3" y="73.4"/><use href="#tr" x="626.5" y="73.3"/><use href="#tr" x="626.7" y="73.1"/><use href="#tr" x="626.9" y="73.0"/><use href="#tr" x="627.1" y="72.8"/><use href="#tr" x="627.3" y="72.7"/><use href="#tr" x="627.4" y="72.6"/><use href="#tr" x="627.6" y="72.4"/><use href="#tr" x="627.8" y="72.3"/><use href="#tr" x="628.0" y="72.2"/><use href="#tr" x="628.2" y="72.0"/><use href="#tr" x="628.4" y="71.9"/><use href="#tr" x="628.6" y="71.8"/><use href="#tr" x="628.8" y="71.6"/><use href="#tr" x="629.0" y="71.5"/><use href="#tr" x="629.2" y="71.4"/><use href="#tr" x="629.4" y="71.3"/><use href="#tr" x="629.6" y="71.1"/><use href="#tr" x="629.8" y="71.0"/><use href="#tr" x="630.0" y="70.9"/><use href="#tr" x="630.2" y="70.8"/><use href="#tr" x="630.3" y="70.7"/><use href="#tr" x="630.5" y="70.6"/><use href="#tr" x="630.7" y="70.5"/><use href="#tr" x="630.9" y="70.4"/><use href="#tr" x="631.1" y="70.4"/><use href="#tr" x="631.3" y="70.3"/><use href="#tr" x="631.5" y="70.2"/><use href="#tr" x="631.7" y="70.2"/><use href="#tr" x="631.9" y="70.1"/><use href="#tr" x="632.0" y="70.1"/><use href="#tr" x="632.2" y="70.0"/><use href="#tr" x="632.4" y="70.0"/><use href="#tr" x="632.6" y="70.0"/><use href="#tr" x="632.8" y="70.0"/><use href="#tr" x="633.0" y="70.0"/><use href="#tr" x="633.1" y="70.0"/><use href="#tr" x="633.3" y="70.0"/><use href="#tr" x="633.5" y="69.9"/><use href="#tr" x="633.7" y="69.9"/><use href="#tr" x="633.9" y="69.9"/><use href="#tr" x="634.1" y="69.9"/><use href="#tr" x="634.2" y="69.9"/><use href="#tr" x="634.4" y="69.9"/><use href="#tr" x="634.6" y="69.9"/><use href="#tr" x="634.8" y="69.9"/><use href="#tr" x="635.0" y="69.9"/></g>
<path d="M157.4 403.1L206.6 357.2M218.2 346.2L242.4 322.9M253.9 311.8L267.7 298.5M279.4 287.6L287.1 280.7M299.0 269.9L303.2 266.1M315.2 255.6L316.5 254.4M328.3 243.6L328.8 243.2" stroke="#800080" stroke-width="1.5" fill="none"/>
<g stroke="#800080" stroke-width="1.8" fill="#fff"><use href="#hx" x="151.5" y="408.5"/><use href="#hx" x="212.5" y="351.8"/><use href="#hx" x="248.1" y="317.3"/><use href="#hx" x="273.4" y="293.0"/><use href="#hx" x="293.1" y="275.3"/><use href="#hx" x="309.1" y="260.7"/><use href="#hx" x="322.7" y="249.3"/><use href="#hx" x="334.4" y="237.5"/><use href="#hx" x="344.8" y="229.5"/><use href="#hx" x="354.0" y="222.0"/><use href="#hx" x="362.4" y="215.2"/><use href="#hx" x="370.1" y="210.0"/><use href="#hx" x="377.1" y="205.3"/><use href="#hx" x="383.6" y="201.0"/><use href="#hx" x="389.7" y="197.0"/><use href="#hx" x="395.4" y="193.1"/><use href="#hx" x="400.7" y="189.5"/><use href="#hx" x="405.7" y="186.0"/><use href="#hx" x="410.5" y="182.8"/><use href="#hx" x="415.0" y="179.7"/><use href="#hx" x="419.3" y="176.8"/><use href="#hx" x="423.4" y="174.6"/><use href="#hx" x="427.3" y="171.5"/><use href="#hx" x="431.0" y="169.2"/><use href="#hx" x="434.6" y="166.6"/><use href="#hx" x="438.1" y="164.4"/><use href="#hx" x="441.4" y="162.9"/><use href="#hx" x="444.6" y="161.0"/><use href="#hx" x="447.7" y="159.1"/><use href="#hx" x="450.6" y="156.7"/><use href="#hx" x="453.5" y="154.5"/><use href="#hx" x="456.3" y="153.1"/><use href="#hx" x="459.0" y="152.1"/><use href="#hx" x="461.6" y="150.3"/><use href="#hx" x="464.2" y="148.3"/><use href="#hx" x="466.7" y="147.3"/><use href="#hx" x="469.1" y="145.7"/><use href="#hx" x="471.4" y="143.5"/><use href="#hx" x="473.7" y="142.5"/><use href="#hx" x="475.9" y="142.0"/><use href="#hx" x="478.1" y="140.8"/><use href="#hx" x="480.2" y="139.3"/><use href="#hx" x="482.3" y="138.0"/><use href="#hx" x="484.3" y="136.6"/><use href="#hx" x="486.3" y="135.0"/><use href="#hx" x="488.2" y="133.7"/><use href="#hx" x="489.2" y="133.1"/><use href="#hx" x="490.1" y="132.7"/><use href="#hx" x="491.1" y="132.2"/><use href="#hx" x="492.0" y="131.8"/><use href="#hx" x="492.9" y="131.4"/><use href="#hx" x="493.8" y="130.9"/><use href="#hx" x="494.7" y="130.4"/><use href="#hx" x="495.6" y="129.9"/><use href="#hx" x="496.4" y="129.4"/><use href="#hx" x="497.3" y="128.9"/><use href="#hx" x="498.2" y="128.5"/><use href="#hx" x="499.0" y="128.0"/><use href="#hx" x="499.9" y="127.5"/><use href="#hx" x="500.7" y="127.0"/><use href="#hx" x="501.5" y="126.5"/><use href="#hx" x="502.3" y="126.0"/><use href="#hx" x="503.1" y="125.5"/><use href="#hx" x="503.9" y="125.0"/><use href="#hx" x="504.7" y="124.5"/><use href="#hx" x="505.5" y="124.0"/><use href="#hx" x="506.3" y="123.6"/><use href="#hx" x="507.1" y="123.2"/><use href="#hx" x="507.9" y="122.7"/><use href="#hx" x="508.6" y="122.3"/><use href="#hx" x="509.4" y="121.8"/><use href="#hx" x="510.1" y="121.4"/><use href="#hx" x="510.9" y="121.1"/><use href="#hx" x="511.6" y="120.7"/><use href="#hx" x="512.3" y="120.5"/><use href="#hx" x="513.1" y="120.3"/><use href="#hx" x="513.8" y="120.1"/><use href="#hx" x="514.5" y="119.8"/><use href="#hx" x="515.2" y="119.5"/><use href="#hx" x="515.9" y="119.1"/><use href="#hx" x="516.6" y="118.5"/><use href="#hx" x="517.3" y="117.8"/><use href="#hx" x="518.0" y="117.0"/><use href="#hx" x="518.6" y="116.3"/><use href="#hx" x="519.3" y="115.6"/><use href="#hx" x="520.0" y="115.0"/><use href="#hx" x="520.6" y="114.5"/><use href="#hx" x="521.3" y="114.1"/><use href="#hx" x="522.0" y="113.9"/><use href="#hx" x="522.6" y="113.6"/><use href="#hx" x="523.3" y="113.4"/><use href="#hx" x="523.9" y="113.1"/><use href="#hx" x="524.5" y="112.8"/><use href="#hx" x="525.2" y="112.5"/><use href="#hx" x="525.8" y="112.1"/><use href="#hx" x="526.4" y="111.7"/><use href="#hx" x="527.0" y="111.3"/><use href="#hx" x="527.6" y="111.0"/><use href="#hx" x="528.2" y="110.7"/><use href="#hx" x="528.8" y="110.4"/><use href="#hx" x="529.4" y="110.2"/><use href="#hx" x="530.0" y="110.0"/><use href="#hx" x="530.6" y="109.7"/><use href="#hx" x="531.2" y="109.5"/><use href="#hx" x="531.8" y="109.2"/><use href="#hx" x="532.4" y="108.8"/><use href="#hx" x="533.0" y="108.4"/><use href="#hx" x="533.5" y="108.0"/><use href="#hx" x="534.1" y="107.5"/><use href="#hx" x="534.7" y="107.1"/><use href="#hx" x="535.2" y="106.7"/><use href="#hx" x="535.8" y="106.4"/><use href="#hx" x="536.3" y="106.2"/><use href="#hx" x="536.9" y="106.0"/><use href="#hx" x="537.4" y="105.9"/><use href="#hx" x="538.0" y="105.8"/><use href="#hx" x="538.5" y="105.7"/><use href="#hx" x="539.1" y="105.6"/><use href="#hx" x="539.6" y="105.5"/><use href="#hx" x="540.1" y="105.3"/><use href="#hx" x="540.7" y="105.1"/><use href="#hx" x="541.2" y="104.8"/><use href="#hx" x="541.7" y="104.5"/><use href="#hx" x="542.2" y="104.2"/><use href="#hx" x="542.7" y="103.8"/><use href="#hx" x="543.3" y="103.5"/><use href="#hx" x="543.8" y="103.1"/><use href="#hx" x="544.3" y="102.8"/><use href="#hx" x="544.8" y="102.5"/><use href="#hx" x="545.3" y="102.2"/><use href="#hx" x="545.8" y="101.9"/><use href="#hx" x="546.3" y="101.6"/><use href="#hx" x="546.8" y="101.3"/><use href="#hx" x="547.3" y="101.1"/><use href="#hx" x="547.7" y="100.8"/><use href="#hx" x="548.2" y="100.5"/><use href="#hx" x="548.7" y="100.2"/><use href="#hx" x="549.2" y="99.9"/><use href="#hx" x="549.7" y="99.6"/><use href="#hx" x="550.1" y="99.3"/><use href="#hx" x="550.6" y="99.0"/><use href="#hx" x="551.1" y="98.8"/><use href="#hx" x="551.5" y="98.5"/><use href="#hx" x="552.0" y="98.3"/><use href="#hx" x="552.5" y="98.0"/><use href="#hx" x="552.9" y="97.8"/><use href="#hx" x="553.4" y="97.7"/><use href="#hx" x="553.8" y="97.5"/><use href="#hx" x="554.3" y="97.3"/><use href="#hx" x="554.7" y="97.1"/><use href="#hx" x="555.2" y="96.9"/><use href="#hx" x="555.6" y="96.8"/><use href="#hx" x="556.1" y="96.6"/><use href="#hx" x="556.5" y="96.3"/><use href="#hx" x="557.0" y="96.1"/><use href="#hx" x="557.4" y="95.9"/><use href="#hx" x="557.8" y="95.7"/><use href="#hx" x="558.3" y="95.4"/><use href="#hx" x="558.7" y="95.2"/><use href="#hx" x="559.1" y="94.9"/><use href="#hx" x="559.5" y="94.7"/><use href="#hx" x="560.0" y="94.5"/><use href="#hx" x="560.4" y="94.3"/><use href="#hx" x="560.8" y="94.1"/><use href="#hx" x="561.2" y="93.9"/><use href="#hx" x="561.6" y="93.7"/><use href="#hx" x="562.1" y="93.5"/><use href="#hx" x="562.5" y="93.3"/><use href="#hx" x="562.9" y="93.1"/><use href="#hx" x="563.3" y="92.9"/><use href="#hx" x="563.7" y="92.7"/><use href="#hx" x="564.1" y="92.4"/><use href="#hx" x="564.5" y="92.1"/><use href="#hx" x="564.9" y="91.8"/><use href="#hx" x="565.3" y="91.5"/><use href="#hx" x="565.7" y="91.2"/><use href="#hx" x="566.1" y="91.0"/><use href="#hx" x="566.5" y="90.7"/><use href="#hx" x="566.9" y="90.4"/><use href="#hx" x="567.3" y="90.2"/><use href="#hx" x="567.7" y="90.0"/><use href="#hx" x="568.0" y="89.8"/><use href="#hx" x="568.4" y="89.6"/><use href="#hx" x="568.8" y="89.5"/><use href="#hx" x="569.2" y="89.4"/><use href="#hx" x="569.6" y="89.3"/><use href="#hx" x="570.0" y="89.2"/><use href="#hx" x="570.3" y="89.1"/><use href="#hx" x="570.7" y="89.0"/><use href="#hx" x="571.1" y="88.9"/><use href="#hx" x="571.5" y="88.8"/><use href="#hx" x="571.8" y="88.6"/><use href="#hx" x="572.2" y="88.3"/><use href="#hx" x="572.6" y="88.0"/><use href="#hx" x="572.9" y="87.7"/><use href="#hx" x="573.3" y="87.4"/><use href="#hx" x="573.7" y="87.0"/><use href="#hx" x="574.0" y="86.7"/><use href="#hx" x="574.4" y="86.4"/><use href="#hx" x="574.7" y="86.0"/><use href="#hx" x="575.1" y="85.8"/><use href="#hx" x="575.4" y="85.5"/><use href="#hx" x="575.8" y="85.3"/><use href="#hx" x="576.1" y="85.2"/><use href="#hx" x="576.5" y="85.1"/><use href="#hx" x="576.8" y="85.0"/><use href="#hx" x="577.2" y="85.0"/><use href="#hx" x="577.5" y="85.0"/><use href="#hx" x="577.9" y="85.1"/><use href="#hx" x="578.2" y="85.1"/><use href="#hx" x="578.6" y="85.1"/><use href="#hx" x="578.9" y="85.0"/><use href="#hx" x="579.3" y="84.9"/><use href="#hx" x="579.6" y="84.8"/><use href="#hx" x="579.9" y="84.6"/><use href="#hx" x="580.3" y="84.4"/><use href="#hx" x="580.6" y="84.1"/><use href="#hx" x="580.9" y="83.8"/><use href="#hx" x="581.3" y="83.4"/><use href="#hx" x="581.6" y="83.0"/><use href="#hx" x="581.9" y="82.5"/><use href="#hx" x="582.3" y="82.1"/><use href="#hx" x="582.6" y="81.7"/><use href="#hx" x="582.9" y="81.3"/><use href="#hx" x="583.2" y="80.9"/><use href="#hx" x="583.6" y="80.6"/><use href="#hx" x="583.9" y="80.3"/><use href="#hx" x="584.2" y="80.1"/><use href="#hx" x="584.5" y="79.9"/><use href="#hx" x="584.8" y="79.8"/><use href="#hx" x="585.2" y="79.7"/><use href="#hx" x="585.5" y="79.7"/><use href="#hx" x="585.8" y="79.7"/><use href="#hx" x="586.1" y="79.7"/><use href="#hx" x="586.4" y="79.7"/><use href="#hx" x="586.7" y="79.7"/><use href="#hx" x="587.1" y="79.7"/><use href="#hx" x="587.4" y="79.6"/><use href="#hx" x="587.7" y="79.6"/><use href="#hx" x="588.0" y="79.5"/><use href="#hx" x="588.3" y="79.4"/><use href="#hx" x="588.6" y="79.3"/><use href="#hx" x="588.9" y="79.1"/><use href="#hx" x="589.2" y="78.9"/><use href="#hx" x="589.5" y="78.7"/><use href="#hx" x="589.8" y="78.5"/><use href="#hx" x="590.1" y="78.3"/><use href="#hx" x="590.4" y="78.1"/><use href="#hx" x="590.7" y="77.9"/><use href="#hx" x="591.0" y="77.7"/><use href="#hx" x="591.3" y="77.5"/><use href="#hx" x="591.6" y="77.3"/><use href="#hx" x="591.9" y="77.2"/><use href="#hx" x="592.2" y="77.1"/><use href="#hx" x="592.5" y="77.0"/><use href="#hx" x="592.8" y="76.9"/><use href="#hx" x="593.1" y="76.8"/><use href="#hx" x="593.3" y="76.8"/><use href="#hx" x="593.6" y="76.8"/><use href="#hx" x="593.9" y="76.7"/><use href="#hx" x="594.2" y="76.7"/><use href="#hx" x="594.5" y="76.7"/><use href="#hx" x="594.8" y="76.6"/><use href="#hx" x="595.1" y="76.5"/><use href="#hx" x="595.3" y="76.5"/><use href="#hx" x="595.6" y="76.3"/><use href="#hx" x="595.9" y="76.2"/><use href="#hx" x="596.2" y="76.0"/><use href="#hx" x="596.5" y="75.8"/><use href="#hx" x="596.8" y="75.6"/><use href="#hx" x="597.0" y="75.3"/><use href="#hx" x="597.3" y="75.1"/><use href="#hx" x="597.6" y="74.8"/><use href="#hx" x="597.9" y="74.5"/><use href="#hx" x="598.1" y="74.3"/><use href="#hx" x="598.4" y="74.0"/><use href="#hx" x="598.7" y="73.8"/><use href="#hx" x="599.0" y="73.5"/><use href="#hx" x="599.2" y="73.3"/><use href="#hx" x="599.5" y="73.1"/><use href="#hx" x="599.8" y="73.0"/><use href="#hx" x="600.0" y="72.9"/><use href="#hx" x="600.3" y="72.8"/><use href="#hx" x="600.6" y="72.8"/><use href="#hx" x="600.8" y="72.7"/><use href="#hx" x="601.1" y="72.7"/><use href="#hx" x="601.4" y="72.8"/><use href="#hx" x="601.6" y="72.8"/><use href="#hx" x="601.9" y="72.8"/><use href="#hx" x="602.1" y="72.8"/><use href="#hx" x="602.4" y="72.9"/><use href="#hx" x="602.7" y="72.9"/><use href="#hx" x="602.9" y="72.9"/><use href="#hx" x="603.2" y="72.9"/><use href="#hx" x="603.4" y="72.8"/><use href="#hx" x="603.7" y="72.7"/><use href="#hx" x="604.0" y="72.6"/><use href="#hx" x="604.2" y="72.5"/><use href="#hx" x="604.5" y="72.3"/><use href="#hx" x="604.7" y="72.1"/><use href="#hx" x="605.0" y="71.8"/><use href="#hx" x="605.2" y="71.6"/><use href="#hx" x="605.5" y="71.3"/><use href="#hx" x="605.7" y="71.0"/><use href="#hx" x="606.0" y="70.7"/><use href="#hx" x="606.2" y="70.4"/><use href="#hx" x="606.5" y="70.1"/><use href="#hx" x="606.7" y="69.9"/><use href="#hx" x="607.0" y="69.6"/><use href="#hx" x="607.2" y="69.4"/><use href="#hx" x="607.5" y="69.2"/><use href="#hx" x="607.7" y="69.0"/><use href="#hx" x="608.0" y="68.8"/><use href="#hx" x="608.2" y="68.7"/><use href="#hx" x="608.5" y="68.6"/><use href="#hx" x="608.7" y="68.5"/><use href="#hx" x="608.9" y="68.5"/><use href="#hx" x="609.2" y="68.5"/><use href="#hx" x="609.4" y="68.5"/><use href="#hx" x="609.7" y="68.5"/><use href="#hx" x="609.9" y="68.6"/><use href="#hx" x="610.1" y="68.6"/><use href="#hx" x="610.4" y="68.6"/><use href="#hx" x="610.6" y="68.7"/><use href="#hx" x="610.9" y="68.7"/><use href="#hx" x="611.1" y="68.7"/><use href="#hx" x="611.3" y="68.7"/><use href="#hx" x="611.6" y="68.7"/><use href="#hx" x="611.8" y="68.7"/><use href="#hx" x="612.0" y="68.7"/><use href="#hx" x="612.3" y="68.6"/><use href="#hx" x="612.5" y="68.5"/><use href="#hx" x="612.7" y="68.4"/><use href="#hx" x="613.0" y="68.3"/><use href="#hx" x="613.2" y="68.1"/><use href="#hx" x="613.4" y="68.0"/><use href="#hx" x="613.7" y="67.8"/><use href="#hx" x="613.9" y="67.6"/><use href="#hx" x="614.1" y="67.4"/><use href="#hx" x="614.3" y="67.2"/><use href="#hx" x="614.6" y="67.0"/><use href="#hx" x="614.8" y="66.8"/><use href="#hx" x="615.0" y="66.6"/><use href="#hx" x="615.3" y="66.4"/><use href="#hx" x="615.5" y="66.2"/><use href="#hx" x="615.7" y="66.1"/><use href="#hx" x="615.9" y="65.9"/><use href="#hx" x="616.2" y="65.7"/><use href="#hx" x="616.4" y="65.5"/><use href="#hx" x="616.6" y="65.4"/><use href="#hx" x="616.8" y="65.2"/><use href="#hx" x="617.0" y="65.1"/><use href="#hx" x="617.3" y="65.0"/><use href="#hx" x="617.5" y="64.8"/><use href="#hx" x="617.7" y="64.7"/><use href="#hx" x="617.9" y="64.6"/><use href="#hx" x="618.1" y="64.5"/><use href="#hx" x="618.4" y="64.4"/><use href="#hx" x="618.6" y="64.3"/><use href="#hx" x="618.8" y="64.2"/><use href="#hx" x="619.0" y="64.1"/><use href="#hx" x="619.2" y="63.9"/><use href="#hx" x="619.4" y="63.8"/><use href="#hx" x="619.7" y="63.7"/><use href="#hx" x="619.9" y="63.6"/><use href="#hx" x="620.1" y="63.5"/><use href="#hx" x="620.3" y="63.4"/><use href="#hx" x="620.5" y="63.3"/><use href="#hx" x="620.7" y="63.2"/><use href="#hx" x="620.9" y="63.1"/><use href="#hx" x="621.1" y="63.0"/><use href="#hx" x="621.4" y="62.9"/><use href="#hx" x="621.6" y="62.8"/><use href="#hx" x="621.8" y="62.7"/><use href="#hx" x="622.0" y="62.6"/><use href="#hx" x="622.2" y="62.5"/><use href="#hx" x="622.4" y="62.4"/><use href="#hx" x="622.6" y="62.3"/><use href="#hx" x="622.8" y="62.2"/><use href="#hx" x="623.0" y="62.2"/><use href="#hx" x="623.2" y="62.1"/><use href="#hx" x="623.4" y="62.0"/><use href="#hx" x="623.6" y="61.9"/><use href="#hx" x="623.8" y="61.8"/><use href="#hx" x="624.0" y="61.8"/><use href="#hx" x="624.3" y="61.7"/><use href="#hx" x="624.5" y="61.7"/><use href="#hx" x="624.7" y="61.6"/><use href="#hx" x="624.9" y="61.5"/><use href="#hx" x="625.1" y="61.5"/><use href="#hx" x="625.3" y="61.4"/><use href="#hx" x="625.5" y="61.4"/><use href="#hx" x="625.7" y="61.4"/><use href="#hx" x="625.9" y="61.3"/><use href="#hx" x="626.1" y="61.3"/><use href="#hx" x="626.3" y="61.2"/><use href="#hx" x="626.5" y="61.2"/><use href="#hx" x="626.7" y="61.1"/><use href="#hx" x="626.9" y="61.1"/><use href="#hx" x="627.1" y="61.0"/><use href="#hx" x="627.3" y="61.0"/><use href="#hx" x="627.4" y="60.9"/><use href="#hx" x="627.6" y="60.8"/><use href="#hx" x="627.8" y="60.8"/><use href="#hx" x="628.0" y="60.7"/><use href="#hx" x="628.2" y="60.6"/><use href="#hx" x="628.4" y="60.5"/><use href="#hx" x="628.6" y="60.5"/><use href="#hx" x="628.8" y="60.4"/><use href="#hx" x="629.0" y="60.3"/><use href="#hx" x="629.2" y="60.2"/><use href="#hx" x="629.4" y="60.1"/><use href="#hx" x="629.6" y="59.9"/><use href="#hx" x="629.8" y="59.8"/><use href="#hx" x="630.0" y="59.7"/><use href="#hx" x="630.2" y="59.6"/><use href="#hx" x="630.3" y="59.4"/><use href="#hx" x="630.5" y="59.3"/><use href="#hx" x="630.7" y="59.2"/><use href="#hx" x="630.9" y="59.0"/><use href="#hx" x="631.1" y="58.8"/><use href="#hx" x="631.3" y="58.7"/><use href="#hx" x="631.5" y="58.5"/><use href="#hx" x="631.7" y="58.3"/><use href="#hx" x="631.9" y="58.2"/><use href="#hx" x="632.0" y="58.0"/><use href="#hx" x="632.2" y="57.8"/><use href="#hx" x="632.4" y="57.6"/><use href="#hx" x="632.6" y="57.4"/><use href="#hx" x="632.8" y="57.2"/><use href="#hx" x="633.0" y="57.0"/><use href="#hx" x="633.1" y="56.8"/><use href="#hx" x="633.3" y="56.6"/><use href="#hx" x="633.5" y="56.4"/><use href="#hx" x="633.7" y="56.2"/><use href="#hx" x="633.9" y="56.0"/><use href="#hx" x="634.1" y="55.8"/><use href="#hx" x="634.2" y="55.7"/><use href="#hx" x="634.4" y="55.5"/><use href="#hx" x="634.6" y="55.3"/><use href="#hx" x="634.8" y="55.2"/><use href="#hx" x="635.0" y="55.0"/></g>
<path d="M157.2 405.4L206.8 355.9M218.2 344.7L242.4 321.4M253.9 310.3L267.7 297.0M279.4 286.1L287.1 279.2M299.0 268.4L303.2 264.6M315.2 254.1L316.5 252.9M328.3 242.1L328.8 241.7" stroke="#008000" stroke-width="1.5" fill="none"/>
<g stroke="#008000" stroke-linejoin="round" stroke-width="2.1" fill="#fff"><use href="#st" x="151.5" y="411.0"/><use href="#st" x="212.5" y="350.3"/><use href="#st" x="248.1" y="315.8"/><use href="#st" x="273.4" y="291.5"/><use href="#st" x="293.1" y="273.8"/><use href="#st" x="309.1" y="259.2"/><use href="#st" x="322.7" y="247.8"/><use href="#st" x="334.4" y="236.0"/><use href="#st" x="344.8" y="228.0"/><use href="#st" x="354.0" y="220.5"/><use href="#st" x="362.4" y="213.7"/><use href="#st" x="370.1" y="208.5"/><use href="#st" x="377.1" y="204.0"/><use href="#st" x="383.6" y="200.0"/><use href="#st" x="389.7" y="196.1"/><use href="#st" x="395.4" y="192.2"/><use href="#st" x="400.7" y="188.5"/><use href="#st" x="405.7" y="185.0"/><use href="#st" x="410.5" y="181.7"/><use href="#st" x="415.0" y="178.6"/><use href="#st" x="419.3" y="175.7"/><use href="#st" x="423.4" y="173.0"/><use href="#st" x="427.3" y="170.3"/><use href="#st" x="431.0" y="167.9"/><use href="#st" x="434.6" y="165.0"/><use href="#st" x="438.1" y="162.5"/><use href="#st" x="441.4" y="160.5"/><use href="#st" x="444.6" y="158.5"/><use href="#st" x="447.7" y="156.7"/><use href="#st" x="450.6" y="155.5"/><use href="#st" x="453.5" y="153.2"/><use href="#st" x="456.3" y="150.5"/><use href="#st" x="459.0" y="149.4"/><use href="#st" x="461.6" y="147.9"/><use href="#st" x="464.2" y="145.8"/><use href="#st" x="466.7" y="144.0"/><use href="#st" x="469.1" y="143.2"/><use href="#st" x="471.4" y="142.8"/><use href="#st" x="473.7" y="141.3"/><use href="#st" x="475.9" y="139.5"/><use href="#st" x="478.1" y="138.5"/><use href="#st" x="480.2" y="137.7"/><use href="#st" x="482.3" y="136.5"/><use href="#st" x="484.3" y="134.9"/><use href="#st" x="486.3" y="133.2"/><use href="#st" x="488.2" y="131.5"/><use href="#st" x="489.2" y="130.6"/><use href="#st" x="490.1" y="129.8"/><use href="#st" x="491.1" y="129.2"/><use href="#st" x="492.0" y="128.9"/><use href="#st" x="492.9" y="128.7"/><use href="#st" x="493.8" y="128.8"/><use href="#st" x="494.7" y="128.8"/><use href="#st" x="495.6" y="128.7"/><use href="#st" x="496.4" y="128.4"/><use href="#st" x="497.3" y="127.7"/><use href="#st" x="498.2" y="126.9"/><use href="#st" x="499.0" y="126.0"/><use href="#st" x="499.9" y="125.1"/><use href="#st" x="500.7" y="124.3"/><use href="#st" x="501.5" y="123.7"/><use href="#st" x="502.3" y="123.1"/><use href="#st" x="503.1" y="122.6"/><use href="#st" x="503.9" y="122.3"/><use href="#st" x="504.7" y="122.0"/><use href="#st" x="505.5" y="121.8"/><use href="#st" x="506.3" y="121.5"/><use href="#st" x="507.1" y="121.3"/><use href="#st" x="507.9" y="121.0"/><use href="#st" x="508.6" y="120.6"/><use href="#st" x="509.4" y="120.2"/><use href="#st" x="510.1" y="119.7"/><use href="#st" x="510.9" y="119.2"/><use href="#st" x="511.6" y="118.7"/><use href="#st" x="512.3" y="118.1"/><use href="#st" x="513.1" y="117.6"/><use href="#st" x="513.8" y="117.1"/><use href="#st" x="514.5" y="116.7"/><use href="#st" x="515.2" y="116.2"/><use href="#st" x="515.9" y="115.8"/><use href="#st" x="516.6" y="115.4"/><use href="#st" x="517.3" y="115.0"/><use href="#st" x="518.0" y="114.6"/><use href="#st" x="518.6" y="114.3"/><use href="#st" x="519.3" y="114.0"/><use href="#st" x="520.0" y="113.6"/><use href="#st" x="520.6" y="113.3"/><use href="#st" x="521.3" y="113.0"/><use href="#st" x="522.0" y="112.7"/><use href="#st" x="522.6" y="112.4"/><use href="#st" x="523.3" y="112.1"/><use href="#st" x="523.9" y="111.7"/><use href="#st" x="524.5" y="111.4"/><use href="#st" x="525.2" y="111.0"/><use href="#st" x="525.8" y="110.6"/><use href="#st" x="526.4" y="110.3"/><use href="#st" x="527.0" y="109.9"/><use href="#st" x="527.6" y="109.6"/><use href="#st" x="528.2" y="109.3"/><use href="#st" x="528.8" y="109.0"/><use href="#st" x="529.4" y="108.8"/><use href="#st" x="530.0" y="108.5"/><use href="#st" x="530.6" y="108.3"/><use href="#st" x="531.2" y="108.0"/><use href="#st" x="531.8" y="107.7"/><use href="#st" x="532.4" y="107.3"/><use href="#st" x="533.0" y="107.0"/><use href="#st" x="533.5" y="106.6"/><use href="#st" x="534.1" y="106.2"/><use href="#st" x="534.7" y="105.7"/><use href="#st" x="535.2" y="105.3"/><use href="#st" x="535.8" y="104.9"/><use href="#st" x="536.3" y="104.6"/><use href="#st" x="536.9" y="104.2"/><use href="#st" x="537.4" y="103.9"/><use href="#st" x="538.0" y="103.6"/><use href="#st" x="538.5" y="103.3"/><use href="#st" x="539.1" y="103.0"/><use href="#st" x="539.6" y="102.8"/><use href="#st" x="540.1" y="102.6"/><use href="#st" x="540.7" y="102.4"/><use href="#st" x="541.2" y="102.2"/><use href="#st" x="541.7" y="102.0"/><use href="#st" x="542.2" y="101.8"/><use href="#st" x="542.7" y="101.6"/><use href="#st" x="543.3" y="101.3"/><use href="#st" x="543.8" y="101.1"/><use href="#st" x="544.3" y="100.8"/><use href="#st" x="544.8" y="100.5"/><use href="#st" x="545.3" y="100.3"/><use href="#st" x="545.8" y="99.9"/><use href="#st" x="546.3" y="99.6"/><use href="#st" x="546.8" y="99.3"/><use href="#st" x="547.3" y="99.1"/><use href="#st" x="547.7" y="98.8"/><use href="#st" x="548.2" y="98.6"/><use href="#st" x="548.7" y="98.4"/><use href="#st" x="549.2" y="98.2"/><use href="#st" x="549.7" y="98.0"/><use href="#st" x="550.1" y="97.8"/><use href="#st" x="550.6" y="97.6"/><use href="#st" x="551.1" y="97.4"/><use href="#st" x="551.5" y="97.2"/><use href="#st" x="552.0" y="97.0"/><use href="#st" x="552.5" y="96.7"/><use href="#st" x="552.9" y="96.4"/><use href="#st" x="553.4" y="96.0"/><use href="#st" x="553.8" y="95.7"/><use href="#st" x="554.3" y="95.3"/><use href="#st" x="554.7" y="95.0"/><use href="#st" x="555.2" y="94.7"/><use href="#st" x="555.6" y="94.4"/><use href="#st" x="556.1" y="94.1"/><use href="#st" x="556.5" y="93.8"/><use href="#st" x="557.0" y="93.6"/><use href="#st" x="557.4" y="93.4"/><use href="#st" x="557.8" y="93.2"/><use href="#st" x="558.3" y="93.0"/><use href="#st" x="558.7" y="92.8"/><use href="#st" x="559.1" y="92.6"/><use href="#st" x="559.5" y="92.4"/><use href="#st" x="560.0" y="92.1"/><use href="#st" x="560.4" y="91.8"/><use href="#st" x="560.8" y="91.5"/><use href="#st" x="561.2" y="91.2"/><use href="#st" x="561.6" y="90.9"/><use href="#st" x="562.1" y="90.6"/><use href="#st" x="562.5" y="90.3"/><use href="#st" x="562.9" y="90.0"/><use href="#st" x="563.3" y="89.8"/><use href="#st" x="563.7" y="89.6"/><use href="#st" x="564.1" y="89.4"/><use href="#st" x="564.5" y="89.3"/><use href="#st" x="564.9" y="89.3"/><use href="#st" x="565.3" y="89.3"/><use href="#st" x="565.7" y="89.2"/><use href="#st" x="566.1" y="89.2"/><use href="#st" x="566.5" y="89.2"/><use href="#st" x="566.9" y="89.2"/><use href="#st" x="567.3" y="89.1"/><use href="#st" x="567.7" y="88.9"/><use href="#st" x="568.0" y="88.8"/><use href="#st" x="568.4" y="88.5"/><use href="#st" x="568.8" y="88.2"/><use href="#st" x="569.2" y="87.8"/><use href="#st" x="569.6" y="87.5"/><use href="#st" x="570.0" y="87.1"/><use href="#st" x="570.3" y="86.7"/><use href="#st" x="570.7" y="86.3"/><use href="#st" x="571.1" y="85.9"/><use href="#st" x="571.5" y="85.6"/><use href="#st" x="571.8" y="85.3"/><use href="#st" x="572.2" y="85.0"/><use href="#st" x="572.6" y="84.9"/><use href="#st" x="572.9" y="84.7"/><use href="#st" x="573.3" y="84.6"/><use href="#st" x="573.7" y="84.5"/><use href="#st" x="574.0" y="84.4"/><use href="#st" x="574.4" y="84.4"/><use href="#st" x="574.7" y="84.3"/><use href="#st" x="575.1" y="84.2"/><use href="#st" x="575.4" y="84.1"/><use href="#st" x="575.8" y="84.0"/><use href="#st" x="576.1" y="83.9"/><use href="#st" x="576.5" y="83.7"/><use href="#st" x="576.8" y="83.5"/><use href="#st" x="577.2" y="83.3"/><use href="#st" x="577.5" y="83.1"/><use href="#st" x="577.9" y="82.8"/><use href="#st" x="578.2" y="82.6"/><use href="#st" x="578.6" y="82.3"/><use href="#st" x="578.9" y="82.1"/><use href="#st" x="579.3" y="81.8"/><use href="#st" x="579.6" y="81.6"/><use href="#st" x="579.9" y="81.4"/><use href="#st" x="580.3" y="81.2"/><use href="#st" x="580.6" y="81.0"/><use href="#st" x="580.9" y="80.9"/><use href="#st" x="581.3" y="80.7"/><use href="#st" x="581.6" y="80.6"/><use href="#st" x="581.9" y="80.5"/><use href="#st" x="582.3" y="80.4"/><use href="#st" x="582.6" y="80.3"/><use href="#st" x="582.9" y="80.2"/><use href="#st" x="583.2" y="80.1"/><use href="#st" x="583.6" y="80.1"/><use href="#st" x="583.9" y="80.0"/><use href="#st" x="584.2" y="79.9"/><use href="#st" x="584.5" y="79.8"/><use href="#st" x="584.8" y="79.7"/><use href="#st" x="585.2" y="79.6"/><use href="#st" x="585.5" y="79.5"/><use href="#st" x="585.8" y="79.4"/><use href="#st" x="586.1" y="79.2"/><use href="#st" x="586.4" y="79.1"/><use href="#st" x="586.7" y="78.9"/><use href="#st" x="587.1" y="78.8"/><use href="#st" x="587.4" y="78.6"/><use href="#st" x="587.7" y="78.4"/><use href="#st" x="588.0" y="78.2"/><use href="#st" x="588.3" y="77.9"/><use href="#st" x="588.6" y="77.7"/><use href="#st" x="588.9" y="77.4"/><use href="#st" x="589.2" y="77.1"/><use href="#st" x="589.5" y="76.8"/><use href="#st" x="589.8" y="76.6"/><use href="#st" x="590.1" y="76.3"/><use href="#st" x="590.4" y="76.0"/><use href="#st" x="590.7" y="75.8"/><use href="#st" x="591.0" y="75.5"/><use href="#st" x="591.3" y="75.3"/><use href="#st" x="591.6" y="75.1"/><use href="#st" x="591.9" y="74.9"/><use href="#st" x="592.2" y="74.8"/><use href="#st" x="592.5" y="74.6"/><use href="#st" x="592.8" y="74.5"/><use href="#st" x="593.1" y="74.4"/><use href="#st" x="593.3" y="74.4"/><use href="#st" x="593.6" y="74.3"/><use href="#st" x="593.9" y="74.3"/><use href="#st" x="594.2" y="74.2"/><use href="#st" x="594.5" y="74.1"/><use href="#st" x="594.8" y="74.1"/><use href="#st" x="595.1" y="74.0"/><use href="#st" x="595.3" y="73.9"/><use href="#st" x="595.6" y="73.8"/><use href="#st" x="595.9" y="73.7"/><use href="#st" x="596.2" y="73.5"/><use href="#st" x="596.5" y="73.3"/><use href="#st" x="596.8" y="73.1"/><use href="#st" x="597.0" y="72.9"/><use href="#st" x="597.3" y="72.7"/><use href="#st" x="597.6" y="72.5"/><use href="#st" x="597.9" y="72.2"/><use href="#st" x="598.1" y="72.0"/><use href="#st" x="598.4" y="71.8"/><use href="#st" x="598.7" y="71.6"/><use href="#st" x="599.0" y="71.4"/><use href="#st" x="599.2" y="71.2"/><use href="#st" x="599.5" y="71.0"/><use href="#st" x="599.8" y="70.9"/><use href="#st" x="600.0" y="70.8"/><use href="#st" x="600.3" y="70.7"/><use href="#st" x="600.6" y="70.6"/><use href="#st" x="600.8" y="70.6"/><use href="#st" x="601.1" y="70.6"/><use href="#st" x="601.4" y="70.6"/><use href="#st" x="601.6" y="70.6"/><use href="#st" x="601.9" y="70.6"/><use href="#st" x="602.1" y="70.6"/><use href="#st" x="602.4" y="70.6"/><use href="#st" x="602.7" y="70.6"/><use href="#st" x="602.9" y="70.6"/><use href="#st" x="603.2" y="70.6"/><use href="#st" x="603.4" y="70.6"/><use href="#st" x="603.7" y="70.6"/><use href="#st" x="604.0" y="70.5"/><use href="#st" x="604.2" y="70.4"/><use href="#st" x="604.5" y="70.3"/><use href="#st" x="604.7" y="70.2"/><use href="#st" x="605.0" y="70.0"/><use href="#st" x="605.2" y="69.8"/><use href="#st" x="605.5" y="69.7"/><use href="#st" x="605.7" y="69.5"/><use href="#st" x="606.0" y="69.3"/><use href="#st" x="606.2" y="69.1"/><use href="#st" x="606.5" y="68.8"/><use href="#st" x="606.7" y="68.6"/><use href="#st" x="607.0" y="68.4"/><use href="#st" x="607.2" y="68.2"/><use href="#st" x="607.5" y="68.0"/><use href="#st" x="607.7" y="67.7"/><use href="#st" x="608.0" y="67.5"/><use href="#st" x="608.2" y="67.3"/><use href="#st" x="608.5" y="67.1"/><use href="#st" x="608.7" y="67.0"/><use href="#st" x="608.9" y="66.8"/><use href="#st" x="609.2" y="66.6"/><use href="#st" x="609.4" y="66.4"/><use href="#st" x="609.7" y="66.3"/><use href="#st" x="609.9" y="66.1"/><use href="#st" x="610.1" y="66.0"/><use href="#st" x="610.4" y="65.8"/><use href="#st" x="610.6" y="65.7"/><use href="#st" x="610.9" y="65.5"/><use href="#st" x="611.1" y="65.4"/><use href="#st" x="611.3" y="65.3"/><use href="#st" x="611.6" y="65.2"/><use href="#st" x="611.8" y="65.0"/><use href="#st" x="612.0" y="64.9"/><use href="#st" x="612.3" y="64.8"/><use href="#st" x="612.5" y="64.7"/><use href="#st" x="612.7" y="64.6"/><use href="#st" x="613.0" y="64.5"/><use href="#st" x="613.2" y="64.4"/><use href="#st" x="613.4" y="64.3"/><use href="#st" x="613.7" y="64.2"/><use href="#st" x="613.9" y="64.1"/><use href="#st" x="614.1" y="64.0"/><use href="#st" x="614.3" y="63.9"/><use href="#st" x="614.6" y="63.9"/><use href="#st" x="614.8" y="63.8"/><use href="#st" x="615.0" y="63.7"/><use href="#st" x="615.3" y="63.6"/><use href="#st" x="615.5" y="63.6"/><use href="#st" x="615.7" y="63.5"/><use href="#st" x="615.9" y="63.5"/><use href="#st" x="616.2" y="63.4"/><use href="#st" x="616.4" y="63.4"/><use href="#st" x="616.6" y="63.3"/><use href="#st" x="616.8" y="63.3"/><use href="#st" x="617.0" y="63.2"/><use href="#st" x="617.3" y="63.2"/><use href="#st" x="617.5" y="63.2"/><use href="#st" x="617.7" y="63.1"/><use href="#st" x="617.9" y="63.1"/><use href="#st" x="618.1" y="63.0"/><use href="#st" x="618.4" y="63.0"/><use href="#st" x="618.6" y="62.9"/><use href="#st" x="618.8" y="62.9"/><use href="#st" x="619.0" y="62.8"/><use href="#st" x="619.2" y="62.8"/><use href="#st" x="619.4" y="62.7"/><use href="#st" x="619.7" y="62.7"/><use href="#st" x="619.9" y="62.6"/><use href="#st" x="620.1" y="62.5"/><use href="#st" x="620.3" y="62.5"/><use href="#st" x="620.5" y="62.4"/><use href="#st" x="620.7" y="62.3"/><use href="#st" x="620.9" y="62.2"/><use href="#st" x="621.1" y="62.1"/><use href="#st" x="621.4" y="62.0"/><use href="#st" x="621.6" y="61.9"/><use href="#st" x="621.8" y="61.8"/><use href="#st" x="622.0" y="61.7"/><use href="#st" x="622.2" y="61.6"/><use href="#st" x="622.4" y="61.5"/><use href="#st" x="622.6" y="61.4"/><use href="#st" x="622.8" y="61.3"/><use href="#st" x="623.0" y="61.2"/><use href="#st" x="623.2" y="61.1"/><use href="#st" x="623.4" y="61.0"/><use href="#st" x="623.6" y="60.9"/><use href="#st" x="623.8" y="60.8"/><use href="#st" x="624.0" y="60.7"/><use href="#st" x="624.3" y="60.6"/><use href="#st" x="624.5" y="60.5"/><use href="#st" x="624.7" y="60.4"/><use href="#st" x="624.9" y="60.3"/><use href="#st" x="625.1" y="60.2"/><use href="#st" x="625.3" y="60.1"/><use href="#st" x="625.5" y="60.0"/><use href="#st" x="625.7" y="59.9"/><use href="#st" x="625.9" y="59.8"/><use href="#st" x="626.1" y="59.8"/><use href="#st" x="626.3" y="59.7"/><use href="#st" x="626.5" y="59.6"/><use href="#st" x="626.7" y="59.5"/><use href="#st" x="626.9" y="59.3"/><use href="#st" x="627.1" y="59.2"/><use href="#st" x="627.3" y="59.1"/><use href="#st" x="627.4" y="59.0"/><use href="#st" x="627.6" y="58.9"/><use href="#st" x="627.8" y="58.8"/><use href="#st" x="628.0" y="58.6"/><use href="#st" x="628.2" y="58.5"/><use href="#st" x="628.4" y="58.4"/><use href="#st" x="628.6" y="58.2"/><use href="#st" x="628.8" y="58.1"/><use href="#st" x="629.0" y="57.9"/><use href="#st" x="629.2" y="57.8"/><use href="#st" x="629.4" y="57.6"/><use href="#st" x="629.6" y="57.5"/><use href="#st" x="629.8" y="57.3"/><use href="#st" x="630.0" y="57.2"/><use href="#st" x="630.2" y="57.0"/><use href="#st" x="630.3" y="56.9"/><use href="#st" x="630.5" y="56.7"/><use href="#st" x="630.7" y="56.6"/><use href="#st" x="630.9" y="56.4"/><use href="#st" x="631.1" y="56.3"/><use href="#st" x="631.3" y="56.1"/><use href="#st" x="631.5" y="56.0"/><use href="#st" x="631.7" y="55.9"/><use href="#st" x="631.9" y="55.7"/><use href="#st" x="632.0" y="55.6"/><use href="#st" x="632.2" y="55.5"/><use href="#st" x="632.4" y="55.4"/><use href="#st" x="632.6" y="55.3"/><use href="#st" x="632.8" y="55.2"/><use href="#st" x="633.0" y="55.1"/><use href="#st" x="633.1" y="55.0"/><use href="#st" x="633.3" y="54.9"/><use href="#st" x="633.5" y="54.8"/><use href="#st" x="633.7" y="54.7"/><use href="#st" x="633.9" y="54.7"/><use href="#st" x="634.1" y="54.6"/><use href="#st" x="634.2" y="54.5"/><use href="#st" x="634.4" y="54.4"/><use href="#st" x="634.6" y="54.4"/><use href="#st" x="634.8" y="54.3"/><use href="#st" x="635.0" y="54.3"/></g>
<path d="M157.1 393.5L206.9 343.2M218.1 331.8L242.5 307.4M254.0 296.3L267.6 283.8M279.2 272.9L287.3 265.0M299.1 254.3L303.1 250.8M315.0 240.2L316.8 238.5" stroke="#ff8000" stroke-width="1.5" fill="none"/>
<g stroke="#ff8000" stroke-width="1.8" fill="#fff"><use href="#pe" x="151.5" y="399.2"/><use href="#pe" x="212.5" y="337.5"/><use href="#pe" x="248.1" y="301.7"/><use href="#pe" x="273.4" y="278.4"/><use href="#pe" x="293.1" y="259.5"/><use href="#pe" x="309.1" y="245.6"/><use href="#pe" x="322.7" y="233.1"/><use href="#pe" x="334.4" y="223.5"/><use href="#pe" x="344.8" y="215.0"/><use href="#pe" x="354.0" y="208.7"/><use href="#pe" x="362.4" y="202.2"/><use href="#pe" x="370.1" y="196.6"/><use href="#pe" x="377.1" y="191.6"/><use href="#pe" x="383.6" y="187.1"/><use href="#pe" x="389.7" y="183.0"/><use href="#pe" x="395.4" y="179.1"/><use href="#pe" x="400.7" y="175.4"/><use href="#pe" x="405.7" y="171.8"/><use href="#pe" x="410.5" y="168.7"/><use href="#pe" x="415.0" y="165.5"/><use href="#pe" x="419.3" y="163.1"/><use href="#pe" x="423.4" y="160.5"/><use href="#pe" x="427.3" y="157.0"/><use href="#pe" x="431.0" y="154.4"/><use href="#pe" x="434.6" y="152.2"/><use href="#pe" x="438.1" y="150.4"/><use href="#pe" x="441.4" y="148.5"/><use href="#pe" x="444.6" y="146.2"/><use href="#pe" x="447.7" y="143.9"/><use href="#pe" x="450.6" y="141.3"/><use href="#pe" x="453.5" y="139.3"/><use href="#pe" x="456.3" y="137.6"/><use href="#pe" x="459.0" y="135.1"/><use href="#pe" x="461.6" y="133.3"/><use href="#pe" x="464.2" y="132.2"/><use href="#pe" x="466.7" y="131.3"/><use href="#pe" x="469.1" y="130.3"/><use href="#pe" x="471.4" y="128.9"/><use href="#pe" x="473.7" y="126.8"/><use href="#pe" x="475.9" y="124.8"/><use href="#pe" x="478.1" y="123.6"/><use href="#pe" x="480.2" y="122.9"/><use href="#pe" x="482.3" y="122.2"/><use href="#pe" x="484.3" y="121.1"/><use href="#pe" x="486.3" y="119.5"/><use href="#pe" x="488.2" y="117.8"/><use href="#pe" x="489.2" y="117.1"/><use href="#pe" x="490.1" y="116.4"/><use href="#pe" x="491.1" y="115.8"/><use href="#pe" x="492.0" y="115.3"/><use href="#pe" x="492.9" y="114.8"/><use href="#pe" x="493.8" y="114.3"/><use href="#pe" x="494.7" y="113.9"/><use href="#pe" x="495.6" y="113.5"/><use href="#pe" x="496.4" y="113.0"/><use href="#pe" x="497.3" y="112.5"/><use href="#pe" x="498.2" y="111.9"/><use href="#pe" x="499.0" y="111.4"/><use href="#pe" x="499.9" y="110.8"/><use href="#pe" x="500.7" y="110.3"/><use href="#pe" x="501.5" y="109.7"/><use href="#pe" x="502.3" y="109.2"/><use href="#pe" x="503.1" y="108.6"/><use href="#pe" x="503.9" y="108.1"/><use href="#pe" x="504.7" y="107.5"/><use href="#pe" x="505.5" y="107.0"/><use href="#pe" x="506.3" y="106.4"/><use href="#pe" x="507.1" y="105.9"/><use href="#pe" x="507.9" y="105.4"/><use href="#pe" x="508.6" y="104.9"/><use href="#pe" x="509.4" y="104.4"/><use href="#pe" x="510.1" y="103.9"/><use href="#pe" x="510.9" y="103.5"/><use href="#pe" x="511.6" y="103.1"/><use href="#pe" x="512.3" y="102.7"/><use href="#pe" x="513.1" y="102.4"/><use href="#pe" x="513.8" y="102.0"/><use href="#pe" x="514.5" y="101.7"/><use href="#pe" x="515.2" y="101.3"/><use href="#pe" x="515.9" y="100.8"/><use href="#pe" x="516.6" y="100.3"/><use href="#pe" x="517.3" y="99.8"/><use href="#pe" x="518.0" y="99.3"/><use href="#pe" x="518.6" y="98.8"/><use href="#pe" x="519.3" y="98.4"/><use href="#pe" x="520.0" y="98.0"/><use href="#pe" x="520.6" y="97.7"/><use href="#pe" x="521.3" y="97.5"/><use href="#pe" x="522.0" y="97.3"/><use href="#pe" x="522.6" y="97.1"/><use href="#pe" x="523.3" y="96.9"/><use href="#pe" x="523.9" y="96.7"/><use href="#pe" x="524.5" y="96.4"/><use href="#pe" x="525.2" y="96.0"/><use href="#pe" x="525.8" y="95.6"/><use href="#pe" x="526.4" y="95.1"/><use href="#pe" x="527.0" y="94.7"/><use href="#pe" x="527.6" y="94.3"/><use href="#pe" x="528.2" y="93.8"/><use href="#pe" x="528.8" y="93.4"/><use href="#pe" x="529.4" y="93.1"/><use href="#pe" x="530.0" y="92.7"/><use href="#pe" x="530.6" y="92.4"/><use href="#pe" x="531.2" y="92.1"/><use href="#pe" x="531.8" y="91.8"/><use href="#pe" x="532.4" y="91.6"/><use href="#pe" x="533.0" y="91.3"/><use href="#pe" x="533.5" y="91.1"/><use href="#pe" x="534.1" y="90.8"/><use href="#pe" x="534.7" y="90.6"/><use href="#pe" x="535.2" y="90.3"/><use href="#pe" x="535.8" y="90.0"/><use href="#pe" x="536.3" y="89.7"/><use href="#pe" x="536.9" y="89.4"/><use href="#pe" x="537.4" y="89.0"/><use href="#pe" x="538.0" y="88.6"/><use href="#pe" x="538.5" y="88.3"/><use href="#pe" x="539.1" y="87.9"/><use href="#pe" x="539.6" y="87.6"/><use href="#pe" x="540.1" y="87.2"/><use href="#pe" x="540.7" y="86.9"/><use href="#pe" x="541.2" y="86.6"/><use href="#pe" x="541.7" y="86.3"/><use href="#pe" x="542.2" y="86.0"/><use href="#pe" x="542.7" y="85.7"/><use href="#pe" x="543.3" y="85.4"/><use href="#pe" x="543.8" y="85.0"/><use href="#pe" x="544.3" y="84.7"/><use href="#pe" x="544.8" y="84.4"/><use href="#pe" x="545.3" y="84.0"/><use href="#pe" x="545.8" y="83.7"/><use href="#pe" x="546.3" y="83.3"/><use href="#pe" x="546.8" y="83.0"/><use href="#pe" x="547.3" y="82.6"/><use href="#pe" x="547.7" y="82.2"/><use href="#pe" x="548.2" y="81.8"/><use href="#pe" x="548.7" y="81.5"/><use href="#pe" x="549.2" y="81.1"/><use href="#pe" x="549.7" y="80.7"/><use href="#pe" x="550.1" y="80.4"/><use href="#pe" x="550.6" y="80.1"/><use href="#pe" x="551.1" y="79.8"/><use href="#pe" x="551.5" y="79.6"/><use href="#pe" x="552.0" y="79.4"/><use href="#pe" x="552.5" y="79.3"/><use href="#pe" x="552.9" y="79.2"/><use href="#pe" x="553.4" y="79.2"/><use href="#pe" x="553.8" y="79.1"/><use href="#pe" x="554.3" y="79.1"/><use href="#pe" x="554.7" y="79.0"/><use href="#pe" x="555.2" y="78.8"/><use href="#pe" x="555.6" y="78.7"/><use href="#pe" x="556.1" y="78.4"/><use href="#pe" x="556.5" y="78.1"/><use href="#pe" x="557.0" y="77.7"/><use href="#pe" x="557.4" y="77.3"/><use href="#pe" x="557.8" y="76.8"/><use href="#pe" x="558.3" y="76.4"/><use href="#pe" x="558.7" y="75.9"/><use href="#pe" x="559.1" y="75.5"/><use href="#pe" x="559.5" y="75.0"/><use href="#pe" x="560.0" y="74.6"/><use href="#pe" x="560.4" y="74.3"/><use href="#pe" x="560.8" y="74.0"/><use href="#pe" x="561.2" y="73.7"/><use href="#pe" x="561.6" y="73.5"/><use href="#pe" x="562.1" y="73.3"/><use href="#pe" x="562.5" y="73.1"/><use href="#pe" x="562.9" y="72.9"/><use href="#pe" x="563.3" y="72.7"/><use href="#pe" x="563.7" y="72.5"/><use href="#pe" x="564.1" y="72.3"/><use href="#pe" x="564.5" y="72.1"/><use href="#pe" x="564.9" y="71.9"/><use href="#pe" x="565.3" y="71.6"/><use href="#pe" x="565.7" y="71.4"/><use href="#pe" x="566.1" y="71.1"/><use href="#pe" x="566.5" y="70.9"/><use href="#pe" x="566.9" y="70.6"/><use href="#pe" x="567.3" y="70.4"/><use href="#pe" x="567.7" y="70.2"/><use href="#pe" x="568.0" y="70.0"/><use href="#pe" x="568.4" y="69.8"/><use href="#pe" x="568.8" y="69.6"/><use href="#pe" x="569.2" y="69.5"/><use href="#pe" x="569.6" y="69.3"/><use href="#pe" x="570.0" y="69.2"/><use href="#pe" x="570.3" y="69.0"/><use href="#pe" x="570.7" y="68.9"/><use href="#pe" x="571.1" y="68.7"/><use href="#pe" x="571.5" y="68.6"/><use href="#pe" x="571.8" y="68.4"/><use href="#pe" x="572.2" y="68.3"/><use href="#pe" x="572.6" y="68.1"/><use href="#pe" x="572.9" y="67.9"/><use href="#pe" x="573.3" y="67.7"/><use href="#pe" x="573.7" y="67.5"/><use href="#pe" x="574.0" y="67.3"/><use href="#pe" x="574.4" y="67.1"/><use href="#pe" x="574.7" y="66.9"/><use href="#pe" x="575.1" y="66.7"/><use href="#pe" x="575.4" y="66.5"/><use href="#pe" x="575.8" y="66.3"/><use href="#pe" x="576.1" y="66.2"/><use href="#pe" x="576.5" y="66.0"/><use href="#pe" x="576.8" y="65.8"/><use href="#pe" x="577.2" y="65.7"/><use href="#pe" x="577.5" y="65.5"/><use href="#pe" x="577.9" y="65.4"/><use href="#pe" x="578.2" y="65.2"/><use href="#pe" x="578.6" y="65.1"/><use href="#pe" x="578.9" y="64.9"/><use href="#pe" x="579.3" y="64.8"/><use href="#pe" x="579.6" y="64.6"/><use href="#pe" x="579.9" y="64.4"/><use href="#pe" x="580.3" y="64.2"/><use href="#pe" x="580.6" y="64.0"/><use href="#pe" x="580.9" y="63.8"/><use href="#pe" x="581.3" y="63.6"/><use href="#pe" x="581.6" y="63.4"/><use href="#pe" x="581.9" y="63.1"/><use href="#pe" x="582.3" y="62.9"/><use href="#pe" x="582.6" y="62.6"/><use href="#pe" x="582.9" y="62.4"/><use href="#pe" x="583.2" y="62.1"/><use href="#pe" x="583.6" y="61.9"/><use href="#pe" x="583.9" y="61.6"/><use href="#pe" x="584.2" y="61.3"/><use href="#pe" x="584.5" y="61.1"/><use href="#pe" x="584.8" y="60.8"/><use href="#pe" x="585.2" y="60.5"/><use href="#pe" x="585.5" y="60.3"/><use href="#pe" x="585.8" y="60.0"/><use href="#pe" x="586.1" y="59.8"/><use href="#pe" x="586.4" y="59.5"/><use href="#pe" x="586.7" y="59.3"/><use href="#pe" x="587.1" y="59.1"/><use href="#pe" x="587.4" y="58.9"/><use href="#pe" x="587.7" y="58.7"/><use href="#pe" x="588.0" y="58.5"/><use href="#pe" x="588.3" y="58.4"/><use href="#pe" x="588.6" y="58.3"/><use href="#pe" x="588.9" y="58.2"/><use href="#pe" x="589.2" y="58.1"/><use href="#pe" x="589.5" y="58.0"/><use href="#pe" x="589.8" y="57.9"/><use href="#pe" x="590.1" y="57.9"/><use href="#pe" x="590.4" y="57.8"/><use href="#pe" x="590.7" y="57.7"/><use href="#pe" x="591.0" y="57.7"/><use href="#pe" x="591.3" y="57.6"/><use href="#pe" x="591.6" y="57.6"/><use href="#pe" x="591.9" y="57.5"/><use href="#pe" x="592.2" y="57.4"/><use href="#pe" x="592.5" y="57.3"/><use href="#pe" x="592.8" y="57.2"/><use href="#pe" x="593.1" y="57.1"/><use href="#pe" x="593.3" y="57.0"/><use href="#pe" x="593.6" y="56.9"/><use href="#pe" x="593.9" y="56.8"/><use href="#pe" x="594.2" y="56.6"/><use href="#pe" x="594.5" y="56.5"/><use href="#pe" x="594.8" y="56.3"/><use href="#pe" x="595.1" y="56.2"/><use href="#pe" x="595.3" y="56.0"/><use href="#pe" x="595.6" y="55.9"/><use href="#pe" x="595.9" y="55.7"/><use href="#pe" x="596.2" y="55.5"/><use href="#pe" x="596.5" y="55.4"/><use href="#pe" x="596.8" y="55.2"/><use href="#pe" x="597.0" y="55.0"/><use href="#pe" x="597.3" y="54.8"/><use href="#pe" x="597.6" y="54.6"/><use href="#pe" x="597.9" y="54.5"/><use href="#pe" x="598.1" y="54.3"/><use href="#pe" x="598.4" y="54.1"/><use href="#pe" x="598.7" y="53.9"/><use href="#pe" x="599.0" y="53.7"/><use href="#pe" x="599.2" y="53.5"/><use href="#pe" x="599.5" y="53.4"/><use href="#pe" x="599.8" y="53.2"/><use href="#pe" x="600.0" y="53.0"/><use href="#pe" x="600.3" y="52.8"/><use href="#pe" x="600.6" y="52.7"/><use href="#pe" x="600.8" y="52.5"/><use href="#pe" x="601.1" y="52.4"/><use href="#pe" x="601.4" y="52.2"/><use href="#pe" x="601.6" y="52.1"/><use href="#pe" x="601.9" y="51.9"/><use href="#pe" x="602.1" y="51.8"/><use href="#pe" x="602.4" y="51.6"/><use href="#pe" x="602.7" y="51.5"/><use href="#pe" x="602.9" y="51.4"/><use href="#pe" x="603.2" y="51.2"/><use href="#pe" x="603.4" y="51.1"/><use href="#pe" x="603.7" y="51.0"/><use href="#pe" x="604.0" y="50.8"/><use href="#pe" x="604.2" y="50.7"/><use href="#pe" x="604.5" y="50.6"/><use href="#pe" x="604.7" y="50.5"/><use href="#pe" x="605.0" y="50.3"/><use href="#pe" x="605.2" y="50.2"/><use href="#pe" x="605.5" y="50.1"/><use href="#pe" x="605.7" y="50.0"/><use href="#pe" x="606.0" y="49.9"/><use href="#pe" x="606.2" y="49.8"/><use href="#pe" x="606.5" y="49.7"/><use href="#pe" x="606.7" y="49.6"/><use href="#pe" x="607.0" y="49.5"/><use href="#pe" x="607.2" y="49.4"/><use href="#pe" x="607.5" y="49.3"/><use href="#pe" x="607.7" y="49.2"/><use href="#pe" x="608.0" y="49.1"/><use href="#pe" x="608.2" y="49.0"/><use href="#pe" x="608.5" y="48.9"/><use href="#pe" x="608.7" y="48.8"/><use href="#pe" x="608.9" y="48.7"/><use href="#pe" x="609.2" y="48.7"/><use href="#pe" x="609.4" y="48.6"/><use href="#pe" x="609.7" y="48.5"/><use href="#pe" x="609.9" y="48.4"/><use href="#pe" x="610.1" y="48.3"/><use href="#pe" x="610.4" y="48.2"/><use href="#pe" x="610.6" y="48.1"/><use href="#pe" x="610.9" y="48.0"/><use href="#pe" x="611.1" y="47.9"/><use href="#pe" x="611.3" y="47.8"/><use href="#pe" x="611.6" y="47.7"/><use href="#pe" x="611.8" y="47.6"/><use href="#pe" x="612.0" y="47.4"/><use href="#pe" x="612.3" y="47.3"/><use href="#pe" x="612.5" y="47.2"/><use href="#pe" x="612.7" y="47.0"/><use href="#pe" x="613.0" y="46.9"/><use href="#pe" x="613.2" y="46.7"/><use href="#pe" x="613.4" y="46.6"/><use href="#pe" x="613.7" y="46.4"/><use href="#pe" x="613.9" y="46.2"/><use href="#pe" x="614.1" y="46.1"/><use href="#pe" x="614.3" y="45.9"/><use href="#pe" x="614.6" y="45.7"/><use href="#pe" x="614.8" y="45.5"/><use href="#pe" x="615.0" y="45.4"/><use href="#pe" x="615.3" y="45.2"/><use href="#pe" x="615.5" y="45.0"/><use href="#pe" x="615.7" y="44.8"/><use href="#pe" x="615.9" y="44.6"/><use href="#pe" x="616.2" y="44.5"/><use href="#pe" x="616.4" y="44.3"/><use href="#pe" x="616.6" y="44.1"/><use href="#pe" x="616.8" y="44.0"/><use href="#pe" x="617.0" y="43.8"/><use href="#pe" x="617.3" y="43.6"/><use href="#pe" x="617.5" y="43.5"/><use href="#pe" x="617.7" y="43.3"/><use href="#pe" x="617.9" y="43.1"/><use href="#pe" x="618.1" y="43.0"/><use href="#pe" x="618.4" y="42.8"/><use href="#pe" x="618.6" y="42.7"/><use href="#pe" x="618.8" y="42.5"/><use href="#pe" x="619.0" y="42.4"/><use href="#pe" x="619.2" y="42.3"/><use href="#pe" x="619.4" y="42.1"/><use href="#pe" x="619.7" y="42.0"/><use href="#pe" x="619.9" y="41.9"/><use href="#pe" x="620.1" y="41.8"/><use href="#pe" x="620.3" y="41.7"/><use href="#pe" x="620.5" y="41.5"/><use href="#pe" x="620.7" y="41.4"/><use href="#pe" x="620.9" y="41.3"/><use href="#pe" x="621.1" y="41.3"/><use href="#pe" x="621.4" y="41.2"/><use href="#pe" x="621.6" y="41.1"/><use href="#pe" x="621.8" y="41.0"/><use href="#pe" x="622.0" y="40.9"/><use href="#pe" x="622.2" y="40.8"/><use href="#pe" x="622.4" y="40.8"/><use href="#pe" x="622.6" y="40.7"/><use href="#pe" x="622.8" y="40.6"/><use href="#pe" x="623.0" y="40.5"/><use href="#pe" x="623.2" y="40.5"/><use href="#pe" x="623.4" y="40.4"/><use href="#pe" x="623.6" y="40.3"/><use href="#pe" x="623.8" y="40.3"/><use href="#pe" x="624.0" y="40.2"/><use href="#pe" x="624.3" y="40.1"/><use href="#pe" x="624.5" y="40.1"/><use href="#pe" x="624.7" y="40.0"/><use href="#pe" x="624.9" y="39.9"/><use href="#pe" x="625.1" y="39.9"/><use href="#pe" x="625.3" y="39.8"/><use href="#pe" x="625.5" y="39.7"/><use href="#pe" x="625.7" y="39.6"/><use href="#pe" x="625.9" y="39.5"/><use href="#pe" x="626.1" y="39.5"/><use href="#pe" x="626.3" y="39.4"/><use href="#pe" x="626.5" y="39.3"/><use href="#pe" x="626.7" y="39.2"/><use href="#pe" x="626.9" y="39.1"/><use href="#pe" x="627.1" y="39.0"/><use href="#pe" x="627.3" y="38.9"/><use href="#pe" x="627.4" y="38.8"/><use href="#pe" x="627.6" y="38.6"/><use href="#pe" x="627.8" y="38.5"/><use href="#pe" x="628.0" y="38.4"/><use href="#pe" x="628.2" y="38.2"/><use href="#pe" x="628.4" y="38.1"/><use href="#pe" x="628.6" y="37.9"/><use href="#pe" x="628.8" y="37.8"/><use href="#pe" x="629.0" y="37.6"/><use href="#pe" x="629.2" y="37.5"/><use href="#pe" x="629.4" y="37.3"/><use href="#pe" x="629.6" y="37.1"/><use href="#pe" x="629.8" y="37.0"/><use href="#pe" x="630.0" y="36.8"/><use href="#pe" x="630.2" y="36.7"/><use href="#pe" x="630.3" y="36.5"/><use href="#pe" x="630.5" y="36.4"/><use href="#pe" x="630.7" y="36.2"/><use href="#pe" x="630.9" y="36.1"/><use href="#pe" x="631.1" y="36.0"/><use href="#pe" x="631.3" y="35.9"/><use href="#pe" x="631.5" y="35.7"/><use href="#pe" x="631.7" y="35.7"/><use href="#pe" x="631.9" y="35.6"/><use href="#pe" x="632.0" y="35.5"/><use href="#pe" x="632.2" y="35.4"/><use href="#pe" x="632.4" y="35.4"/><use href="#pe" x="632.6" y="35.3"/><use href="#pe" x="632.8" y="35.3"/><use href="#pe" x="633.0" y="35.3"/><use href="#pe" x="633.1" y="35.2"/><use href="#pe" x="633.3" y="35.2"/><use href="#pe" x="633.5" y="35.2"/><use href="#pe" x="633.7" y="35.2"/><use href="#pe" x="633.9" y="35.2"/><use href="#pe" x="634.1" y="35.2"/><use href="#pe" x="634.2" y="35.2"/><use href="#pe" x="634.4" y="35.2"/><use href="#pe" x="634.6" y="35.2"/><use href="#pe" x="634.8" y="35.2"/><use href="#pe" x="635.0" y="35.1"/></g>
<line x1="321.9" y1="3.8" x2="321.9" y2="578" stroke="#777" stroke-width="2.8" stroke-dasharray="3.8 11.8"/>
<line x1="464.5" y1="3.8" x2="464.5" y2="578" stroke="#777" stroke-width="2.8" stroke-dasharray="3.8 11.8"/>
<rect x="106.6" y="1.6" width="576.0" height="576.5" fill="none" stroke="#000" stroke-width="1.9"/>
<path d="M106.6 578.1v10M167.6 578.1v5M167.6 1.6v5M203.2 578.1v5M203.2 1.6v5M228.5 578.1v5M228.5 1.6v5M248.1 578.1v5M248.1 1.6v5M264.2 578.1v5M264.2 1.6v5M277.7 578.1v5M277.7 1.6v5M289.5 578.1v5M289.5 1.6v5M299.8 578.1v5M299.8 1.6v5M309.1 578.1v10M309.1 1.6v10M370.1 578.1v5M370.1 1.6v5M405.7 578.1v5M405.7 1.6v5M431.0 578.1v5M431.0 1.6v5M450.6 578.1v5M450.6 1.6v5M466.7 578.1v5M466.7 1.6v5M480.2 578.1v5M480.2 1.6v5M492.0 578.1v5M492.0 1.6v5M502.3 578.1v5M502.3 1.6v5M511.6 578.1v10M511.6 1.6v10M572.6 578.1v5M572.6 1.6v5M608.2 578.1v5M608.2 1.6v5M633.5 578.1v5M633.5 1.6v5M653.1 578.1v5M653.1 1.6v5M669.2 578.1v5M669.2 1.6v5M682.7 578.1v5M682.7 1.6v5M106.6 578.5h-5M682.6 578.5h-5M106.6 564.7h-5M682.6 564.7h-5M106.6 554.0h-5M682.6 554.0h-5M106.6 545.2h-5M682.6 545.2h-5M106.6 537.8h-5M682.6 537.8h-5M106.6 531.4h-5M682.6 531.4h-5M106.6 525.8h-5M682.6 525.8h-5M106.6 520.7h-10M682.6 520.7h-10M106.6 487.4h-5M682.6 487.4h-5M106.6 468.0h-5M682.6 468.0h-5M106.6 454.2h-5M682.6 454.2h-5M106.6 443.5h-5M682.6 443.5h-5M106.6 434.7h-5M682.6 434.7h-5M106.6 427.3h-5M682.6 427.3h-5M106.6 420.9h-5M682.6 420.9h-5M106.6 415.3h-5M682.6 415.3h-5M106.6 410.2h-10M682.6 410.2h-10M106.6 376.9h-5M682.6 376.9h-5M106.6 357.5h-5M682.6 357.5h-5M106.6 343.7h-5M682.6 343.7h-5M106.6 333.0h-5M682.6 333.0h-5M106.6 324.2h-5M682.6 324.2h-5M106.6 316.8h-5M682.6 316.8h-5M106.6 310.4h-5M682.6 310.4h-5M106.6 304.8h-5M682.6 304.8h-5M106.6 299.7h-10M682.6 299.7h-10M106.6 266.4h-5M682.6 266.4h-5M106.6 247.0h-5M682.6 247.0h-5M106.6 233.2h-5M682.6 233.2h-5M106.6 222.5h-5M682.6 222.5h-5M106.6 213.7h-5M682.6 213.7h-5M106.6 206.3h-5M682.6 206.3h-5M106.6 199.9h-5M682.6 199.9h-5M106.6 194.3h-5M682.6 194.3h-5M106.6 189.2h-10M682.6 189.2h-10M106.6 155.9h-5M682.6 155.9h-5M106.6 136.5h-5M682.6 136.5h-5M106.6 122.7h-5M682.6 122.7h-5M106.6 112.0h-5M682.6 112.0h-5M106.6 103.2h-5M682.6 103.2h-5M106.6 95.8h-5M682.6 95.8h-5M106.6 89.4h-5M682.6 89.4h-5M106.6 83.8h-5M682.6 83.8h-5M106.6 78.7h-10M682.6 78.7h-10M106.6 45.4h-5M682.6 45.4h-5M106.6 26.0h-5M682.6 26.0h-5M106.6 12.2h-5M682.6 12.2h-5M106.6 1.5h-5M682.6 1.5h-5" stroke="#000" stroke-width="1.9" fill="none"/>
<text x="88.4" y="86.3" text-anchor="end" font-size="22" transform="translate(0 86.3) scale(1 1.08) translate(0 -86.3)">100</text>
<text x="88.4" y="196.8" text-anchor="end" font-size="22" transform="translate(0 196.8) scale(1 1.08) translate(0 -196.8)">10</text>
<text x="88.4" y="307.3" text-anchor="end" font-size="22" transform="translate(0 307.3) scale(1 1.08) translate(0 -307.3)">1</text>
<text x="88.4" y="417.8" text-anchor="end" font-size="22" transform="translate(0 417.8) scale(1 1.08) translate(0 -417.8)">0.1</text>
<text x="88.4" y="528.3" text-anchor="end" font-size="22" transform="translate(0 528.3) scale(1 1.08) translate(0 -528.3)">0.01</text>
<text x="106.2" y="613.8" text-anchor="middle" font-size="22" transform="translate(0 613.8) scale(1 1.08) translate(0 -613.8)">0.01</text>
<text x="309.2" y="613.8" text-anchor="middle" font-size="22" transform="translate(0 613.8) scale(1 1.08) translate(0 -613.8)">0.1</text>
<text x="511.6" y="613.8" text-anchor="middle" font-size="22" transform="translate(0 613.8) scale(1 1.08) translate(0 -613.8)">1</text>
<text x="166" y="38" text-anchor="middle" font-size="13.5">B (G)</text>
<path d="M125.3 50.7h32.2" stroke="#000000" stroke-width="1.3"/>
<path d="M138.63 48.13h5.15v5.15h-5.15z" stroke="#000000" stroke-width="1.6" fill="#fff"/>
<text x="161.3" y="55.9" font-size="14">22.00</text>
<path d="M125.3 67.9h32.2" stroke="#ff0000" stroke-width="1.3"/>
<path d="M138.16 67.92a3.04 3.04 0 1 0 6.08 0a3.04 3.04 0 1 0 -6.08 0z" stroke="#ff0000" stroke-width="1.6" fill="#fff"/>
<text x="161.3" y="73.1" font-size="14">24.87</text>
<path d="M125.3 85.1h32.2" stroke="#00ff00" stroke-width="1.3"/>
<path d="M141.2 81.13L144.67 87.14L137.73 87.14z" stroke="#00ff00" stroke-width="1.6" fill="#fff"/>
<text x="161.3" y="90.3" font-size="14">27.75</text>
<path d="M125.3 102.4h32.2" stroke="#0000ff" stroke-width="1.3"/>
<path d="M141.2 106.37L137.73 100.36L144.67 100.36z" stroke="#0000ff" stroke-width="1.6" fill="#fff"/>
<text x="161.3" y="107.6" font-size="14">30.53</text>
<path d="M125.3 119.6h32.2" stroke="#ff00ff" stroke-width="1.3"/>
<path d="M141.2 115.67l3.91 3.91l-3.91 3.91l-3.91 -3.91z" stroke="#ff00ff" stroke-width="1.6" fill="#fff"/>
<text x="161.3" y="124.8" font-size="14">33.32</text>
<path d="M125.3 136.8h32.2" stroke="#808000" stroke-width="1.3"/>
<path d="M137.19 136.8L143.2 133.33L143.2 140.27z" stroke="#808000" stroke-width="1.6" fill="#fff"/>
<text x="161.3" y="142.0" font-size="14">35.94</text>
<path d="M125.3 154.0h32.2" stroke="#000080" stroke-width="1.3"/>
<path d="M145.21 154.02L139.2 157.49L139.2 150.55z" stroke="#000080" stroke-width="1.6" fill="#fff"/>
<text x="161.3" y="159.2" font-size="14">38.57</text>
<path d="M125.3 171.2h32.2" stroke="#800080" stroke-width="1.3"/>
<path d="M144.26 173.01L141.2 174.77L138.14 173.01L138.14 169.47L141.2 167.71L144.26 169.47z" stroke="#800080" stroke-width="1.6" fill="#fff"/>
<text x="161.3" y="176.4" font-size="14">41.33</text>
<path d="M125.3 188.5h32.2" stroke="#008000" stroke-width="1.3"/>
<path d="M141.2 185.24L142.15 187.4L144.5 187.64L142.73 189.21L143.24 191.52L141.2 190.32L139.16 191.52L139.67 189.21L137.9 187.64L140.25 187.4z" stroke="#008000" stroke-width="1.6" fill="#fff" stroke-linejoin="round"/>
<text x="161.3" y="193.7" font-size="14">44.09</text>
<path d="M125.3 205.7h32.2" stroke="#ff8000" stroke-width="1.3"/>
<path d="M141.2 202.52L144.5 204.92L143.24 208.8L139.16 208.8L137.9 204.92z" stroke="#ff8000" stroke-width="1.6" fill="#fff"/>
<text x="161.3" y="210.9" font-size="14">49.26</text>
<text x="384" y="651" text-anchor="middle" font-size="35" font-weight="bold">t (s)</text>
<text transform="translate(34 307.5) rotate(-90)" text-anchor="middle" font-size="36" font-weight="bold">&lt;<tspan font-weight="normal">&#916;</tspan>r<tspan dy="-14" font-size="24">2</tspan><tspan dy="14">(t)&gt;/</tspan><tspan font-weight="normal">&#963;</tspan><tspan dy="-14" font-size="24">2</tspan></text>
</g>
</svg></body></html>
